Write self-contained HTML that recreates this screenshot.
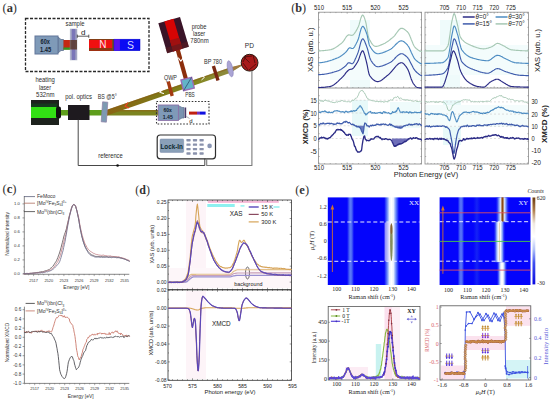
<!DOCTYPE html>
<html><head><meta charset="utf-8"><style>
html,body{margin:0;padding:0;background:#fff;}
body{width:550px;height:402px;overflow:hidden;font-family:"Liberation Sans", sans-serif;}
svg{display:block;}
</style></head><body>
<svg width="550" height="402" viewBox="0 0 550 402">
<rect x="0" y="0" width="550" height="402" fill="#fff"/>
<text x="2.50" y="11.80" font-size="12.3" fill="#333" text-anchor="start" font-family='"Liberation Serif", serif' font-weight="normal"  textLength="14.5" lengthAdjust="spacingAndGlyphs">(<tspan font-weight="bold">a</tspan>)</text>
<rect x="25.50" y="18.50" width="123.50" height="53.00" fill="none" stroke="#2a2a2a" stroke-width="1.3" stroke-dasharray="3 1.5"/>
<polygon points="58.0,37.0 61.0,39.5 63.5,39.5 63.5,50.5 61.0,50.5 58.0,53.0" fill="#7a93b0" stroke="#5f7290" stroke-width="0.8" />
<rect x="35.00" y="36.00" width="23.00" height="18.00" fill="#7f9ab8" stroke="#63769a" stroke-width="1" />
<text x="45.20" y="44.00" font-size="6.4" fill="#142230" text-anchor="middle" font-family='"Liberation Sans", sans-serif' font-weight="bold"  textLength="9.4" lengthAdjust="spacingAndGlyphs">60x</text>
<text x="45.60" y="51.60" font-size="6.4" fill="#142230" text-anchor="middle" font-family='"Liberation Sans", sans-serif' font-weight="bold"  textLength="11.2" lengthAdjust="spacingAndGlyphs">1.45</text>
<rect x="63.50" y="40.00" width="7.00" height="9.50" fill="#c42812" stroke="none" stroke-width="1" />
<rect x="63.50" y="47.50" width="7.00" height="2.20" fill="#2f9a22" stroke="none" stroke-width="1" />
<rect x="70.20" y="29.00" width="6.80" height="31.00" fill="#9a9cc0" stroke="#b4bccc" stroke-width="0.6" />
<rect x="72.00" y="29.00" width="3.20" height="31.00" fill="#7a76b8" stroke="none" stroke-width="1" />
<rect x="70.20" y="40.00" width="6.80" height="9.50" fill="#5a3a2a" stroke="none" stroke-width="1" opacity="0.85"/>
<text x="75.00" y="25.50" font-size="6.6" fill="#2c2c2c" text-anchor="middle" font-family='"Liberation Sans", sans-serif' font-weight="normal"  textLength="18.9" lengthAdjust="spacingAndGlyphs">sample</text>
<text x="83.30" y="35.20" font-size="8" fill="#222" text-anchor="middle" font-family='"Liberation Sans", sans-serif' font-weight="normal" >d</text>
<line x1="77.30" y1="36.20" x2="88.80" y2="36.20" stroke="#333" stroke-width="0.8" />
<line x1="77.30" y1="34.60" x2="77.30" y2="37.80" stroke="#333" stroke-width="0.8" />
<line x1="88.80" y1="34.60" x2="88.80" y2="37.80" stroke="#333" stroke-width="0.8" />
<rect x="89.00" y="39.00" width="25.00" height="12.00" fill="#f01010" stroke="none" stroke-width="1" />
<rect x="89.00" y="39.00" width="25.00" height="0.80" fill="#6a4a18" stroke="none" stroke-width="1" />
<rect x="89.00" y="48.00" width="25.00" height="2.80" fill="#8a3812" stroke="none" stroke-width="1" />
<rect x="112.20" y="39.00" width="1.80" height="12.00" fill="#6a5420" stroke="none" stroke-width="1" />
<text x="102.80" y="48.00" font-size="10" fill="#ffe4ee" text-anchor="middle" font-family='"Liberation Sans", sans-serif' font-weight="normal" >N</text>
<rect x="114.00" y="39.20" width="26.00" height="11.50" fill="#0a0af4" stroke="#0000c8" stroke-width="0.5" />
<rect x="114.20" y="39.40" width="5.70" height="11.10" fill="#5a10f0" stroke="none" stroke-width="1" />
<text x="130.40" y="49.00" font-size="10.5" fill="#d8dcff" text-anchor="middle" font-family='"Liberation Sans", sans-serif' font-weight="normal" >S</text>
<rect x="31.00" y="100.00" width="28.00" height="25.00" fill="#1d221d" stroke="none" stroke-width="1" />
<rect x="31.00" y="107.00" width="26.00" height="11.00" fill="#32e014" stroke="none" stroke-width="1" />
<rect x="31.00" y="103.50" width="26.00" height="3.50" fill="#104a20" stroke="none" stroke-width="1" opacity="0.6"/>
<rect x="56" y="106.5" width="5" height="12" rx="2" fill="#101010"/>
<rect x="61.00" y="110.00" width="41.50" height="5.50" fill="#5e9e1c" stroke="none" stroke-width="1" />
<rect x="68.00" y="105.00" width="21.50" height="15.00" fill="#1e1a1f" stroke="none" stroke-width="1" />
<rect x="107.00" y="110.00" width="52.00" height="5.50" fill="#7c8420" stroke="none" stroke-width="1" />
<rect x="107.00" y="110.00" width="52.00" height="1.50" fill="#8a6a18" stroke="none" stroke-width="1" opacity="0.7"/>
<defs><linearGradient id="gbeam" x1="107" y1="112" x2="230" y2="70" gradientUnits="userSpaceOnUse"><stop offset="0" stop-color="#8a6414"/><stop offset="0.45" stop-color="#7e7a18"/><stop offset="0.7" stop-color="#84881e"/><stop offset="1" stop-color="#8e8a40"/></linearGradient></defs>
<polygon points="107,109.8 230,67.5 243,65.0 230,73.0 107,115.5" fill="url(#gbeam)"/>
<polygon points="107,109.8 230,67.5 230,68.9 107,111.2" fill="#8a5a14" opacity="0.5"/>
<polygon points="231,67.2 245,63.4 231,71.8" fill="#a07a40"/>
<line x1="177.80" y1="50.00" x2="186.50" y2="81.00" stroke="#8c2e0c" stroke-width="4.2" />
<g transform="translate(173.6,35.1) rotate(-16.5)"><rect x="-11.3" y="-15.6" width="22.6" height="31.2" fill="#3a1428"/><rect x="-5" y="-15.6" width="9.5" height="31.2" fill="#d60404"/><rect x="-5" y="4" width="9.5" height="11.6" fill="#a01010"/><rect x="-11.3" y="10" width="22.6" height="5.6" fill="#5a1a20" opacity="0.6"/></g>
<g transform="translate(104.5,112) rotate(4)"><rect x="-2.6" y="-10" width="5.2" height="20" fill="#7d9ab2" stroke="#8f7fa8" stroke-width="0.7"/></g>
<line x1="168.20" y1="81.50" x2="172.20" y2="96.00" stroke="#a43a12" stroke-width="3.4" />
<g transform="translate(187.6,84) rotate(-14)"><rect x="-5.5" y="-5.5" width="11" height="11" fill="#62b4c8" stroke="#9a6cb8" stroke-width="1.4"/><line x1="-5.5" y1="5.5" x2="5.5" y2="-5.5" stroke="#2a4a6a" stroke-width="0.7"/></g>
<line x1="213.40" y1="66.00" x2="218.00" y2="80.50" stroke="#7a2812" stroke-width="3.4" />
<ellipse cx="230.2" cy="68.8" rx="2.6" ry="8.2" fill="#aaa4d4" stroke="#8a82bc" stroke-width="0.6" transform="rotate(-12 230.2 68.8)"/>
<circle cx="249.6" cy="62.7" r="8.4" fill="#a81a1a" stroke="#2a1a10" stroke-width="1"/>
<path d="M244,57 L252,56 M253,55 L255,63 M256,64 L249,70 M248,70 L243,63 M243,62 L246,56 M249.6,62.7 L244,57" stroke="#4a0a0a" stroke-width="0.8" fill="none"/>
<polyline points="162.5,89.5 159.8,92.2 163.5,93.5" fill="none" stroke="#fff" stroke-width="1.1" stroke-linejoin="round" stroke-linecap="round" />
<polyline points="178.5,58.0 180.8,61.2 183.4,57.6" fill="none" stroke="#fff" stroke-width="1.1" stroke-linejoin="round" stroke-linecap="round" />
<polyline points="201.3,75.3 204.5,77.2 201.8,79.7" fill="none" stroke="#fff" stroke-width="1.0" stroke-linejoin="round" stroke-linecap="round" />
<polyline points="127.6,103.0 125.0,106.3 128.6,107.8" fill="none" stroke="#f04020" stroke-width="1.2" stroke-linejoin="round" stroke-linecap="round" />
<rect x="156.50" y="101.50" width="52.50" height="22.50" fill="none" stroke="#333" stroke-width="1.1" stroke-dasharray="1.6 1.6"/>
<polygon points="178.4,105.5 182.0,107.5 184.0,107.5 184.0,118.0 182.0,118.0 178.4,120.0" fill="#7a93b0" stroke="#5f7290" stroke-width="0.7" />
<rect x="158.20" y="105.00" width="20.20" height="15.40" fill="#7f9ab8" stroke="#8a70a8" stroke-width="0.9" />
<text x="167.60" y="111.60" font-size="5.8" fill="#142230" text-anchor="middle" font-family='"Liberation Sans", sans-serif' font-weight="bold"  textLength="8.4" lengthAdjust="spacingAndGlyphs">60x</text>
<text x="167.80" y="118.60" font-size="5.8" fill="#142230" text-anchor="middle" font-family='"Liberation Sans", sans-serif' font-weight="bold"  textLength="10.0" lengthAdjust="spacingAndGlyphs">1.45</text>
<rect x="184.60" y="107.50" width="1.60" height="10.50" fill="#4a3a6a" stroke="none" stroke-width="1" />
<rect x="189.00" y="111.60" width="8.00" height="3.00" fill="#c02010" stroke="none" stroke-width="1" />
<rect x="197.00" y="111.60" width="3.00" height="3.00" fill="#7030c0" stroke="none" stroke-width="1" />
<rect x="200.00" y="111.60" width="5.60" height="3.00" fill="#1010e0" stroke="none" stroke-width="1" />
<text x="191.00" y="122.60" font-size="6" fill="#222" text-anchor="middle" font-family='"Liberation Sans", sans-serif' font-weight="normal" >d</text>
<line x1="186.50" y1="116.50" x2="189.50" y2="118.50" stroke="#555" stroke-width="0.5" />
<rect x="157.2" y="135" width="58.3" height="23.8" rx="3" fill="#fff" stroke="#2e2e2e" stroke-width="1.2"/>
<rect x="160.00" y="139.00" width="23.70" height="13.40" fill="#8aa0b8" stroke="#7a88a8" stroke-width="0.5" rx="1"/>
<text x="171.70" y="148.50" font-size="7.1" fill="#0e2a30" text-anchor="middle" font-family='"Liberation Sans", sans-serif' font-weight="bold"  textLength="22.4" lengthAdjust="spacingAndGlyphs">Lock-In</text>
<rect x="186.40" y="139.00" width="4.20" height="2.40" fill="#8a92ac" stroke="none" stroke-width="1" rx="0.6"/>
<rect x="186.40" y="143.40" width="4.20" height="2.40" fill="#8a92ac" stroke="none" stroke-width="1" rx="0.6"/>
<rect x="186.40" y="147.90" width="4.20" height="2.40" fill="#8a92ac" stroke="none" stroke-width="1" rx="0.6"/>
<rect x="186.40" y="152.30" width="4.20" height="2.40" fill="#8a92ac" stroke="none" stroke-width="1" rx="0.6"/>
<rect x="192.90" y="139.00" width="4.20" height="2.40" fill="#8a92ac" stroke="none" stroke-width="1" rx="0.6"/>
<rect x="192.90" y="143.40" width="4.20" height="2.40" fill="#8a92ac" stroke="none" stroke-width="1" rx="0.6"/>
<rect x="192.90" y="147.90" width="4.20" height="2.40" fill="#8a92ac" stroke="none" stroke-width="1" rx="0.6"/>
<rect x="192.90" y="152.30" width="4.20" height="2.40" fill="#8a92ac" stroke="none" stroke-width="1" rx="0.6"/>
<rect x="199.50" y="139.00" width="4.20" height="2.40" fill="#8a92ac" stroke="none" stroke-width="1" rx="0.6"/>
<rect x="199.50" y="143.40" width="4.20" height="2.40" fill="#8a92ac" stroke="none" stroke-width="1" rx="0.6"/>
<rect x="199.50" y="147.90" width="4.20" height="2.40" fill="#8a92ac" stroke="none" stroke-width="1" rx="0.6"/>
<rect x="199.50" y="152.30" width="4.20" height="2.40" fill="#8a92ac" stroke="none" stroke-width="1" rx="0.6"/>
<circle cx="209.6" cy="145.9" r="2.3" fill="#8a96b4"/>
<polyline points="78.2,120.0 78.2,165.5 204.8,165.5 204.8,159.0" fill="none" stroke="#333" stroke-width="0.9" stroke-linejoin="round" stroke-linecap="round" />
<polyline points="251.9,71.2 251.9,165.5 206.7,165.5 206.7,159.0" fill="none" stroke="#7a7a7a" stroke-width="1.1" stroke-linejoin="round" stroke-linecap="round" />
<circle cx="117.6" cy="165.5" r="1.3" fill="#111"/>
<text x="199.10" y="28.90" font-size="6.6" fill="#2c2c2c" text-anchor="middle" font-family='"Liberation Sans", sans-serif' font-weight="normal"  textLength="14.8" lengthAdjust="spacingAndGlyphs">probe</text>
<text x="199.10" y="35.50" font-size="6.6" fill="#2c2c2c" text-anchor="middle" font-family='"Liberation Sans", sans-serif' font-weight="normal"  textLength="12.2" lengthAdjust="spacingAndGlyphs">laser</text>
<text x="199.50" y="42.90" font-size="6.6" fill="#2c2c2c" text-anchor="middle" font-family='"Liberation Sans", sans-serif' font-weight="normal"  textLength="18.3" lengthAdjust="spacingAndGlyphs">780nm</text>
<text x="249.40" y="47.90" font-size="6.6" fill="#2c2c2c" text-anchor="middle" font-family='"Liberation Sans", sans-serif' font-weight="normal" >PD</text>
<text x="213.00" y="64.00" font-size="6.6" fill="#2c2c2c" text-anchor="middle" font-family='"Liberation Sans", sans-serif' font-weight="normal"  textLength="18" lengthAdjust="spacingAndGlyphs">BP 780</text>
<text x="170.50" y="80.00" font-size="6.6" fill="#2c2c2c" text-anchor="middle" font-family='"Liberation Sans", sans-serif' font-weight="normal"  textLength="13" lengthAdjust="spacingAndGlyphs">QWP</text>
<text x="190.00" y="96.50" font-size="6.6" fill="#2c2c2c" text-anchor="middle" font-family='"Liberation Sans", sans-serif' font-weight="normal"  textLength="9.5" lengthAdjust="spacingAndGlyphs">PBS</text>
<text x="45.10" y="82.40" font-size="6.6" fill="#2c2c2c" text-anchor="middle" font-family='"Liberation Sans", sans-serif' font-weight="normal"  textLength="19.4" lengthAdjust="spacingAndGlyphs">heating</text>
<text x="45.00" y="89.50" font-size="6.6" fill="#2c2c2c" text-anchor="middle" font-family='"Liberation Sans", sans-serif' font-weight="normal"  textLength="12" lengthAdjust="spacingAndGlyphs">laser</text>
<text x="45.30" y="96.60" font-size="6.6" fill="#2c2c2c" text-anchor="middle" font-family='"Liberation Sans", sans-serif' font-weight="normal"  textLength="18.4" lengthAdjust="spacingAndGlyphs">532nm</text>
<text x="78.60" y="98.50" font-size="6.6" fill="#2c2c2c" text-anchor="middle" font-family='"Liberation Sans", sans-serif' font-weight="normal"  textLength="26.6" lengthAdjust="spacingAndGlyphs">pol. optics</text>
<text x="107.30" y="98.50" font-size="6.6" fill="#2c2c2c" text-anchor="middle" font-family='"Liberation Sans", sans-serif' font-weight="normal"  textLength="19" lengthAdjust="spacingAndGlyphs">BS @5°</text>
<text x="110.50" y="157.50" font-size="6.6" fill="#2c2c2c" text-anchor="middle" font-family='"Liberation Sans", sans-serif' font-weight="normal"  textLength="24.5" lengthAdjust="spacingAndGlyphs">reference</text>
<text x="291.20" y="11.80" font-size="12.3" fill="#333" text-anchor="start" font-family='"Liberation Serif", serif' font-weight="normal"  textLength="15.0" lengthAdjust="spacingAndGlyphs">(<tspan font-weight="bold">b</tspan>)</text>
<g opacity="0.4">
<rect x="350.00" y="20.00" width="20.00" height="68.00" fill="#d8f6f6" stroke="none" stroke-width="1" />
<rect x="330.00" y="50.00" width="95.00" height="30.00" fill="#e6fafa" stroke="none" stroke-width="1" />
<rect x="440.00" y="20.00" width="20.00" height="68.00" fill="#d8f6f6" stroke="none" stroke-width="1" />
<rect x="425.00" y="45.00" width="104.00" height="30.00" fill="#e2f8f8" stroke="none" stroke-width="1" />
<rect x="352.00" y="100.00" width="16.00" height="36.00" fill="#c8f2f2" stroke="none" stroke-width="1" />
<rect x="390.00" y="102.00" width="30.00" height="26.00" fill="#d8f6f6" stroke="none" stroke-width="1" />
<rect x="443.00" y="100.00" width="18.00" height="45.00" fill="#c8f2f2" stroke="none" stroke-width="1" />
<rect x="425.00" y="105.00" width="104.00" height="22.00" fill="#e6fafa" stroke="none" stroke-width="1" />
</g>
<rect x="318.60" y="12.20" width="103.00" height="151.80" fill="none" stroke="#8a8a8a" stroke-width="0.8" />
<line x1="318.60" y1="88.00" x2="421.60" y2="88.00" stroke="#8a8a8a" stroke-width="0.9" />
<rect x="425.00" y="12.20" width="103.50" height="151.80" fill="none" stroke="#8a8a8a" stroke-width="0.8" />
<line x1="425.00" y1="88.00" x2="528.50" y2="88.00" stroke="#8a8a8a" stroke-width="0.9" />
<line x1="319.00" y1="12.20" x2="319.00" y2="13.80" stroke="#777" stroke-width="0.5" />
<line x1="319.00" y1="164.00" x2="319.00" y2="162.40" stroke="#777" stroke-width="0.5" />
<line x1="319.00" y1="88.00" x2="319.00" y2="86.40" stroke="#777" stroke-width="0.5" />
<line x1="324.64" y1="12.20" x2="324.64" y2="13.10" stroke="#777" stroke-width="0.5" />
<line x1="324.64" y1="164.00" x2="324.64" y2="163.10" stroke="#777" stroke-width="0.5" />
<line x1="324.64" y1="88.00" x2="324.64" y2="87.10" stroke="#777" stroke-width="0.5" />
<line x1="330.28" y1="12.20" x2="330.28" y2="13.10" stroke="#777" stroke-width="0.5" />
<line x1="330.28" y1="164.00" x2="330.28" y2="163.10" stroke="#777" stroke-width="0.5" />
<line x1="330.28" y1="88.00" x2="330.28" y2="87.10" stroke="#777" stroke-width="0.5" />
<line x1="335.92" y1="12.20" x2="335.92" y2="13.10" stroke="#777" stroke-width="0.5" />
<line x1="335.92" y1="164.00" x2="335.92" y2="163.10" stroke="#777" stroke-width="0.5" />
<line x1="335.92" y1="88.00" x2="335.92" y2="87.10" stroke="#777" stroke-width="0.5" />
<line x1="341.56" y1="12.20" x2="341.56" y2="13.10" stroke="#777" stroke-width="0.5" />
<line x1="341.56" y1="164.00" x2="341.56" y2="163.10" stroke="#777" stroke-width="0.5" />
<line x1="341.56" y1="88.00" x2="341.56" y2="87.10" stroke="#777" stroke-width="0.5" />
<line x1="347.20" y1="12.20" x2="347.20" y2="13.80" stroke="#777" stroke-width="0.5" />
<line x1="347.20" y1="164.00" x2="347.20" y2="162.40" stroke="#777" stroke-width="0.5" />
<line x1="347.20" y1="88.00" x2="347.20" y2="86.40" stroke="#777" stroke-width="0.5" />
<line x1="352.84" y1="12.20" x2="352.84" y2="13.10" stroke="#777" stroke-width="0.5" />
<line x1="352.84" y1="164.00" x2="352.84" y2="163.10" stroke="#777" stroke-width="0.5" />
<line x1="352.84" y1="88.00" x2="352.84" y2="87.10" stroke="#777" stroke-width="0.5" />
<line x1="358.48" y1="12.20" x2="358.48" y2="13.10" stroke="#777" stroke-width="0.5" />
<line x1="358.48" y1="164.00" x2="358.48" y2="163.10" stroke="#777" stroke-width="0.5" />
<line x1="358.48" y1="88.00" x2="358.48" y2="87.10" stroke="#777" stroke-width="0.5" />
<line x1="364.12" y1="12.20" x2="364.12" y2="13.10" stroke="#777" stroke-width="0.5" />
<line x1="364.12" y1="164.00" x2="364.12" y2="163.10" stroke="#777" stroke-width="0.5" />
<line x1="364.12" y1="88.00" x2="364.12" y2="87.10" stroke="#777" stroke-width="0.5" />
<line x1="369.76" y1="12.20" x2="369.76" y2="13.10" stroke="#777" stroke-width="0.5" />
<line x1="369.76" y1="164.00" x2="369.76" y2="163.10" stroke="#777" stroke-width="0.5" />
<line x1="369.76" y1="88.00" x2="369.76" y2="87.10" stroke="#777" stroke-width="0.5" />
<line x1="375.40" y1="12.20" x2="375.40" y2="13.80" stroke="#777" stroke-width="0.5" />
<line x1="375.40" y1="164.00" x2="375.40" y2="162.40" stroke="#777" stroke-width="0.5" />
<line x1="375.40" y1="88.00" x2="375.40" y2="86.40" stroke="#777" stroke-width="0.5" />
<line x1="381.04" y1="12.20" x2="381.04" y2="13.10" stroke="#777" stroke-width="0.5" />
<line x1="381.04" y1="164.00" x2="381.04" y2="163.10" stroke="#777" stroke-width="0.5" />
<line x1="381.04" y1="88.00" x2="381.04" y2="87.10" stroke="#777" stroke-width="0.5" />
<line x1="386.68" y1="12.20" x2="386.68" y2="13.10" stroke="#777" stroke-width="0.5" />
<line x1="386.68" y1="164.00" x2="386.68" y2="163.10" stroke="#777" stroke-width="0.5" />
<line x1="386.68" y1="88.00" x2="386.68" y2="87.10" stroke="#777" stroke-width="0.5" />
<line x1="392.32" y1="12.20" x2="392.32" y2="13.10" stroke="#777" stroke-width="0.5" />
<line x1="392.32" y1="164.00" x2="392.32" y2="163.10" stroke="#777" stroke-width="0.5" />
<line x1="392.32" y1="88.00" x2="392.32" y2="87.10" stroke="#777" stroke-width="0.5" />
<line x1="397.96" y1="12.20" x2="397.96" y2="13.10" stroke="#777" stroke-width="0.5" />
<line x1="397.96" y1="164.00" x2="397.96" y2="163.10" stroke="#777" stroke-width="0.5" />
<line x1="397.96" y1="88.00" x2="397.96" y2="87.10" stroke="#777" stroke-width="0.5" />
<line x1="403.60" y1="12.20" x2="403.60" y2="13.80" stroke="#777" stroke-width="0.5" />
<line x1="403.60" y1="164.00" x2="403.60" y2="162.40" stroke="#777" stroke-width="0.5" />
<line x1="403.60" y1="88.00" x2="403.60" y2="86.40" stroke="#777" stroke-width="0.5" />
<line x1="409.24" y1="12.20" x2="409.24" y2="13.10" stroke="#777" stroke-width="0.5" />
<line x1="409.24" y1="164.00" x2="409.24" y2="163.10" stroke="#777" stroke-width="0.5" />
<line x1="409.24" y1="88.00" x2="409.24" y2="87.10" stroke="#777" stroke-width="0.5" />
<line x1="414.88" y1="12.20" x2="414.88" y2="13.10" stroke="#777" stroke-width="0.5" />
<line x1="414.88" y1="164.00" x2="414.88" y2="163.10" stroke="#777" stroke-width="0.5" />
<line x1="414.88" y1="88.00" x2="414.88" y2="87.10" stroke="#777" stroke-width="0.5" />
<line x1="420.52" y1="12.20" x2="420.52" y2="13.10" stroke="#777" stroke-width="0.5" />
<line x1="420.52" y1="164.00" x2="420.52" y2="163.10" stroke="#777" stroke-width="0.5" />
<line x1="420.52" y1="88.00" x2="420.52" y2="87.10" stroke="#777" stroke-width="0.5" />
<line x1="427.80" y1="12.20" x2="427.80" y2="13.80" stroke="#777" stroke-width="0.5" />
<line x1="427.80" y1="164.00" x2="427.80" y2="162.40" stroke="#777" stroke-width="0.5" />
<line x1="427.80" y1="88.00" x2="427.80" y2="86.40" stroke="#777" stroke-width="0.5" />
<line x1="431.12" y1="12.20" x2="431.12" y2="13.10" stroke="#777" stroke-width="0.5" />
<line x1="431.12" y1="164.00" x2="431.12" y2="163.10" stroke="#777" stroke-width="0.5" />
<line x1="431.12" y1="88.00" x2="431.12" y2="87.10" stroke="#777" stroke-width="0.5" />
<line x1="434.44" y1="12.20" x2="434.44" y2="13.10" stroke="#777" stroke-width="0.5" />
<line x1="434.44" y1="164.00" x2="434.44" y2="163.10" stroke="#777" stroke-width="0.5" />
<line x1="434.44" y1="88.00" x2="434.44" y2="87.10" stroke="#777" stroke-width="0.5" />
<line x1="437.76" y1="12.20" x2="437.76" y2="13.10" stroke="#777" stroke-width="0.5" />
<line x1="437.76" y1="164.00" x2="437.76" y2="163.10" stroke="#777" stroke-width="0.5" />
<line x1="437.76" y1="88.00" x2="437.76" y2="87.10" stroke="#777" stroke-width="0.5" />
<line x1="441.08" y1="12.20" x2="441.08" y2="13.10" stroke="#777" stroke-width="0.5" />
<line x1="441.08" y1="164.00" x2="441.08" y2="163.10" stroke="#777" stroke-width="0.5" />
<line x1="441.08" y1="88.00" x2="441.08" y2="87.10" stroke="#777" stroke-width="0.5" />
<line x1="444.40" y1="12.20" x2="444.40" y2="13.80" stroke="#777" stroke-width="0.5" />
<line x1="444.40" y1="164.00" x2="444.40" y2="162.40" stroke="#777" stroke-width="0.5" />
<line x1="444.40" y1="88.00" x2="444.40" y2="86.40" stroke="#777" stroke-width="0.5" />
<line x1="447.72" y1="12.20" x2="447.72" y2="13.10" stroke="#777" stroke-width="0.5" />
<line x1="447.72" y1="164.00" x2="447.72" y2="163.10" stroke="#777" stroke-width="0.5" />
<line x1="447.72" y1="88.00" x2="447.72" y2="87.10" stroke="#777" stroke-width="0.5" />
<line x1="451.04" y1="12.20" x2="451.04" y2="13.10" stroke="#777" stroke-width="0.5" />
<line x1="451.04" y1="164.00" x2="451.04" y2="163.10" stroke="#777" stroke-width="0.5" />
<line x1="451.04" y1="88.00" x2="451.04" y2="87.10" stroke="#777" stroke-width="0.5" />
<line x1="454.36" y1="12.20" x2="454.36" y2="13.10" stroke="#777" stroke-width="0.5" />
<line x1="454.36" y1="164.00" x2="454.36" y2="163.10" stroke="#777" stroke-width="0.5" />
<line x1="454.36" y1="88.00" x2="454.36" y2="87.10" stroke="#777" stroke-width="0.5" />
<line x1="457.68" y1="12.20" x2="457.68" y2="13.10" stroke="#777" stroke-width="0.5" />
<line x1="457.68" y1="164.00" x2="457.68" y2="163.10" stroke="#777" stroke-width="0.5" />
<line x1="457.68" y1="88.00" x2="457.68" y2="87.10" stroke="#777" stroke-width="0.5" />
<line x1="461.00" y1="12.20" x2="461.00" y2="13.80" stroke="#777" stroke-width="0.5" />
<line x1="461.00" y1="164.00" x2="461.00" y2="162.40" stroke="#777" stroke-width="0.5" />
<line x1="461.00" y1="88.00" x2="461.00" y2="86.40" stroke="#777" stroke-width="0.5" />
<line x1="464.32" y1="12.20" x2="464.32" y2="13.10" stroke="#777" stroke-width="0.5" />
<line x1="464.32" y1="164.00" x2="464.32" y2="163.10" stroke="#777" stroke-width="0.5" />
<line x1="464.32" y1="88.00" x2="464.32" y2="87.10" stroke="#777" stroke-width="0.5" />
<line x1="467.64" y1="12.20" x2="467.64" y2="13.10" stroke="#777" stroke-width="0.5" />
<line x1="467.64" y1="164.00" x2="467.64" y2="163.10" stroke="#777" stroke-width="0.5" />
<line x1="467.64" y1="88.00" x2="467.64" y2="87.10" stroke="#777" stroke-width="0.5" />
<line x1="470.96" y1="12.20" x2="470.96" y2="13.10" stroke="#777" stroke-width="0.5" />
<line x1="470.96" y1="164.00" x2="470.96" y2="163.10" stroke="#777" stroke-width="0.5" />
<line x1="470.96" y1="88.00" x2="470.96" y2="87.10" stroke="#777" stroke-width="0.5" />
<line x1="474.28" y1="12.20" x2="474.28" y2="13.10" stroke="#777" stroke-width="0.5" />
<line x1="474.28" y1="164.00" x2="474.28" y2="163.10" stroke="#777" stroke-width="0.5" />
<line x1="474.28" y1="88.00" x2="474.28" y2="87.10" stroke="#777" stroke-width="0.5" />
<line x1="477.60" y1="12.20" x2="477.60" y2="13.80" stroke="#777" stroke-width="0.5" />
<line x1="477.60" y1="164.00" x2="477.60" y2="162.40" stroke="#777" stroke-width="0.5" />
<line x1="477.60" y1="88.00" x2="477.60" y2="86.40" stroke="#777" stroke-width="0.5" />
<line x1="480.92" y1="12.20" x2="480.92" y2="13.10" stroke="#777" stroke-width="0.5" />
<line x1="480.92" y1="164.00" x2="480.92" y2="163.10" stroke="#777" stroke-width="0.5" />
<line x1="480.92" y1="88.00" x2="480.92" y2="87.10" stroke="#777" stroke-width="0.5" />
<line x1="484.24" y1="12.20" x2="484.24" y2="13.10" stroke="#777" stroke-width="0.5" />
<line x1="484.24" y1="164.00" x2="484.24" y2="163.10" stroke="#777" stroke-width="0.5" />
<line x1="484.24" y1="88.00" x2="484.24" y2="87.10" stroke="#777" stroke-width="0.5" />
<line x1="487.56" y1="12.20" x2="487.56" y2="13.10" stroke="#777" stroke-width="0.5" />
<line x1="487.56" y1="164.00" x2="487.56" y2="163.10" stroke="#777" stroke-width="0.5" />
<line x1="487.56" y1="88.00" x2="487.56" y2="87.10" stroke="#777" stroke-width="0.5" />
<line x1="490.88" y1="12.20" x2="490.88" y2="13.10" stroke="#777" stroke-width="0.5" />
<line x1="490.88" y1="164.00" x2="490.88" y2="163.10" stroke="#777" stroke-width="0.5" />
<line x1="490.88" y1="88.00" x2="490.88" y2="87.10" stroke="#777" stroke-width="0.5" />
<line x1="494.20" y1="12.20" x2="494.20" y2="13.80" stroke="#777" stroke-width="0.5" />
<line x1="494.20" y1="164.00" x2="494.20" y2="162.40" stroke="#777" stroke-width="0.5" />
<line x1="494.20" y1="88.00" x2="494.20" y2="86.40" stroke="#777" stroke-width="0.5" />
<line x1="497.52" y1="12.20" x2="497.52" y2="13.10" stroke="#777" stroke-width="0.5" />
<line x1="497.52" y1="164.00" x2="497.52" y2="163.10" stroke="#777" stroke-width="0.5" />
<line x1="497.52" y1="88.00" x2="497.52" y2="87.10" stroke="#777" stroke-width="0.5" />
<line x1="500.84" y1="12.20" x2="500.84" y2="13.10" stroke="#777" stroke-width="0.5" />
<line x1="500.84" y1="164.00" x2="500.84" y2="163.10" stroke="#777" stroke-width="0.5" />
<line x1="500.84" y1="88.00" x2="500.84" y2="87.10" stroke="#777" stroke-width="0.5" />
<line x1="504.16" y1="12.20" x2="504.16" y2="13.10" stroke="#777" stroke-width="0.5" />
<line x1="504.16" y1="164.00" x2="504.16" y2="163.10" stroke="#777" stroke-width="0.5" />
<line x1="504.16" y1="88.00" x2="504.16" y2="87.10" stroke="#777" stroke-width="0.5" />
<line x1="507.48" y1="12.20" x2="507.48" y2="13.10" stroke="#777" stroke-width="0.5" />
<line x1="507.48" y1="164.00" x2="507.48" y2="163.10" stroke="#777" stroke-width="0.5" />
<line x1="507.48" y1="88.00" x2="507.48" y2="87.10" stroke="#777" stroke-width="0.5" />
<line x1="510.80" y1="12.20" x2="510.80" y2="13.80" stroke="#777" stroke-width="0.5" />
<line x1="510.80" y1="164.00" x2="510.80" y2="162.40" stroke="#777" stroke-width="0.5" />
<line x1="510.80" y1="88.00" x2="510.80" y2="86.40" stroke="#777" stroke-width="0.5" />
<line x1="514.12" y1="12.20" x2="514.12" y2="13.10" stroke="#777" stroke-width="0.5" />
<line x1="514.12" y1="164.00" x2="514.12" y2="163.10" stroke="#777" stroke-width="0.5" />
<line x1="514.12" y1="88.00" x2="514.12" y2="87.10" stroke="#777" stroke-width="0.5" />
<line x1="517.44" y1="12.20" x2="517.44" y2="13.10" stroke="#777" stroke-width="0.5" />
<line x1="517.44" y1="164.00" x2="517.44" y2="163.10" stroke="#777" stroke-width="0.5" />
<line x1="517.44" y1="88.00" x2="517.44" y2="87.10" stroke="#777" stroke-width="0.5" />
<line x1="520.76" y1="12.20" x2="520.76" y2="13.10" stroke="#777" stroke-width="0.5" />
<line x1="520.76" y1="164.00" x2="520.76" y2="163.10" stroke="#777" stroke-width="0.5" />
<line x1="520.76" y1="88.00" x2="520.76" y2="87.10" stroke="#777" stroke-width="0.5" />
<line x1="524.08" y1="12.20" x2="524.08" y2="13.10" stroke="#777" stroke-width="0.5" />
<line x1="524.08" y1="164.00" x2="524.08" y2="163.10" stroke="#777" stroke-width="0.5" />
<line x1="524.08" y1="88.00" x2="524.08" y2="87.10" stroke="#777" stroke-width="0.5" />
<line x1="527.40" y1="12.20" x2="527.40" y2="13.80" stroke="#777" stroke-width="0.5" />
<line x1="527.40" y1="164.00" x2="527.40" y2="162.40" stroke="#777" stroke-width="0.5" />
<line x1="527.40" y1="88.00" x2="527.40" y2="86.40" stroke="#777" stroke-width="0.5" />
<line x1="318.60" y1="19.70" x2="319.80" y2="19.70" stroke="#777" stroke-width="0.5" />
<line x1="421.60" y1="19.70" x2="420.40" y2="19.70" stroke="#777" stroke-width="0.5" />
<line x1="425.00" y1="19.70" x2="426.20" y2="19.70" stroke="#777" stroke-width="0.5" />
<line x1="528.50" y1="19.70" x2="527.30" y2="19.70" stroke="#777" stroke-width="0.5" />
<line x1="318.60" y1="27.30" x2="319.80" y2="27.30" stroke="#777" stroke-width="0.5" />
<line x1="421.60" y1="27.30" x2="420.40" y2="27.30" stroke="#777" stroke-width="0.5" />
<line x1="425.00" y1="27.30" x2="426.20" y2="27.30" stroke="#777" stroke-width="0.5" />
<line x1="528.50" y1="27.30" x2="527.30" y2="27.30" stroke="#777" stroke-width="0.5" />
<line x1="318.60" y1="34.90" x2="319.80" y2="34.90" stroke="#777" stroke-width="0.5" />
<line x1="421.60" y1="34.90" x2="420.40" y2="34.90" stroke="#777" stroke-width="0.5" />
<line x1="425.00" y1="34.90" x2="426.20" y2="34.90" stroke="#777" stroke-width="0.5" />
<line x1="528.50" y1="34.90" x2="527.30" y2="34.90" stroke="#777" stroke-width="0.5" />
<line x1="318.60" y1="42.50" x2="319.80" y2="42.50" stroke="#777" stroke-width="0.5" />
<line x1="421.60" y1="42.50" x2="420.40" y2="42.50" stroke="#777" stroke-width="0.5" />
<line x1="425.00" y1="42.50" x2="426.20" y2="42.50" stroke="#777" stroke-width="0.5" />
<line x1="528.50" y1="42.50" x2="527.30" y2="42.50" stroke="#777" stroke-width="0.5" />
<line x1="318.60" y1="50.10" x2="319.80" y2="50.10" stroke="#777" stroke-width="0.5" />
<line x1="421.60" y1="50.10" x2="420.40" y2="50.10" stroke="#777" stroke-width="0.5" />
<line x1="425.00" y1="50.10" x2="426.20" y2="50.10" stroke="#777" stroke-width="0.5" />
<line x1="528.50" y1="50.10" x2="527.30" y2="50.10" stroke="#777" stroke-width="0.5" />
<line x1="318.60" y1="57.70" x2="319.80" y2="57.70" stroke="#777" stroke-width="0.5" />
<line x1="421.60" y1="57.70" x2="420.40" y2="57.70" stroke="#777" stroke-width="0.5" />
<line x1="425.00" y1="57.70" x2="426.20" y2="57.70" stroke="#777" stroke-width="0.5" />
<line x1="528.50" y1="57.70" x2="527.30" y2="57.70" stroke="#777" stroke-width="0.5" />
<line x1="318.60" y1="65.30" x2="319.80" y2="65.30" stroke="#777" stroke-width="0.5" />
<line x1="421.60" y1="65.30" x2="420.40" y2="65.30" stroke="#777" stroke-width="0.5" />
<line x1="425.00" y1="65.30" x2="426.20" y2="65.30" stroke="#777" stroke-width="0.5" />
<line x1="528.50" y1="65.30" x2="527.30" y2="65.30" stroke="#777" stroke-width="0.5" />
<line x1="318.60" y1="72.90" x2="319.80" y2="72.90" stroke="#777" stroke-width="0.5" />
<line x1="421.60" y1="72.90" x2="420.40" y2="72.90" stroke="#777" stroke-width="0.5" />
<line x1="425.00" y1="72.90" x2="426.20" y2="72.90" stroke="#777" stroke-width="0.5" />
<line x1="528.50" y1="72.90" x2="527.30" y2="72.90" stroke="#777" stroke-width="0.5" />
<line x1="318.60" y1="80.50" x2="319.80" y2="80.50" stroke="#777" stroke-width="0.5" />
<line x1="421.60" y1="80.50" x2="420.40" y2="80.50" stroke="#777" stroke-width="0.5" />
<line x1="425.00" y1="80.50" x2="426.20" y2="80.50" stroke="#777" stroke-width="0.5" />
<line x1="528.50" y1="80.50" x2="527.30" y2="80.50" stroke="#777" stroke-width="0.5" />
<line x1="318.60" y1="88.10" x2="319.80" y2="88.10" stroke="#777" stroke-width="0.5" />
<line x1="421.60" y1="88.10" x2="420.40" y2="88.10" stroke="#777" stroke-width="0.5" />
<line x1="425.00" y1="88.10" x2="426.20" y2="88.10" stroke="#777" stroke-width="0.5" />
<line x1="528.50" y1="88.10" x2="527.30" y2="88.10" stroke="#777" stroke-width="0.5" />
<line x1="318.60" y1="95.70" x2="319.80" y2="95.70" stroke="#777" stroke-width="0.5" />
<line x1="421.60" y1="95.70" x2="420.40" y2="95.70" stroke="#777" stroke-width="0.5" />
<line x1="425.00" y1="95.70" x2="426.20" y2="95.70" stroke="#777" stroke-width="0.5" />
<line x1="528.50" y1="95.70" x2="527.30" y2="95.70" stroke="#777" stroke-width="0.5" />
<line x1="318.60" y1="103.30" x2="319.80" y2="103.30" stroke="#777" stroke-width="0.5" />
<line x1="421.60" y1="103.30" x2="420.40" y2="103.30" stroke="#777" stroke-width="0.5" />
<line x1="425.00" y1="103.30" x2="426.20" y2="103.30" stroke="#777" stroke-width="0.5" />
<line x1="528.50" y1="103.30" x2="527.30" y2="103.30" stroke="#777" stroke-width="0.5" />
<line x1="318.60" y1="110.90" x2="319.80" y2="110.90" stroke="#777" stroke-width="0.5" />
<line x1="421.60" y1="110.90" x2="420.40" y2="110.90" stroke="#777" stroke-width="0.5" />
<line x1="425.00" y1="110.90" x2="426.20" y2="110.90" stroke="#777" stroke-width="0.5" />
<line x1="528.50" y1="110.90" x2="527.30" y2="110.90" stroke="#777" stroke-width="0.5" />
<line x1="318.60" y1="118.50" x2="319.80" y2="118.50" stroke="#777" stroke-width="0.5" />
<line x1="421.60" y1="118.50" x2="420.40" y2="118.50" stroke="#777" stroke-width="0.5" />
<line x1="425.00" y1="118.50" x2="426.20" y2="118.50" stroke="#777" stroke-width="0.5" />
<line x1="528.50" y1="118.50" x2="527.30" y2="118.50" stroke="#777" stroke-width="0.5" />
<line x1="318.60" y1="126.10" x2="319.80" y2="126.10" stroke="#777" stroke-width="0.5" />
<line x1="421.60" y1="126.10" x2="420.40" y2="126.10" stroke="#777" stroke-width="0.5" />
<line x1="425.00" y1="126.10" x2="426.20" y2="126.10" stroke="#777" stroke-width="0.5" />
<line x1="528.50" y1="126.10" x2="527.30" y2="126.10" stroke="#777" stroke-width="0.5" />
<line x1="318.60" y1="133.70" x2="319.80" y2="133.70" stroke="#777" stroke-width="0.5" />
<line x1="421.60" y1="133.70" x2="420.40" y2="133.70" stroke="#777" stroke-width="0.5" />
<line x1="425.00" y1="133.70" x2="426.20" y2="133.70" stroke="#777" stroke-width="0.5" />
<line x1="528.50" y1="133.70" x2="527.30" y2="133.70" stroke="#777" stroke-width="0.5" />
<line x1="318.60" y1="141.30" x2="319.80" y2="141.30" stroke="#777" stroke-width="0.5" />
<line x1="421.60" y1="141.30" x2="420.40" y2="141.30" stroke="#777" stroke-width="0.5" />
<line x1="425.00" y1="141.30" x2="426.20" y2="141.30" stroke="#777" stroke-width="0.5" />
<line x1="528.50" y1="141.30" x2="527.30" y2="141.30" stroke="#777" stroke-width="0.5" />
<line x1="318.60" y1="148.90" x2="319.80" y2="148.90" stroke="#777" stroke-width="0.5" />
<line x1="421.60" y1="148.90" x2="420.40" y2="148.90" stroke="#777" stroke-width="0.5" />
<line x1="425.00" y1="148.90" x2="426.20" y2="148.90" stroke="#777" stroke-width="0.5" />
<line x1="528.50" y1="148.90" x2="527.30" y2="148.90" stroke="#777" stroke-width="0.5" />
<line x1="318.60" y1="156.50" x2="319.80" y2="156.50" stroke="#777" stroke-width="0.5" />
<line x1="421.60" y1="156.50" x2="420.40" y2="156.50" stroke="#777" stroke-width="0.5" />
<line x1="425.00" y1="156.50" x2="426.20" y2="156.50" stroke="#777" stroke-width="0.5" />
<line x1="528.50" y1="156.50" x2="527.30" y2="156.50" stroke="#777" stroke-width="0.5" />
<text x="319.00" y="9.60" font-size="7.0" fill="#1a1a1a" text-anchor="middle" font-family='"Liberation Sans", sans-serif' font-weight="normal"  textLength="10.0" lengthAdjust="spacingAndGlyphs">510</text>
<text x="319.00" y="170.30" font-size="7.0" fill="#1a1a1a" text-anchor="middle" font-family='"Liberation Sans", sans-serif' font-weight="normal"  textLength="10.0" lengthAdjust="spacingAndGlyphs">510</text>
<text x="347.20" y="9.60" font-size="7.0" fill="#1a1a1a" text-anchor="middle" font-family='"Liberation Sans", sans-serif' font-weight="normal"  textLength="10.0" lengthAdjust="spacingAndGlyphs">515</text>
<text x="347.20" y="170.30" font-size="7.0" fill="#1a1a1a" text-anchor="middle" font-family='"Liberation Sans", sans-serif' font-weight="normal"  textLength="10.0" lengthAdjust="spacingAndGlyphs">515</text>
<text x="375.40" y="9.60" font-size="7.0" fill="#1a1a1a" text-anchor="middle" font-family='"Liberation Sans", sans-serif' font-weight="normal"  textLength="10.0" lengthAdjust="spacingAndGlyphs">520</text>
<text x="375.40" y="170.30" font-size="7.0" fill="#1a1a1a" text-anchor="middle" font-family='"Liberation Sans", sans-serif' font-weight="normal"  textLength="10.0" lengthAdjust="spacingAndGlyphs">520</text>
<text x="403.60" y="9.60" font-size="7.0" fill="#1a1a1a" text-anchor="middle" font-family='"Liberation Sans", sans-serif' font-weight="normal"  textLength="10.0" lengthAdjust="spacingAndGlyphs">525</text>
<text x="403.60" y="170.30" font-size="7.0" fill="#1a1a1a" text-anchor="middle" font-family='"Liberation Sans", sans-serif' font-weight="normal"  textLength="10.0" lengthAdjust="spacingAndGlyphs">525</text>
<text x="444.40" y="9.60" font-size="7.0" fill="#1a1a1a" text-anchor="middle" font-family='"Liberation Sans", sans-serif' font-weight="normal"  textLength="10.0" lengthAdjust="spacingAndGlyphs">705</text>
<text x="444.40" y="170.30" font-size="7.0" fill="#1a1a1a" text-anchor="middle" font-family='"Liberation Sans", sans-serif' font-weight="normal"  textLength="10.0" lengthAdjust="spacingAndGlyphs">705</text>
<text x="461.00" y="9.60" font-size="7.0" fill="#1a1a1a" text-anchor="middle" font-family='"Liberation Sans", sans-serif' font-weight="normal"  textLength="10.0" lengthAdjust="spacingAndGlyphs">710</text>
<text x="461.00" y="170.30" font-size="7.0" fill="#1a1a1a" text-anchor="middle" font-family='"Liberation Sans", sans-serif' font-weight="normal"  textLength="10.0" lengthAdjust="spacingAndGlyphs">710</text>
<text x="477.60" y="9.60" font-size="7.0" fill="#1a1a1a" text-anchor="middle" font-family='"Liberation Sans", sans-serif' font-weight="normal"  textLength="10.0" lengthAdjust="spacingAndGlyphs">715</text>
<text x="477.60" y="170.30" font-size="7.0" fill="#1a1a1a" text-anchor="middle" font-family='"Liberation Sans", sans-serif' font-weight="normal"  textLength="10.0" lengthAdjust="spacingAndGlyphs">715</text>
<text x="494.20" y="9.60" font-size="7.0" fill="#1a1a1a" text-anchor="middle" font-family='"Liberation Sans", sans-serif' font-weight="normal"  textLength="10.0" lengthAdjust="spacingAndGlyphs">720</text>
<text x="494.20" y="170.30" font-size="7.0" fill="#1a1a1a" text-anchor="middle" font-family='"Liberation Sans", sans-serif' font-weight="normal"  textLength="10.0" lengthAdjust="spacingAndGlyphs">720</text>
<text x="510.80" y="9.60" font-size="7.0" fill="#1a1a1a" text-anchor="middle" font-family='"Liberation Sans", sans-serif' font-weight="normal"  textLength="10.0" lengthAdjust="spacingAndGlyphs">725</text>
<text x="510.80" y="170.30" font-size="7.0" fill="#1a1a1a" text-anchor="middle" font-family='"Liberation Sans", sans-serif' font-weight="normal"  textLength="10.0" lengthAdjust="spacingAndGlyphs">725</text>
<text x="316.80" y="102.75" font-size="7.0" fill="#1a1a1a" text-anchor="end" font-family='"Liberation Sans", sans-serif' font-weight="normal"  textLength="6.4" lengthAdjust="spacingAndGlyphs">15</text>
<text x="316.80" y="115.50" font-size="7.0" fill="#1a1a1a" text-anchor="end" font-family='"Liberation Sans", sans-serif' font-weight="normal"  textLength="6.4" lengthAdjust="spacingAndGlyphs">10</text>
<text x="316.80" y="128.25" font-size="7.0" fill="#1a1a1a" text-anchor="end" font-family='"Liberation Sans", sans-serif' font-weight="normal"  textLength="3.2" lengthAdjust="spacingAndGlyphs">5</text>
<text x="316.80" y="141.00" font-size="7.0" fill="#1a1a1a" text-anchor="end" font-family='"Liberation Sans", sans-serif' font-weight="normal"  textLength="3.2" lengthAdjust="spacingAndGlyphs">0</text>
<text x="316.80" y="153.75" font-size="7.0" fill="#1a1a1a" text-anchor="end" font-family='"Liberation Sans", sans-serif' font-weight="normal"  textLength="6.4" lengthAdjust="spacingAndGlyphs">-5</text>
<text x="531.40" y="104.40" font-size="7.0" fill="#1a1a1a" text-anchor="start" font-family='"Liberation Sans", sans-serif' font-weight="normal"  textLength="6.4" lengthAdjust="spacingAndGlyphs">30</text>
<text x="531.40" y="116.60" font-size="7.0" fill="#1a1a1a" text-anchor="start" font-family='"Liberation Sans", sans-serif' font-weight="normal"  textLength="6.4" lengthAdjust="spacingAndGlyphs">20</text>
<text x="531.40" y="128.80" font-size="7.0" fill="#1a1a1a" text-anchor="start" font-family='"Liberation Sans", sans-serif' font-weight="normal"  textLength="6.4" lengthAdjust="spacingAndGlyphs">10</text>
<text x="531.40" y="141.00" font-size="7.0" fill="#1a1a1a" text-anchor="start" font-family='"Liberation Sans", sans-serif' font-weight="normal"  textLength="3.2" lengthAdjust="spacingAndGlyphs">0</text>
<text x="531.40" y="153.20" font-size="7.0" fill="#1a1a1a" text-anchor="start" font-family='"Liberation Sans", sans-serif' font-weight="normal"  textLength="9.6" lengthAdjust="spacingAndGlyphs">-10</text>
<text x="531.40" y="165.40" font-size="7.0" fill="#1a1a1a" text-anchor="start" font-family='"Liberation Sans", sans-serif' font-weight="normal"  textLength="9.6" lengthAdjust="spacingAndGlyphs">-20</text>
<text x="0" y="0" font-size="7.4" fill="#222" text-anchor="middle" font-family='"Liberation Sans", sans-serif' font-weight="normal" transform="translate(312.90,49.70) rotate(-90)" textLength="44.5" lengthAdjust="spacingAndGlyphs">XAS (arb. u.)</text>
<text x="0" y="0" font-size="7.4" fill="#222" text-anchor="middle" font-family='"Liberation Sans", sans-serif' font-weight="bold" transform="translate(307.60,126.70) rotate(-90)" textLength="35" lengthAdjust="spacingAndGlyphs">XMCD (%)</text>
<text x="0" y="0" font-size="7.4" fill="#222" text-anchor="middle" font-family='"Liberation Sans", sans-serif' font-weight="normal" transform="translate(539.90,50.50) rotate(-90)" textLength="43" lengthAdjust="spacingAndGlyphs">XAS (arb. u.)</text>
<text x="0" y="0" font-size="7.4" fill="#222" text-anchor="middle" font-family='"Liberation Sans", sans-serif' font-weight="bold" transform="translate(547.40,124.00) rotate(-90)" textLength="38" lengthAdjust="spacingAndGlyphs">XMCD (%)</text>
<text x="426.00" y="177.00" font-size="7.6" fill="#1a1a1a" text-anchor="middle" font-family='"Liberation Sans", sans-serif' font-weight="normal"  textLength="64.4" lengthAdjust="spacingAndGlyphs">Photon Energy (eV)</text>
<line x1="319.60" y1="138.50" x2="420.60" y2="138.50" stroke="#c8c8c8" stroke-width="0.6" stroke-dasharray="2 2"/>
<line x1="319.60" y1="125.75" x2="420.60" y2="125.75" stroke="#c8c8c8" stroke-width="0.6" stroke-dasharray="2 2"/>
<line x1="319.60" y1="113.00" x2="420.60" y2="113.00" stroke="#c8c8c8" stroke-width="0.6" stroke-dasharray="2 2"/>
<line x1="319.60" y1="100.25" x2="420.60" y2="100.25" stroke="#c8c8c8" stroke-width="0.6" stroke-dasharray="2 2"/>
<line x1="426.00" y1="138.50" x2="527.50" y2="138.50" stroke="#c8c8c8" stroke-width="0.6" stroke-dasharray="2 2"/>
<line x1="426.00" y1="126.30" x2="527.50" y2="126.30" stroke="#c8c8c8" stroke-width="0.6" stroke-dasharray="2 2"/>
<line x1="426.00" y1="114.10" x2="527.50" y2="114.10" stroke="#c8c8c8" stroke-width="0.6" stroke-dasharray="2 2"/>
<line x1="426.00" y1="101.90" x2="527.50" y2="101.90" stroke="#c8c8c8" stroke-width="0.6" stroke-dasharray="2 2"/>
<polyline points="318.6,50.8 319.1,50.8 319.6,50.8 320.2,50.8 320.7,50.8 321.2,50.7 321.7,50.7 322.2,50.7 322.7,50.6 323.3,50.6 323.8,50.6 324.3,50.5 324.8,50.5 325.3,50.4 325.8,50.4 326.4,50.3 326.9,50.2 327.4,50.2 327.9,50.1 328.4,50.0 329.0,50.0 329.5,49.9 330.0,49.8 330.5,49.7 331.0,49.6 331.5,49.4 332.1,49.3 332.6,49.1 333.1,48.9 333.6,48.6 334.1,48.4 334.6,48.1 335.2,47.8 335.7,47.5 336.2,47.1 336.7,46.8 337.2,46.5 337.8,46.1 338.3,45.7 338.8,45.3 339.3,44.9 339.8,44.5 340.3,44.1 340.9,43.7 341.4,43.3 341.9,42.9 342.4,42.4 342.9,41.8 343.4,41.2 344.0,40.4 344.5,39.6 345.0,38.8 345.5,38.0 346.0,37.2 346.5,36.5 347.1,35.9 347.6,35.4 348.1,35.1 348.6,34.9 349.1,34.9 349.7,35.0 350.2,35.1 350.7,35.2 351.2,35.3 351.7,35.4 352.2,35.3 352.8,35.1 353.3,34.7 353.8,34.2 354.3,33.6 354.8,32.9 355.3,32.1 355.9,31.3 356.4,30.4 356.9,29.5 357.4,28.6 357.9,27.6 358.5,26.4 359.0,24.9 359.5,23.1 360.0,21.3 360.5,19.4 361.0,17.8 361.6,16.4 362.1,15.5 362.6,15.0 363.1,15.2 363.6,16.0 364.1,17.1 364.7,18.6 365.2,20.3 365.7,22.0 366.2,24.2 366.7,27.3 367.3,30.6 367.8,33.9 368.3,36.5 368.8,38.0 369.3,39.1 369.8,40.1 370.4,41.1 370.9,42.0 371.4,42.9 371.9,43.6 372.4,44.3 372.9,44.9 373.5,45.4 374.0,45.8 374.5,46.1 375.0,46.3 375.5,46.4 376.1,46.4 376.6,46.4 377.1,46.3 377.6,46.2 378.1,46.0 378.6,45.9 379.2,45.7 379.7,45.5 380.2,45.3 380.7,45.1 381.2,44.9 381.7,44.6 382.3,44.4 382.8,44.2 383.3,43.9 383.8,43.7 384.3,43.5 384.9,43.2 385.4,42.9 385.9,42.6 386.4,42.3 386.9,41.9 387.4,41.6 388.0,41.2 388.5,40.9 389.0,40.5 389.5,40.1 390.0,39.7 390.5,39.3 391.1,38.8 391.6,38.4 392.1,38.0 392.6,37.6 393.1,37.1 393.7,36.7 394.2,36.2 394.7,35.6 395.2,34.9 395.7,34.2 396.2,33.5 396.8,32.7 397.3,32.0 397.8,31.3 398.3,30.6 398.8,30.0 399.3,29.5 399.9,29.0 400.4,28.6 400.9,28.4 401.4,28.3 401.9,28.3 402.4,28.4 403.0,28.6 403.5,28.8 404.0,29.1 404.5,29.4 405.0,29.8 405.6,30.2 406.1,30.6 406.6,31.1 407.1,31.5 407.6,32.0 408.1,32.6 408.7,33.5 409.2,34.4 409.7,35.5 410.2,36.8 410.7,38.0 411.2,39.4 411.8,40.7 412.3,42.0 412.8,43.3 413.3,44.4 413.8,45.5 414.4,46.5 414.9,47.2 415.4,47.8 415.9,48.2 416.4,48.7 416.9,49.1 417.5,49.5 418.0,49.9 418.5,50.3 419.0,50.6 419.5,50.9 420.0,51.1 420.6,51.3 421.1,51.4 421.6,51.4" fill="none" stroke="#a6c8b4" stroke-width="1.15" stroke-linejoin="round" stroke-linecap="round" />
<polyline points="425.0,50.8 425.5,50.8 426.0,50.8 426.6,50.8 427.1,50.8 427.6,50.8 428.1,50.8 428.6,50.8 429.2,50.8 429.7,50.8 430.2,50.8 430.7,50.8 431.2,50.8 431.8,50.8 432.3,50.8 432.8,50.8 433.3,50.8 433.8,50.8 434.4,50.8 434.9,50.8 435.4,50.8 435.9,50.8 436.4,50.8 437.0,50.8 437.5,50.8 438.0,50.8 438.5,50.8 439.0,50.8 439.6,50.8 440.1,50.8 440.6,50.8 441.1,50.8 441.6,50.8 442.2,50.8 442.7,50.8 443.2,50.8 443.7,50.6 444.2,50.4 444.8,50.0 445.3,49.5 445.8,49.0 446.3,48.3 446.8,47.5 447.4,46.7 447.9,45.8 448.4,44.3 448.9,41.6 449.4,38.2 450.0,34.3 450.5,30.3 451.0,26.5 451.5,23.3 452.0,20.9 452.6,18.4 453.1,16.1 453.6,14.4 454.1,13.6 454.6,14.0 455.2,15.4 455.7,17.4 456.2,19.6 456.7,21.7 457.2,23.7 457.8,26.0 458.3,28.5 458.8,31.0 459.3,33.3 459.8,35.4 460.4,36.9 460.9,37.9 461.4,38.6 461.9,39.3 462.4,39.9 463.0,40.4 463.5,41.0 464.0,41.4 464.5,41.9 465.0,42.3 465.6,42.6 466.1,43.0 466.6,43.3 467.1,43.6 467.6,43.8 468.2,44.1 468.7,44.3 469.2,44.6 469.7,44.8 470.2,45.0 470.8,45.3 471.3,45.5 471.8,45.7 472.3,45.9 472.8,46.1 473.4,46.4 473.9,46.6 474.4,46.8 474.9,47.0 475.4,47.1 476.0,47.3 476.5,47.5 477.0,47.7 477.5,47.8 478.1,48.0 478.6,48.1 479.1,48.2 479.6,48.4 480.1,48.5 480.7,48.6 481.2,48.6 481.7,48.7 482.2,48.7 482.7,48.8 483.3,48.8 483.8,48.8 484.3,48.8 484.8,48.7 485.3,48.7 485.9,48.6 486.4,48.5 486.9,48.3 487.4,48.2 487.9,48.1 488.5,47.9 489.0,47.7 489.5,47.5 490.0,47.4 490.5,47.2 491.1,47.0 491.6,46.8 492.1,46.6 492.6,46.3 493.1,45.9 493.7,45.6 494.2,45.2 494.7,44.8 495.2,44.4 495.7,44.0 496.3,43.8 496.8,43.5 497.3,43.4 497.8,43.4 498.3,43.5 498.9,43.6 499.4,43.8 499.9,44.0 500.4,44.2 500.9,44.5 501.5,44.7 502.0,45.0 502.5,45.3 503.0,45.6 503.5,45.8 504.1,46.1 504.6,46.3 505.1,46.6 505.6,47.0 506.1,47.3 506.7,47.6 507.2,47.9 507.7,48.2 508.2,48.6 508.7,48.8 509.3,49.1 509.8,49.3 510.3,49.5 510.8,49.7 511.3,49.8 511.9,49.8 512.4,49.9 512.9,50.0 513.4,50.0 513.9,50.1 514.5,50.1 515.0,50.2 515.5,50.2 516.0,50.3 516.5,50.3 517.1,50.3 517.6,50.4 518.1,50.4 518.6,50.5 519.1,50.5 519.7,50.5 520.2,50.6 520.7,50.6 521.2,50.6 521.7,50.6 522.3,50.7 522.8,50.7 523.3,50.7 523.8,50.7 524.3,50.7 524.9,50.8 525.4,50.8 525.9,50.8 526.4,50.8 526.9,50.8 527.5,50.8 528.0,50.8 528.5,50.8" fill="none" stroke="#a6c8b4" stroke-width="1.15" stroke-linejoin="round" stroke-linecap="round" />
<polyline points="318.6,62.7 319.1,62.7 319.6,62.7 320.2,62.7 320.7,62.6 321.2,62.6 321.7,62.5 322.2,62.5 322.7,62.4 323.3,62.3 323.8,62.2 324.3,62.1 324.8,62.0 325.3,61.9 325.8,61.8 326.4,61.7 326.9,61.6 327.4,61.4 327.9,61.3 328.4,61.1 329.0,61.0 329.5,60.8 330.0,60.7 330.5,60.5 331.0,60.3 331.5,60.2 332.1,60.0 332.6,59.8 333.1,59.6 333.6,59.4 334.1,59.2 334.6,59.0 335.2,58.8 335.7,58.6 336.2,58.4 336.7,58.2 337.2,58.0 337.8,57.8 338.3,57.6 338.8,57.3 339.3,57.1 339.8,56.8 340.3,56.5 340.9,56.1 341.4,55.8 341.9,55.4 342.4,55.0 342.9,54.6 343.4,54.2 344.0,53.8 344.5,53.3 345.0,52.9 345.5,52.4 346.0,52.0 346.5,51.4 347.1,50.7 347.6,49.9 348.1,49.2 348.6,48.5 349.1,48.1 349.7,47.8 350.2,47.8 350.7,48.0 351.2,48.2 351.7,48.4 352.2,48.5 352.8,48.5 353.3,48.2 353.8,47.7 354.3,47.1 354.8,46.3 355.3,45.3 355.9,44.3 356.4,43.3 356.9,42.2 357.4,41.2 357.9,40.0 358.5,38.5 359.0,36.7 359.5,34.7 360.0,32.7 360.5,30.8 361.0,29.1 361.6,27.7 362.1,26.8 362.6,26.3 363.1,26.4 363.6,26.9 364.1,27.6 364.7,28.6 365.2,29.8 365.7,31.0 366.2,32.3 366.7,33.7 367.3,35.6 367.8,38.1 368.3,40.6 368.8,43.0 369.3,44.9 369.8,46.0 370.4,46.9 370.9,47.8 371.4,48.6 371.9,49.3 372.4,50.0 372.9,50.7 373.5,51.3 374.0,51.8 374.5,52.3 375.0,52.7 375.5,53.1 376.1,53.3 376.6,53.5 377.1,53.7 377.6,53.7 378.1,53.7 378.6,53.7 379.2,53.6 379.7,53.5 380.2,53.4 380.7,53.3 381.2,53.2 381.7,53.0 382.3,52.9 382.8,52.7 383.3,52.5 383.8,52.3 384.3,52.1 384.9,51.9 385.4,51.7 385.9,51.4 386.4,51.2 386.9,51.0 387.4,50.7 388.0,50.5 388.5,50.2 389.0,50.0 389.5,49.7 390.0,49.5 390.5,49.2 391.1,48.9 391.6,48.5 392.1,48.1 392.6,47.6 393.1,47.1 393.7,46.6 394.2,46.1 394.7,45.6 395.2,45.0 395.7,44.5 396.2,44.0 396.8,43.5 397.3,43.0 397.8,42.6 398.3,42.1 398.8,41.8 399.3,41.4 399.9,41.2 400.4,41.0 400.9,40.9 401.4,40.8 401.9,40.8 402.4,41.0 403.0,41.2 403.5,41.5 404.0,41.8 404.5,42.2 405.0,42.7 405.6,43.1 406.1,43.6 406.6,44.1 407.1,44.6 407.6,45.2 408.1,46.0 408.7,46.8 409.2,47.8 409.7,48.8 410.2,49.9 410.7,51.1 411.2,52.2 411.8,53.4 412.3,54.5 412.8,55.6 413.3,56.6 413.8,57.6 414.4,58.4 414.9,59.1 415.4,59.7 415.9,60.2 416.4,60.6 416.9,61.1 417.5,61.5 418.0,61.9 418.5,62.3 419.0,62.6 419.5,62.9 420.0,63.2 420.6,63.4 421.1,63.6 421.6,63.7" fill="none" stroke="#4d8cc2" stroke-width="1.15" stroke-linejoin="round" stroke-linecap="round" />
<polyline points="425.0,63.3 425.5,63.3 426.0,63.3 426.6,63.3 427.1,63.3 427.6,63.3 428.1,63.3 428.6,63.3 429.2,63.3 429.7,63.3 430.2,63.3 430.7,63.2 431.2,63.2 431.8,63.2 432.3,63.2 432.8,63.2 433.3,63.2 433.8,63.2 434.4,63.1 434.9,63.1 435.4,63.1 435.9,63.1 436.4,63.0 437.0,63.0 437.5,63.0 438.0,63.0 438.5,62.9 439.0,62.9 439.6,62.9 440.1,62.8 440.6,62.8 441.1,62.8 441.6,62.7 442.2,62.7 442.7,62.6 443.2,62.4 443.7,62.1 444.2,61.8 444.8,61.4 445.3,60.9 445.8,60.4 446.3,59.8 446.8,59.2 447.4,58.5 447.9,57.7 448.4,56.4 448.9,54.0 449.4,51.0 450.0,47.5 450.5,43.9 451.0,40.3 451.5,37.2 452.0,34.6 452.6,31.8 453.1,29.0 453.6,26.9 454.1,25.9 454.6,26.2 455.2,27.1 455.7,28.4 456.2,30.0 456.7,31.8 457.2,33.4 457.8,35.1 458.3,37.0 458.8,39.2 459.3,41.5 459.8,43.7 460.4,45.8 460.9,47.7 461.4,49.1 461.9,50.0 462.4,50.7 463.0,51.4 463.5,52.0 464.0,52.6 464.5,53.1 465.0,53.7 465.6,54.1 466.1,54.6 466.6,55.0 467.1,55.4 467.6,55.8 468.2,56.1 468.7,56.4 469.2,56.7 469.7,56.9 470.2,57.2 470.8,57.4 471.3,57.6 471.8,57.7 472.3,57.9 472.8,58.1 473.4,58.2 473.9,58.4 474.4,58.5 474.9,58.7 475.4,58.8 476.0,59.0 476.5,59.1 477.0,59.2 477.5,59.4 478.1,59.5 478.6,59.6 479.1,59.7 479.6,59.8 480.1,59.9 480.7,60.0 481.2,60.1 481.7,60.2 482.2,60.3 482.7,60.4 483.3,60.4 483.8,60.5 484.3,60.5 484.8,60.6 485.3,60.6 485.9,60.7 486.4,60.7 486.9,60.7 487.4,60.7 487.9,60.7 488.5,60.6 489.0,60.4 489.5,60.2 490.0,59.9 490.5,59.6 491.1,59.2 491.6,58.8 492.1,58.4 492.6,58.0 493.1,57.6 493.7,57.2 494.2,56.8 494.7,56.4 495.2,56.1 495.7,55.8 496.3,55.6 496.8,55.4 497.3,55.3 497.8,55.3 498.3,55.4 498.9,55.5 499.4,55.6 499.9,55.8 500.4,56.0 500.9,56.3 501.5,56.5 502.0,56.8 502.5,57.1 503.0,57.4 503.5,57.7 504.1,58.0 504.6,58.3 505.1,58.5 505.6,58.7 506.1,59.0 506.7,59.2 507.2,59.5 507.7,59.7 508.2,60.0 508.7,60.3 509.3,60.5 509.8,60.8 510.3,61.0 510.8,61.3 511.3,61.5 511.9,61.7 512.4,62.0 512.9,62.1 513.4,62.3 513.9,62.4 514.5,62.6 515.0,62.7 515.5,62.7 516.0,62.8 516.5,62.8 517.1,62.8 517.6,62.9 518.1,62.9 518.6,62.9 519.1,63.0 519.7,63.0 520.2,63.0 520.7,63.1 521.2,63.1 521.7,63.1 522.3,63.2 522.8,63.2 523.3,63.2 523.8,63.2 524.3,63.2 524.9,63.2 525.4,63.3 525.9,63.3 526.4,63.3 526.9,63.3 527.5,63.3 528.0,63.3 528.5,63.3" fill="none" stroke="#4d8cc2" stroke-width="1.15" stroke-linejoin="round" stroke-linecap="round" />
<polyline points="318.6,74.6 319.1,74.6 319.6,74.6 320.2,74.6 320.7,74.5 321.2,74.5 321.7,74.5 322.2,74.4 322.7,74.4 323.3,74.3 323.8,74.3 324.3,74.2 324.8,74.1 325.3,74.0 325.8,74.0 326.4,73.9 326.9,73.8 327.4,73.7 327.9,73.6 328.4,73.5 329.0,73.3 329.5,73.2 330.0,73.1 330.5,73.0 331.0,72.9 331.5,72.7 332.1,72.6 332.6,72.4 333.1,72.3 333.6,72.2 334.1,72.0 334.6,71.8 335.2,71.7 335.7,71.5 336.2,71.4 336.7,71.2 337.2,71.0 337.8,70.9 338.3,70.7 338.8,70.5 339.3,70.3 339.8,70.0 340.3,69.7 340.9,69.4 341.4,69.1 341.9,68.8 342.4,68.4 342.9,68.0 343.4,67.6 344.0,67.2 344.5,66.8 345.0,66.4 345.5,66.0 346.0,65.5 346.5,64.8 347.1,64.1 347.6,63.5 348.1,63.0 348.6,62.7 349.1,62.7 349.7,62.9 350.2,63.1 350.7,63.3 351.2,63.5 351.7,63.7 352.2,63.7 352.8,63.4 353.3,62.9 353.8,62.1 354.3,61.2 354.8,60.2 355.3,59.0 355.9,57.8 356.4,56.6 356.9,55.4 357.4,54.2 357.9,52.9 358.5,51.2 359.0,49.4 359.5,47.4 360.0,45.3 360.5,43.4 361.0,41.7 361.6,40.2 362.1,39.3 362.6,38.8 363.1,38.9 363.6,39.5 364.1,40.3 364.7,41.4 365.2,42.7 365.7,44.0 366.2,45.3 366.7,46.6 367.3,48.2 367.8,50.0 368.3,51.9 368.8,54.0 369.3,55.9 369.8,57.7 370.4,59.2 370.9,60.3 371.4,61.1 371.9,61.8 372.4,62.6 372.9,63.3 373.5,63.9 374.0,64.5 374.5,65.0 375.0,65.5 375.5,65.9 376.1,66.3 376.6,66.5 377.1,66.6 377.6,66.7 378.1,66.7 378.6,66.7 379.2,66.6 379.7,66.5 380.2,66.4 380.7,66.3 381.2,66.2 381.7,66.0 382.3,65.9 382.8,65.7 383.3,65.5 383.8,65.3 384.3,65.1 384.9,64.9 385.4,64.7 385.9,64.4 386.4,64.2 386.9,64.0 387.4,63.7 388.0,63.5 388.5,63.2 389.0,63.0 389.5,62.7 390.0,62.5 390.5,62.2 391.1,61.9 391.6,61.5 392.1,61.1 392.6,60.6 393.1,60.1 393.7,59.6 394.2,59.1 394.7,58.5 395.2,58.0 395.7,57.5 396.2,56.9 396.8,56.4 397.3,55.9 397.8,55.5 398.3,55.1 398.8,54.7 399.3,54.4 399.9,54.1 400.4,53.9 400.9,53.8 401.4,53.7 401.9,53.7 402.4,53.8 403.0,54.0 403.5,54.3 404.0,54.6 404.5,55.0 405.0,55.3 405.6,55.8 406.1,56.2 406.6,56.6 407.1,57.1 407.6,57.6 408.1,58.3 408.7,59.1 409.2,59.9 409.7,60.9 410.2,61.9 410.7,62.9 411.2,63.9 411.8,65.0 412.3,66.0 412.8,67.0 413.3,68.0 413.8,68.9 414.4,69.7 414.9,70.4 415.4,71.0 415.9,71.5 416.4,72.0 416.9,72.5 417.5,73.0 418.0,73.4 418.5,73.8 419.0,74.2 419.5,74.5 420.0,74.9 420.6,75.2 421.1,75.4 421.6,75.6" fill="none" stroke="#3f5cac" stroke-width="1.15" stroke-linejoin="round" stroke-linecap="round" />
<polyline points="425.0,75.2 425.5,75.2 426.0,75.2 426.6,75.2 427.1,75.2 427.6,75.2 428.1,75.2 428.6,75.2 429.2,75.1 429.7,75.1 430.2,75.1 430.7,75.1 431.2,75.1 431.8,75.0 432.3,75.0 432.8,75.0 433.3,74.9 433.8,74.9 434.4,74.9 434.9,74.8 435.4,74.8 435.9,74.7 436.4,74.7 437.0,74.6 437.5,74.6 438.0,74.5 438.5,74.5 439.0,74.4 439.6,74.3 440.1,74.3 440.6,74.2 441.1,74.1 441.6,74.0 442.2,73.9 442.7,73.8 443.2,73.5 443.7,73.2 444.2,72.8 444.8,72.2 445.3,71.7 445.8,71.0 446.3,70.3 446.8,69.5 447.4,68.6 447.9,67.7 448.4,66.3 448.9,64.1 449.4,61.4 450.0,58.2 450.5,55.0 451.0,51.9 451.5,49.1 452.0,46.7 452.6,44.1 453.1,41.6 453.6,39.7 454.1,38.8 454.6,39.0 455.2,39.8 455.7,40.9 456.2,42.3 456.7,43.9 457.2,45.4 457.8,46.9 458.3,48.8 458.8,51.0 459.3,53.3 459.8,55.6 460.4,57.8 460.9,59.6 461.4,61.0 461.9,61.9 462.4,62.5 463.0,63.1 463.5,63.6 464.0,64.1 464.5,64.6 465.0,65.1 465.6,65.5 466.1,65.9 466.6,66.2 467.1,66.6 467.6,66.9 468.2,67.2 468.7,67.5 469.2,67.7 469.7,68.0 470.2,68.2 470.8,68.5 471.3,68.7 471.8,68.9 472.3,69.1 472.8,69.3 473.4,69.5 473.9,69.7 474.4,69.9 474.9,70.1 475.4,70.3 476.0,70.5 476.5,70.6 477.0,70.8 477.5,71.0 478.1,71.2 478.6,71.4 479.1,71.6 479.6,71.7 480.1,71.9 480.7,72.1 481.2,72.2 481.7,72.3 482.2,72.5 482.7,72.6 483.3,72.7 483.8,72.8 484.3,72.9 484.8,73.0 485.3,73.1 485.9,73.1 486.4,73.2 486.9,73.2 487.4,73.2 487.9,73.2 488.5,73.1 489.0,73.0 489.5,72.8 490.0,72.5 490.5,72.2 491.1,71.9 491.6,71.6 492.1,71.2 492.6,70.9 493.1,70.5 493.7,70.2 494.2,69.9 494.7,69.5 495.2,69.3 495.7,69.0 496.3,68.8 496.8,68.7 497.3,68.6 497.8,68.6 498.3,68.7 498.9,68.8 499.4,68.9 499.9,69.1 500.4,69.3 500.9,69.5 501.5,69.7 502.0,70.0 502.5,70.3 503.0,70.5 503.5,70.8 504.1,71.0 504.6,71.3 505.1,71.5 505.6,71.6 506.1,71.8 506.7,72.0 507.2,72.1 507.7,72.3 508.2,72.5 508.7,72.7 509.3,72.8 509.8,73.0 510.3,73.2 510.8,73.3 511.3,73.5 511.9,73.6 512.4,73.8 512.9,73.9 513.4,74.1 513.9,74.2 514.5,74.4 515.0,74.5 515.5,74.6 516.0,74.7 516.5,74.8 517.1,74.9 517.6,75.0 518.1,75.1 518.6,75.1 519.1,75.2 519.7,75.2 520.2,75.3 520.7,75.3 521.2,75.3 521.7,75.4 522.3,75.4 522.8,75.4 523.3,75.4 523.8,75.5 524.3,75.5 524.9,75.5 525.4,75.5 525.9,75.6 526.4,75.6 526.9,75.6 527.5,75.6 528.0,75.6 528.5,75.6" fill="none" stroke="#3f5cac" stroke-width="1.15" stroke-linejoin="round" stroke-linecap="round" />
<polyline points="318.6,87.5 319.1,87.5 319.6,87.5 320.2,87.5 320.7,87.5 321.2,87.4 321.7,87.4 322.2,87.4 322.7,87.3 323.3,87.3 323.8,87.3 324.3,87.2 324.8,87.2 325.3,87.1 325.8,87.1 326.4,87.0 326.9,86.9 327.4,86.9 327.9,86.8 328.4,86.7 329.0,86.7 329.5,86.6 330.0,86.5 330.5,86.4 331.0,86.3 331.5,86.1 332.1,85.8 332.6,85.6 333.1,85.3 333.6,85.0 334.1,84.6 334.6,84.2 335.2,83.8 335.7,83.4 336.2,83.0 336.7,82.5 337.2,82.1 337.8,81.6 338.3,81.1 338.8,80.6 339.3,80.1 339.8,79.6 340.3,79.1 340.9,78.6 341.4,78.2 341.9,77.7 342.4,77.2 342.9,76.7 343.4,76.1 344.0,75.4 344.5,74.8 345.0,74.1 345.5,73.4 346.0,72.7 346.5,72.1 347.1,71.5 347.6,71.0 348.1,70.5 348.6,70.1 349.1,69.8 349.7,69.5 350.2,69.4 350.7,69.3 351.2,69.2 351.7,69.1 352.2,68.9 352.8,68.6 353.3,68.1 353.8,67.6 354.3,66.9 354.8,66.2 355.3,65.5 355.9,64.7 356.4,63.8 356.9,63.0 357.4,62.1 357.9,61.2 358.5,60.0 359.0,58.6 359.5,57.1 360.0,55.6 360.5,54.2 361.0,52.9 361.6,51.9 362.1,51.1 362.6,50.8 363.1,51.0 363.6,52.0 364.1,53.4 364.7,55.1 365.2,57.0 365.7,59.0 366.2,60.8 366.7,63.0 367.3,65.6 367.8,68.3 368.3,70.9 368.8,73.1 369.3,74.8 369.8,75.8 370.4,76.5 370.9,77.2 371.4,77.8 371.9,78.4 372.4,78.9 372.9,79.4 373.5,79.8 374.0,80.2 374.5,80.6 375.0,80.9 375.5,81.1 376.1,81.3 376.6,81.5 377.1,81.6 377.6,81.6 378.1,81.6 378.6,81.5 379.2,81.3 379.7,81.2 380.2,80.9 380.7,80.7 381.2,80.4 381.7,80.0 382.3,79.7 382.8,79.3 383.3,78.9 383.8,78.5 384.3,78.0 384.9,77.6 385.4,77.1 385.9,76.7 386.4,76.3 386.9,75.8 387.4,75.4 388.0,75.0 388.5,74.6 389.0,74.2 389.5,73.7 390.0,73.2 390.5,72.6 391.1,72.0 391.6,71.4 392.1,70.8 392.6,70.2 393.1,69.6 393.7,68.9 394.2,68.3 394.7,67.7 395.2,67.1 395.7,66.5 396.2,65.9 396.8,65.4 397.3,64.9 397.8,64.4 398.3,64.0 398.8,63.6 399.3,63.3 399.9,63.1 400.4,62.9 400.9,62.8 401.4,62.7 401.9,62.8 402.4,62.9 403.0,63.2 403.5,63.6 404.0,64.1 404.5,64.7 405.0,65.3 405.6,66.0 406.1,66.7 406.6,67.4 407.1,68.2 407.6,69.0 408.1,70.1 408.7,71.4 409.2,72.8 409.7,74.3 410.2,75.9 410.7,77.4 411.2,78.9 411.8,80.3 412.3,81.5 412.8,82.6 413.3,83.5 413.8,84.2 414.4,84.9 414.9,85.5 415.4,86.1 415.9,86.6 416.4,87.0 416.9,87.3 417.5,87.5 418.0,87.6 418.5,87.7 419.0,87.8 419.5,87.9 420.0,87.9 420.6,88.0 421.1,88.0 421.6,88.0" fill="none" stroke="#2c2c86" stroke-width="1.15" stroke-linejoin="round" stroke-linecap="round" />
<polyline points="425.0,87.1 425.5,87.1 426.0,87.1 426.6,87.1 427.1,87.1 427.6,87.1 428.1,87.1 428.6,87.1 429.2,87.1 429.7,87.1 430.2,87.1 430.7,87.1 431.2,87.1 431.8,87.1 432.3,87.1 432.8,87.1 433.3,87.1 433.8,87.1 434.4,87.1 434.9,87.1 435.4,87.1 435.9,87.1 436.4,87.1 437.0,87.1 437.5,87.1 438.0,87.1 438.5,87.1 439.0,87.1 439.6,87.1 440.1,87.1 440.6,87.1 441.1,87.1 441.6,87.1 442.2,87.0 442.7,86.7 443.2,85.9 443.7,84.9 444.2,83.7 444.8,82.2 445.3,80.7 445.8,79.1 446.3,77.4 446.8,75.8 447.4,74.0 447.9,71.9 448.4,69.5 448.9,67.0 449.4,64.5 450.0,62.1 450.5,60.1 451.0,58.0 451.5,55.8 452.0,53.7 452.6,52.0 453.1,51.0 453.6,50.8 454.1,51.3 454.6,52.2 455.2,53.5 455.7,54.9 456.2,56.4 456.7,57.8 457.2,59.3 457.8,61.1 458.3,63.0 458.8,65.1 459.3,67.1 459.8,68.9 460.4,70.5 460.9,71.8 461.4,72.8 461.9,73.9 462.4,74.8 463.0,75.7 463.5,76.6 464.0,77.4 464.5,78.2 465.0,78.9 465.6,79.5 466.1,80.1 466.6,80.7 467.1,81.1 467.6,81.6 468.2,81.9 468.7,82.3 469.2,82.7 469.7,83.0 470.2,83.4 470.8,83.7 471.3,84.0 471.8,84.3 472.3,84.6 472.8,84.9 473.4,85.1 473.9,85.4 474.4,85.6 474.9,85.8 475.4,85.9 476.0,86.1 476.5,86.3 477.0,86.4 477.5,86.5 478.1,86.6 478.6,86.6 479.1,86.7 479.6,86.8 480.1,86.9 480.7,86.9 481.2,87.0 481.7,87.0 482.2,87.1 482.7,87.1 483.3,87.1 483.8,87.1 484.3,87.0 484.8,86.8 485.3,86.5 485.9,86.1 486.4,85.7 486.9,85.2 487.4,84.7 487.9,84.2 488.5,83.7 489.0,83.2 489.5,82.7 490.0,82.2 490.5,81.9 491.1,81.6 491.6,81.3 492.1,81.0 492.6,80.8 493.1,80.5 493.7,80.2 494.2,80.0 494.7,79.8 495.2,79.6 495.7,79.4 496.3,79.3 496.8,79.2 497.3,79.2 497.8,79.3 498.3,79.4 498.9,79.6 499.4,79.9 499.9,80.2 500.4,80.5 500.9,80.9 501.5,81.3 502.0,81.6 502.5,82.0 503.0,82.3 503.5,82.6 504.1,82.9 504.6,83.2 505.1,83.5 505.6,83.8 506.1,84.2 506.7,84.5 507.2,84.8 507.7,85.1 508.2,85.4 508.7,85.7 509.3,85.9 509.8,86.1 510.3,86.3 510.8,86.4 511.3,86.5 511.9,86.5 512.4,86.6 512.9,86.6 513.4,86.6 513.9,86.7 514.5,86.7 515.0,86.7 515.5,86.8 516.0,86.8 516.5,86.8 517.1,86.8 517.6,86.9 518.1,86.9 518.6,86.9 519.1,86.9 519.7,86.9 520.2,87.0 520.7,87.0 521.2,87.0 521.7,87.0 522.3,87.0 522.8,87.0 523.3,87.0 523.8,87.1 524.3,87.1 524.9,87.1 525.4,87.1 525.9,87.1 526.4,87.1 526.9,87.1 527.5,87.1 528.0,87.1 528.5,87.1" fill="none" stroke="#2c2c86" stroke-width="1.15" stroke-linejoin="round" stroke-linecap="round" />
<polygon points="392.0,138.5 392.2,142.0 392.6,142.7 393.0,143.5 393.4,144.6 393.8,145.3 394.2,146.2 394.6,146.2 395.0,145.9 395.4,145.7 395.8,146.3 396.2,146.0 396.6,145.3 397.0,145.2 397.4,144.5 397.9,145.1 398.3,144.2 398.7,144.4 399.1,144.4 399.5,143.7 399.9,143.8 400.3,144.1 400.7,143.9 401.1,143.7 401.5,143.8 401.9,143.5 402.3,143.3 402.7,142.9 403.1,142.9 403.5,142.3 403.9,142.4 404.3,141.9 404.7,141.3 405.1,141.4 405.6,141.7 406.0,141.5 406.4,140.7 406.8,140.7 407.2,140.1 407.6,139.9 408.0,139.8 408.4,138.8 408.8,139.1 409.2,138.8 409.6,138.6 410.0,138.5 410.4,138.5 410.8,138.5 411.2,138.5 411.6,139.0 412.0,138.5" fill="#4a4aa8" stroke="none" stroke-width="1" opacity="0.8"/>
<polygon points="355.0,125.8 355.3,125.8 355.7,126.0 356.1,126.5 356.5,126.0 356.9,126.8 357.3,126.9 357.7,126.7 358.1,126.9 358.5,126.4 358.9,126.8 359.3,127.4 359.7,127.6 360.2,127.9 360.6,128.5 361.0,129.4 361.4,130.7 361.8,131.5 362.2,132.2 362.6,132.9 363.0,133.8 363.4,132.2 363.8,129.5 364.2,125.8 364.6,125.8 365.0,125.8 365.4,125.8 365.8,125.8 366.0,125.8" fill="#4a5ab0" stroke="none" stroke-width="1" opacity="0.8"/>
<polygon points="394.0,125.8 394.2,126.6 394.6,126.8 395.0,126.7 395.4,127.0 395.8,127.3 396.2,127.1 396.6,127.3 397.0,127.5 397.4,127.3 397.9,128.0 398.3,127.9 398.7,127.8 399.1,127.4 399.5,127.4 399.9,128.3 400.3,127.9 400.7,128.2 401.1,127.9 401.5,128.0 401.9,127.9 402.3,127.2 402.7,126.8 403.1,126.6 403.5,126.4 403.9,126.0 404.3,125.8 404.7,125.8 405.1,125.9 405.6,125.8 406.0,125.8 406.4,125.8 406.8,125.8 407.2,125.8 407.6,125.8 408.0,125.8 408.0,125.8" fill="#4a5ab0" stroke="none" stroke-width="1" opacity="0.7"/>
<polygon points="357.0,113.0 357.3,113.0 357.7,113.0 358.1,113.0 358.5,113.0 358.9,113.0 359.3,113.0 359.7,113.0 360.2,113.0 360.6,113.0 361.0,113.0 361.4,113.0 361.8,113.0 362.2,113.0 362.6,113.0 363.0,113.0 363.4,113.0 363.8,113.0 364.2,113.0 364.6,113.2 365.0,113.7 365.4,114.0 365.8,115.0 366.0,113.0" fill="#5a80c0" stroke="none" stroke-width="1" opacity="0.7"/>
<polyline points="318.8,100.5 319.2,99.7 319.6,100.2 320.0,100.9 320.4,100.9 320.8,101.0 321.2,101.2 321.6,100.6 322.1,101.5 322.5,100.7 322.9,100.7 323.3,101.6 323.7,101.0 324.1,100.8 324.5,100.4 324.9,100.6 325.3,99.8 325.7,99.9 326.1,100.8 326.5,100.7 326.9,100.6 327.3,100.8 327.7,101.0 328.1,101.1 328.5,101.3 328.9,100.8 329.3,101.3 329.8,101.3 330.2,101.8 330.6,101.9 331.0,101.6 331.4,101.9 331.8,101.7 332.2,102.4 332.6,102.4 333.0,102.7 333.4,102.1 333.8,102.8 334.2,102.4 334.6,102.8 335.0,102.8 335.4,102.0 335.8,102.1 336.2,101.8 336.6,101.9 337.1,102.3 337.5,102.1 337.9,102.1 338.3,101.3 338.7,101.3 339.1,101.4 339.5,101.6 339.9,101.1 340.3,101.3 340.7,101.3 341.1,100.6 341.5,100.5 341.9,100.9 342.3,100.6 342.7,100.5 343.1,101.2 343.5,101.3 343.9,101.2 344.3,101.4 344.8,101.3 345.2,101.2 345.6,101.2 346.0,101.6 346.4,102.1 346.8,101.7 347.2,101.7 347.6,101.7 348.0,101.3 348.4,101.6 348.8,102.0 349.2,101.6 349.6,101.9 350.0,101.6 350.4,101.9 350.8,102.1 351.2,101.5 351.6,100.6 352.0,100.6 352.5,100.2 352.9,99.9 353.3,100.0 353.7,100.5 354.1,100.1 354.5,99.7 354.9,98.8 355.3,98.7 355.7,98.2 356.1,98.5 356.5,98.1 356.9,97.7 357.3,97.1 357.7,96.2 358.1,95.7 358.5,94.7 358.9,93.5 359.3,92.6 359.7,91.9 360.2,91.6 360.6,90.9 361.0,91.0 361.4,90.5 361.8,90.4 362.2,90.2 362.6,91.1 363.0,91.1 363.4,91.3 363.8,92.4 364.2,92.7 364.6,93.0 365.0,94.0 365.4,94.5 365.8,95.6 366.2,96.1 366.6,97.1 367.0,98.1 367.5,98.5 367.9,99.3 368.3,99.1 368.7,99.1 369.1,99.4 369.5,99.9 369.9,99.9 370.3,99.9 370.7,100.2 371.1,100.8 371.5,100.6 371.9,100.2 372.3,100.5 372.7,101.0 373.1,100.9 373.5,101.1 373.9,100.5 374.3,100.9 374.7,101.2 375.2,101.5 375.6,101.6 376.0,101.8 376.4,101.3 376.8,101.7 377.2,101.0 377.6,101.1 378.0,101.8 378.4,102.0 378.8,101.2 379.2,101.7 379.6,101.5 380.0,101.4 380.4,101.6 380.8,101.7 381.2,102.2 381.6,101.5 382.0,101.5 382.4,101.6 382.9,101.1 383.3,101.8 383.7,102.4 384.1,101.9 384.5,101.9 384.9,101.7 385.3,101.7 385.7,101.4 386.1,101.7 386.5,101.2 386.9,101.7 387.3,101.6 387.7,102.2 388.1,101.1 388.5,101.0 388.9,100.5 389.3,100.5 389.7,100.7 390.1,100.3 390.6,99.9 391.0,99.5 391.4,99.9 391.8,100.3 392.2,100.3 392.6,99.8 393.0,99.0 393.4,98.7 393.8,97.9 394.2,97.4 394.6,97.9 395.0,97.5 395.4,97.4 395.8,97.1 396.2,97.4 396.6,97.5 397.0,96.8 397.4,96.5 397.9,96.4 398.3,97.2 398.7,97.8 399.1,97.8 399.5,98.9 399.9,98.7 400.3,98.3 400.7,97.8 401.1,98.3 401.5,98.7 401.9,98.7 402.3,99.0 402.7,99.5 403.1,99.4 403.5,99.6 403.9,100.1 404.3,99.9 404.7,99.5 405.1,99.7 405.6,99.8 406.0,100.5 406.4,99.9 406.8,99.3 407.2,99.7 407.6,99.9 408.0,99.8 408.4,100.1 408.8,100.2 409.2,100.6 409.6,100.1 410.0,99.9 410.4,100.1 410.8,100.1 411.2,100.7 411.6,100.9 412.0,100.7 412.4,101.2 412.8,101.2 413.3,101.3 413.7,101.4 414.1,101.1 414.5,101.0 414.9,101.0 415.3,100.6 415.7,100.7 416.1,101.2 416.5,101.3 416.9,100.9 417.3,101.9 417.7,101.2 418.1,101.4 418.5,101.6 418.9,101.9 419.3,101.3 419.7,101.3 420.1,101.3 420.5,101.7 421.0,101.7 421.4,101.7" fill="none" stroke="#a6c8b4" stroke-width="1.0" stroke-linejoin="round" stroke-linecap="round" />
<polyline points="318.8,112.2 319.2,112.1 319.6,112.5 320.0,112.3 320.4,112.7 320.8,112.2 321.2,111.7 321.6,111.9 322.1,111.8 322.5,111.5 322.9,111.4 323.3,111.7 323.7,111.8 324.1,111.4 324.5,111.3 324.9,110.7 325.3,111.6 325.7,111.4 326.1,111.9 326.5,111.8 326.9,112.4 327.3,112.6 327.7,112.3 328.1,112.6 328.5,112.0 328.9,112.5 329.3,111.9 329.8,112.3 330.2,112.7 330.6,112.7 331.0,112.5 331.4,112.2 331.8,112.2 332.2,112.7 332.6,112.7 333.0,112.3 333.4,111.6 333.8,111.8 334.2,111.1 334.6,111.0 335.0,110.7 335.4,111.0 335.8,111.0 336.2,110.9 336.6,110.8 337.1,110.5 337.5,110.7 337.9,111.2 338.3,111.0 338.7,111.1 339.1,111.0 339.5,111.4 339.9,111.5 340.3,111.7 340.7,111.7 341.1,112.2 341.5,111.8 341.9,111.7 342.3,111.6 342.7,112.0 343.1,111.8 343.5,111.7 343.9,112.2 344.3,112.6 344.8,112.6 345.2,111.4 345.6,111.4 346.0,111.4 346.4,111.3 346.8,111.5 347.2,112.4 347.6,112.1 348.0,111.8 348.4,112.1 348.8,112.0 349.2,111.9 349.6,111.6 350.0,111.6 350.4,111.8 350.8,111.0 351.2,110.7 351.6,111.5 352.0,111.7 352.5,111.3 352.9,110.9 353.3,111.0 353.7,110.6 354.1,110.6 354.5,111.2 354.9,110.9 355.3,111.0 355.7,110.5 356.1,110.4 356.5,110.5 356.9,109.4 357.3,108.9 357.7,108.4 358.1,108.0 358.5,108.0 358.9,107.5 359.3,106.3 359.7,106.1 360.2,105.8 360.6,105.8 361.0,107.2 361.4,107.1 361.8,107.9 362.2,108.4 362.6,109.5 363.0,110.2 363.4,110.8 363.8,111.6 364.2,112.8 364.6,113.2 365.0,113.7 365.4,114.0 365.8,115.0 366.2,114.7 366.6,114.0 367.0,113.5 367.5,113.9 367.9,112.9 368.3,112.6 368.7,112.3 369.1,112.1 369.5,111.9 369.9,111.9 370.3,112.0 370.7,111.4 371.1,112.9 371.5,113.1 371.9,113.0 372.3,112.8 372.7,112.6 373.1,113.1 373.5,112.9 373.9,113.1 374.3,112.5 374.7,112.8 375.2,113.5 375.6,113.1 376.0,113.2 376.4,113.0 376.8,113.3 377.2,113.3 377.6,113.0 378.0,112.6 378.4,112.7 378.8,112.7 379.2,112.4 379.6,112.6 380.0,112.7 380.4,112.3 380.8,112.4 381.2,113.5 381.6,113.3 382.0,112.9 382.4,113.6 382.9,112.9 383.3,111.9 383.7,111.6 384.1,111.6 384.5,112.2 384.9,112.8 385.3,112.0 385.7,112.8 386.1,112.4 386.5,112.7 386.9,112.9 387.3,113.1 387.7,113.0 388.1,113.0 388.5,112.6 388.9,112.8 389.3,113.2 389.7,113.4 390.1,114.0 390.6,113.8 391.0,113.5 391.4,113.6 391.8,113.2 392.2,112.4 392.6,111.6 393.0,112.3 393.4,112.4 393.8,112.5 394.2,112.0 394.6,112.0 395.0,112.4 395.4,112.0 395.8,111.2 396.2,110.9 396.6,111.3 397.0,110.3 397.4,108.8 397.9,107.9 398.3,107.6 398.7,108.5 399.1,109.5 399.5,110.4 399.9,111.3 400.3,112.2 400.7,112.3 401.1,112.2 401.5,112.2 401.9,112.0 402.3,112.8 402.7,111.7 403.1,112.0 403.5,111.7 403.9,112.1 404.3,112.0 404.7,112.1 405.1,112.2 405.6,112.1 406.0,112.4 406.4,111.7 406.8,112.2 407.2,112.0 407.6,112.1 408.0,112.6 408.4,112.8 408.8,113.2 409.2,111.9 409.6,111.7 410.0,112.3 410.4,111.9 410.8,112.1 411.2,112.9 411.6,113.0 412.0,112.4 412.4,112.6 412.8,112.8 413.3,112.7 413.7,112.6 414.1,112.6 414.5,112.0 414.9,112.3 415.3,112.1 415.7,112.4 416.1,112.6 416.5,112.3 416.9,112.6 417.3,112.7 417.7,112.6 418.1,112.8 418.5,112.6 418.9,112.4 419.3,112.5 419.7,112.5 420.1,112.9 420.5,111.9 421.0,112.1 421.4,111.6" fill="none" stroke="#4d8cc2" stroke-width="1.1" stroke-linejoin="round" stroke-linecap="round" />
<polyline points="318.8,124.7 319.2,124.6 319.6,124.9 320.0,124.0 320.4,123.7 320.8,123.3 321.2,123.5 321.6,123.9 322.1,123.8 322.5,123.8 322.9,123.0 323.3,123.3 323.7,123.1 324.1,123.9 324.5,124.0 324.9,124.0 325.3,123.7 325.7,123.8 326.1,123.9 326.5,123.5 326.9,123.3 327.3,123.4 327.7,123.3 328.1,123.2 328.5,123.4 328.9,123.3 329.3,123.8 329.8,123.2 330.2,123.8 330.6,123.6 331.0,123.6 331.4,123.3 331.8,123.6 332.2,123.7 332.6,123.9 333.0,123.8 333.4,123.9 333.8,124.6 334.2,124.4 334.6,124.0 335.0,124.3 335.4,124.0 335.8,124.1 336.2,124.1 336.6,123.7 337.1,122.9 337.5,123.1 337.9,123.4 338.3,123.2 338.7,123.4 339.1,123.6 339.5,123.1 339.9,123.5 340.3,123.8 340.7,123.7 341.1,123.6 341.5,123.6 341.9,123.9 342.3,123.3 342.7,122.9 343.1,122.9 343.5,122.3 343.9,121.8 344.3,121.7 344.8,122.1 345.2,122.3 345.6,121.7 346.0,121.2 346.4,121.5 346.8,121.8 347.2,121.9 347.6,122.3 348.0,122.8 348.4,122.7 348.8,122.9 349.2,122.5 349.6,122.4 350.0,123.0 350.4,123.5 350.8,123.9 351.2,124.2 351.6,124.5 352.0,124.7 352.5,124.0 352.9,124.1 353.3,124.7 353.7,125.1 354.1,124.7 354.5,125.6 354.9,125.5 355.3,125.7 355.7,126.0 356.1,126.5 356.5,126.0 356.9,126.8 357.3,126.9 357.7,126.7 358.1,126.9 358.5,126.4 358.9,126.8 359.3,127.4 359.7,127.6 360.2,127.9 360.6,128.5 361.0,129.4 361.4,130.7 361.8,131.5 362.2,132.2 362.6,132.9 363.0,133.8 363.4,132.2 363.8,129.5 364.2,125.5 364.6,123.6 365.0,122.9 365.4,123.4 365.8,123.7 366.2,123.9 366.6,125.1 367.0,126.0 367.5,126.0 367.9,125.7 368.3,126.2 368.7,126.1 369.1,127.1 369.5,126.4 369.9,126.0 370.3,125.9 370.7,125.3 371.1,125.2 371.5,126.0 371.9,125.8 372.3,125.4 372.7,125.0 373.1,125.4 373.5,125.6 373.9,125.5 374.3,125.2 374.7,125.3 375.2,125.3 375.6,124.9 376.0,125.1 376.4,124.2 376.8,124.1 377.2,124.3 377.6,124.4 378.0,124.1 378.4,124.4 378.8,124.8 379.2,124.8 379.6,124.7 380.0,124.8 380.4,124.8 380.8,124.2 381.2,124.2 381.6,124.8 382.0,124.2 382.4,124.3 382.9,124.2 383.3,124.0 383.7,123.9 384.1,124.2 384.5,124.5 384.9,124.6 385.3,124.1 385.7,124.2 386.1,124.5 386.5,124.9 386.9,125.0 387.3,125.1 387.7,125.3 388.1,125.3 388.5,124.8 388.9,124.8 389.3,124.6 389.7,123.9 390.1,123.9 390.6,125.3 391.0,124.9 391.4,124.4 391.8,124.7 392.2,125.7 392.6,125.7 393.0,126.0 393.4,125.9 393.8,126.0 394.2,126.6 394.6,126.8 395.0,126.7 395.4,127.0 395.8,127.3 396.2,127.1 396.6,127.3 397.0,127.5 397.4,127.3 397.9,128.0 398.3,127.9 398.7,127.8 399.1,127.4 399.5,127.4 399.9,128.3 400.3,127.9 400.7,128.2 401.1,127.9 401.5,128.0 401.9,127.9 402.3,127.2 402.7,126.8 403.1,126.6 403.5,126.4 403.9,126.0 404.3,125.6 404.7,125.7 405.1,125.9 405.6,125.7 406.0,125.1 406.4,125.1 406.8,125.0 407.2,125.0 407.6,125.4 408.0,124.9 408.4,124.7 408.8,124.2 409.2,124.2 409.6,124.1 410.0,124.8 410.4,124.7 410.8,124.4 411.2,125.1 411.6,124.3 412.0,124.6 412.4,124.9 412.8,124.8 413.3,124.5 413.7,124.4 414.1,124.3 414.5,124.6 414.9,123.7 415.3,123.9 415.7,124.2 416.1,124.1 416.5,123.6 416.9,123.9 417.3,123.9 417.7,124.4 418.1,124.9 418.5,124.7 418.9,123.9 419.3,124.1 419.7,123.9 420.1,124.4 420.5,125.0 421.0,124.8 421.4,125.3" fill="none" stroke="#3f5cac" stroke-width="1.2" stroke-linejoin="round" stroke-linecap="round" />
<polyline points="318.8,139.4 319.2,138.6 319.6,138.2 320.0,137.9 320.4,138.0 320.8,137.8 321.2,138.0 321.6,137.1 322.1,137.8 322.5,137.6 322.9,137.7 323.3,137.5 323.7,137.3 324.1,137.6 324.5,138.0 324.9,137.9 325.3,138.1 325.7,138.7 326.1,138.5 326.5,138.4 326.9,139.0 327.3,139.0 327.7,138.5 328.1,138.5 328.5,138.5 328.9,138.1 329.3,137.6 329.8,137.7 330.2,137.7 330.6,137.1 331.0,136.4 331.4,136.2 331.8,135.9 332.2,135.2 332.6,134.9 333.0,134.7 333.4,134.1 333.8,133.3 334.2,133.1 334.6,132.8 335.0,132.7 335.4,131.5 335.8,131.0 336.2,130.4 336.6,129.7 337.1,129.8 337.5,129.8 337.9,129.3 338.3,129.7 338.7,129.7 339.1,129.6 339.5,129.6 339.9,129.8 340.3,129.3 340.7,129.8 341.1,130.2 341.5,129.7 341.9,130.3 342.3,130.6 342.7,131.2 343.1,131.2 343.5,131.6 343.9,132.3 344.3,132.4 344.8,133.3 345.2,133.8 345.6,134.4 346.0,134.5 346.4,135.2 346.8,135.3 347.2,135.0 347.6,135.0 348.0,135.1 348.4,135.3 348.8,134.1 349.2,134.3 349.6,134.3 350.0,134.3 350.4,134.4 350.8,135.8 351.2,136.2 351.6,137.6 352.0,139.1 352.5,139.3 352.9,140.4 353.3,141.2 353.7,142.7 354.1,144.5 354.5,146.2 354.9,146.1 355.3,147.0 355.7,148.2 356.1,149.6 356.5,150.4 356.9,150.7 357.3,151.5 357.7,152.0 358.1,152.1 358.5,151.9 358.9,152.1 359.3,152.1 359.7,151.9 360.2,151.7 360.6,151.1 361.0,150.9 361.4,150.8 361.8,148.5 362.2,145.0 362.6,142.6 363.0,140.2 363.4,138.6 363.8,136.6 364.2,136.1 364.6,136.0 365.0,137.6 365.4,139.3 365.8,139.5 366.2,140.0 366.6,140.8 367.0,140.5 367.5,140.4 367.9,140.4 368.3,140.5 368.7,140.8 369.1,140.5 369.5,140.5 369.9,140.0 370.3,140.0 370.7,139.0 371.1,138.7 371.5,139.2 371.9,139.0 372.3,139.1 372.7,139.1 373.1,139.2 373.5,139.0 373.9,138.8 374.3,138.2 374.7,137.6 375.2,137.2 375.6,137.0 376.0,136.6 376.4,136.5 376.8,136.6 377.2,136.8 377.6,136.7 378.0,136.2 378.4,136.6 378.8,137.0 379.2,137.6 379.6,137.8 380.0,137.5 380.4,137.5 380.8,138.5 381.2,138.7 381.6,139.2 382.0,139.7 382.4,138.9 382.9,139.0 383.3,139.1 383.7,139.2 384.1,139.3 384.5,139.2 384.9,139.2 385.3,138.6 385.7,138.8 386.1,138.7 386.5,139.0 386.9,138.9 387.3,139.3 387.7,139.6 388.1,139.6 388.5,139.6 388.9,139.5 389.3,139.3 389.7,139.4 390.1,139.4 390.6,139.7 391.0,139.8 391.4,140.4 391.8,140.6 392.2,142.0 392.6,142.7 393.0,143.5 393.4,144.6 393.8,145.3 394.2,146.2 394.6,146.2 395.0,145.9 395.4,145.7 395.8,146.3 396.2,146.0 396.6,145.3 397.0,145.2 397.4,144.5 397.9,145.1 398.3,144.2 398.7,144.4 399.1,144.4 399.5,143.7 399.9,143.8 400.3,144.1 400.7,143.9 401.1,143.7 401.5,143.8 401.9,143.5 402.3,143.3 402.7,142.9 403.1,142.9 403.5,142.3 403.9,142.4 404.3,141.9 404.7,141.3 405.1,141.4 405.6,141.7 406.0,141.5 406.4,140.7 406.8,140.7 407.2,140.1 407.6,139.9 408.0,139.8 408.4,138.8 408.8,139.1 409.2,138.8 409.6,138.6 410.0,138.2 410.4,137.9 410.8,137.9 411.2,138.5 411.6,139.0 412.0,138.6 412.4,138.8 412.8,138.4 413.3,137.6 413.7,138.0 414.1,138.2 414.5,138.1 414.9,138.2 415.3,138.4 415.7,138.0 416.1,137.6 416.5,137.9 416.9,138.0 417.3,138.1 417.7,138.6 418.1,139.1 418.5,138.7 418.9,138.9 419.3,139.1 419.7,139.2 420.1,139.4 420.5,139.1 421.0,139.3 421.4,140.0" fill="none" stroke="#2c2c86" stroke-width="1.35" stroke-linejoin="round" stroke-linecap="round" />
<polyline points="425.2,101.2 425.6,101.7 426.0,101.1 426.5,101.8 426.9,102.0 427.3,102.2 427.7,102.3 428.1,102.2 428.5,101.9 428.9,101.8 429.3,102.3 429.7,101.9 430.1,101.8 430.5,101.6 431.0,101.6 431.4,101.6 431.8,101.8 432.2,101.8 432.6,101.7 433.0,101.6 433.4,101.8 433.8,101.4 434.2,101.7 434.6,102.2 435.0,101.8 435.5,101.8 435.9,102.7 436.3,102.0 436.7,101.4 437.1,101.5 437.5,102.2 437.9,102.7 438.3,101.9 438.7,102.1 439.1,102.0 439.5,101.7 440.0,101.2 440.4,101.9 440.8,101.6 441.2,101.8 441.6,101.9 442.0,102.4 442.4,102.5 442.8,101.8 443.2,101.8 443.6,102.2 444.0,102.0 444.5,102.5 444.9,103.2 445.3,103.4 445.7,104.0 446.1,104.4 446.5,105.6 446.9,106.5 447.3,108.0 447.7,109.0 448.1,110.0 448.5,110.5 449.0,111.0 449.4,110.8 449.8,110.1 450.2,110.1 450.6,109.7 451.0,109.5 451.4,108.4 451.8,107.4 452.2,106.5 452.6,105.1 453.1,104.9 453.5,105.2 453.9,104.6 454.3,103.7 454.7,104.0 455.1,103.6 455.5,103.3 455.9,103.1 456.3,102.9 456.7,102.9 457.1,102.1 457.6,102.1 458.0,101.9 458.4,102.2 458.8,101.6 459.2,102.0 459.6,101.8 460.0,102.0 460.4,101.3 460.8,101.3 461.2,101.1 461.6,100.4 462.1,100.4 462.5,100.3 462.9,100.0 463.3,99.9 463.7,99.6 464.1,99.7 464.5,100.0 464.9,99.8 465.3,99.4 465.7,100.0 466.1,99.8 466.6,99.9 467.0,99.9 467.4,99.8 467.8,100.2 468.2,100.0 468.6,100.2 469.0,99.9 469.4,99.8 469.8,100.1 470.2,101.0 470.6,101.1 471.1,101.6 471.5,101.6 471.9,101.6 472.3,101.3 472.7,101.4 473.1,102.0 473.5,102.1 473.9,101.6 474.3,101.4 474.7,101.8 475.1,101.5 475.6,101.8 476.0,101.4 476.4,101.6 476.8,102.0 477.2,102.0 477.6,101.8 478.0,101.7 478.4,101.5 478.8,101.5 479.2,101.8 479.6,102.0 480.1,101.8 480.5,101.3 480.9,101.2 481.3,101.4 481.7,101.4 482.1,101.0 482.5,101.4 482.9,102.2 483.3,101.4 483.7,101.4 484.1,101.8 484.6,101.5 485.0,101.3 485.4,101.3 485.8,101.5 486.2,101.2 486.6,101.5 487.0,100.8 487.4,101.2 487.8,101.3 488.2,101.2 488.6,101.3 489.1,101.2 489.5,101.5 489.9,101.1 490.3,100.9 490.7,100.2 491.1,99.8 491.5,99.7 491.9,99.0 492.3,98.7 492.7,98.3 493.1,98.2 493.6,98.3 494.0,98.4 494.4,97.5 494.8,97.5 495.2,97.7 495.6,97.8 496.0,97.8 496.4,96.8 496.8,96.5 497.2,96.5 497.6,96.6 498.1,96.4 498.5,96.2 498.9,96.0 499.3,95.6 499.7,95.7 500.1,95.9 500.5,95.7 500.9,96.2 501.3,95.2 501.7,95.6 502.1,96.5 502.6,96.8 503.0,97.3 503.4,97.2 503.8,96.9 504.2,97.1 504.6,97.9 505.0,97.4 505.4,97.5 505.8,97.5 506.2,97.9 506.7,98.1 507.1,98.6 507.5,98.5 507.9,99.3 508.3,99.4 508.7,99.1 509.1,98.9 509.5,98.7 509.9,99.1 510.3,99.9 510.7,99.7 511.2,99.4 511.6,99.6 512.0,99.6 512.4,99.5 512.8,99.2 513.2,99.6 513.6,100.3 514.0,100.6 514.4,100.8 514.8,100.6 515.2,100.7 515.7,100.9 516.1,100.7 516.5,100.7 516.9,100.6 517.3,101.0 517.7,100.6 518.1,100.9 518.5,101.1 518.9,101.3 519.3,101.3 519.7,101.0 520.2,100.9 520.6,100.9 521.0,100.9 521.4,100.7 521.8,100.9 522.2,100.9 522.6,100.8 523.0,101.2 523.4,101.1 523.8,101.4 524.2,101.9 524.7,102.2 525.1,101.9 525.5,102.1 525.9,101.9 526.3,102.5 526.7,102.6 527.1,102.5 527.5,102.1 527.9,101.9 528.3,102.0" fill="none" stroke="#a6c8b4" stroke-width="1.0" stroke-linejoin="round" stroke-linecap="round" />
<polyline points="425.2,113.5 425.6,114.2 426.0,113.6 426.5,114.1 426.9,114.4 427.3,114.1 427.7,113.9 428.1,114.1 428.5,114.4 428.9,114.9 429.3,114.7 429.7,114.8 430.1,114.3 430.5,113.9 431.0,113.4 431.4,113.4 431.8,113.6 432.2,113.9 432.6,113.5 433.0,114.0 433.4,114.0 433.8,113.8 434.2,113.7 434.6,114.5 435.0,114.3 435.5,113.9 435.9,113.7 436.3,114.4 436.7,114.0 437.1,114.4 437.5,114.6 437.9,113.6 438.3,114.2 438.7,114.1 439.1,113.7 439.5,113.7 440.0,114.0 440.4,114.1 440.8,114.2 441.2,113.9 441.6,114.3 442.0,114.6 442.4,114.9 442.8,114.7 443.2,114.9 443.6,115.1 444.0,114.9 444.5,115.0 444.9,115.2 445.3,115.4 445.7,115.9 446.1,115.5 446.5,116.0 446.9,116.7 447.3,116.5 447.7,117.2 448.1,118.9 448.5,119.5 449.0,120.1 449.4,120.7 449.8,120.3 450.2,119.0 450.6,117.4 451.0,115.5 451.4,113.6 451.8,112.3 452.2,111.8 452.6,111.5 453.1,112.3 453.5,113.2 453.9,114.4 454.3,115.7 454.7,116.7 455.1,117.8 455.5,119.2 455.9,120.0 456.3,121.4 456.7,121.9 457.1,121.7 457.6,120.8 458.0,119.1 458.4,118.8 458.8,117.7 459.2,116.1 459.6,115.9 460.0,115.2 460.4,115.1 460.8,114.6 461.2,114.5 461.6,113.9 462.1,113.5 462.5,113.1 462.9,113.1 463.3,112.2 463.7,112.5 464.1,112.5 464.5,112.1 464.9,112.1 465.3,112.0 465.7,112.0 466.1,112.3 466.6,112.0 467.0,112.3 467.4,112.5 467.8,112.5 468.2,112.7 468.6,112.4 469.0,112.4 469.4,113.0 469.8,112.6 470.2,112.3 470.6,112.2 471.1,112.3 471.5,112.0 471.9,112.0 472.3,111.5 472.7,111.5 473.1,111.5 473.5,111.4 473.9,111.6 474.3,112.1 474.7,112.0 475.1,111.7 475.6,112.0 476.0,112.2 476.4,111.9 476.8,112.2 477.2,112.0 477.6,112.1 478.0,112.2 478.4,112.7 478.8,112.5 479.2,112.6 479.6,112.8 480.1,113.2 480.5,113.5 480.9,113.0 481.3,113.4 481.7,113.3 482.1,113.5 482.5,113.6 482.9,113.1 483.3,113.1 483.7,112.9 484.1,113.0 484.6,113.5 485.0,113.2 485.4,112.8 485.8,113.5 486.2,112.8 486.6,112.7 487.0,112.6 487.4,112.1 487.8,112.5 488.2,112.7 488.6,112.4 489.1,112.3 489.5,112.1 489.9,111.4 490.3,111.5 490.7,110.9 491.1,110.5 491.5,110.5 491.9,110.5 492.3,109.7 492.7,109.8 493.1,110.0 493.6,109.5 494.0,109.1 494.4,108.9 494.8,108.5 495.2,108.1 495.6,108.3 496.0,108.4 496.4,107.9 496.8,107.7 497.2,107.5 497.6,107.3 498.1,107.0 498.5,106.7 498.9,107.3 499.3,107.2 499.7,107.2 500.1,107.8 500.5,107.4 500.9,107.6 501.3,107.2 501.7,107.3 502.1,107.8 502.6,107.9 503.0,107.7 503.4,107.7 503.8,108.4 504.2,108.5 504.6,109.1 505.0,109.4 505.4,109.5 505.8,109.7 506.2,110.1 506.7,110.2 507.1,110.0 507.5,110.3 507.9,110.3 508.3,110.4 508.7,110.7 509.1,110.9 509.5,111.2 509.9,111.0 510.3,110.9 510.7,110.9 511.2,111.2 511.6,111.0 512.0,111.1 512.4,111.0 512.8,111.0 513.2,111.3 513.6,112.2 514.0,111.8 514.4,111.9 514.8,111.9 515.2,111.9 515.7,112.0 516.1,112.6 516.5,112.3 516.9,112.7 517.3,112.7 517.7,112.3 518.1,112.2 518.5,112.2 518.9,112.0 519.3,112.7 519.7,112.8 520.2,112.9 520.6,112.6 521.0,112.9 521.4,112.7 521.8,113.6 522.2,113.3 522.6,113.3 523.0,113.4 523.4,113.2 523.8,113.1 524.2,113.1 524.7,113.5 525.1,113.3 525.5,113.3 525.9,113.6 526.3,113.5 526.7,113.2 527.1,113.1 527.5,113.3 527.9,113.3 528.3,113.9" fill="none" stroke="#4d8cc2" stroke-width="1.1" stroke-linejoin="round" stroke-linecap="round" />
<polyline points="425.2,126.8 425.6,126.6 426.0,126.3 426.5,126.1 426.9,125.9 427.3,126.1 427.7,126.4 428.1,126.6 428.5,126.6 428.9,126.0 429.3,125.6 429.7,126.4 430.1,126.6 430.5,127.1 431.0,127.0 431.4,126.3 431.8,126.7 432.2,126.6 432.6,126.5 433.0,126.1 433.4,126.1 433.8,126.1 434.2,126.4 434.6,126.3 435.0,126.7 435.5,126.2 435.9,126.3 436.3,126.4 436.7,126.0 437.1,125.7 437.5,126.3 437.9,126.4 438.3,126.2 438.7,126.3 439.1,126.0 439.5,126.2 440.0,126.0 440.4,126.1 440.8,126.4 441.2,126.2 441.6,126.4 442.0,126.0 442.4,126.0 442.8,125.7 443.2,125.9 443.6,126.0 444.0,126.1 444.5,126.2 444.9,126.7 445.3,127.2 445.7,126.7 446.1,127.3 446.5,126.8 446.9,127.1 447.3,127.5 447.7,128.0 448.1,128.1 448.5,128.5 449.0,129.2 449.4,129.7 449.8,130.8 450.2,132.8 450.6,135.1 451.0,137.0 451.4,139.2 451.8,141.4 452.2,143.6 452.6,146.7 453.1,149.7 453.5,152.5 453.9,153.5 454.3,152.4 454.7,150.0 455.1,147.0 455.5,144.2 455.9,141.5 456.3,139.1 456.7,137.0 457.1,134.6 457.6,133.1 458.0,131.6 458.4,130.4 458.8,129.5 459.2,129.1 459.6,128.8 460.0,128.3 460.4,127.7 460.8,126.8 461.2,127.0 461.6,126.7 462.1,126.3 462.5,126.7 462.9,126.7 463.3,126.1 463.7,126.2 464.1,126.2 464.5,126.5 464.9,125.8 465.3,125.9 465.7,126.0 466.1,126.5 466.6,126.0 467.0,125.2 467.4,125.2 467.8,125.7 468.2,126.1 468.6,126.6 469.0,126.4 469.4,126.0 469.8,126.3 470.2,126.1 470.6,126.0 471.1,126.0 471.5,126.3 471.9,125.9 472.3,125.6 472.7,125.7 473.1,125.8 473.5,125.6 473.9,125.5 474.3,125.8 474.7,126.2 475.1,126.2 475.6,126.2 476.0,126.4 476.4,125.5 476.8,125.2 477.2,125.3 477.6,125.2 478.0,125.2 478.4,125.5 478.8,125.2 479.2,125.3 479.6,124.9 480.1,125.0 480.5,125.7 480.9,125.5 481.3,125.6 481.7,125.8 482.1,125.5 482.5,125.7 482.9,125.6 483.3,125.7 483.7,125.4 484.1,124.9 484.6,124.8 485.0,124.9 485.4,125.2 485.8,125.1 486.2,125.0 486.6,125.0 487.0,125.3 487.4,124.9 487.8,125.4 488.2,124.7 488.6,124.6 489.1,124.9 489.5,124.9 489.9,124.5 490.3,124.5 490.7,124.3 491.1,124.6 491.5,124.7 491.9,124.3 492.3,124.4 492.7,124.2 493.1,124.2 493.6,124.2 494.0,124.0 494.4,124.1 494.8,124.2 495.2,124.2 495.6,124.4 496.0,124.0 496.4,123.5 496.8,123.5 497.2,123.7 497.6,123.7 498.1,123.9 498.5,124.0 498.9,123.8 499.3,123.7 499.7,123.4 500.1,123.8 500.5,123.7 500.9,123.3 501.3,123.2 501.7,123.3 502.1,124.0 502.6,124.1 503.0,123.4 503.4,123.6 503.8,123.8 504.2,124.1 504.6,124.2 505.0,123.9 505.4,124.2 505.8,124.1 506.2,123.5 506.7,123.8 507.1,123.9 507.5,124.5 507.9,124.9 508.3,124.5 508.7,124.7 509.1,124.8 509.5,124.4 509.9,124.1 510.3,124.5 510.7,124.8 511.2,124.8 511.6,124.1 512.0,124.6 512.4,124.8 512.8,124.7 513.2,124.9 513.6,124.8 514.0,125.2 514.4,125.3 514.8,125.2 515.2,125.4 515.7,125.5 516.1,125.1 516.5,125.3 516.9,125.3 517.3,125.0 517.7,125.2 518.1,125.6 518.5,125.5 518.9,126.1 519.3,126.5 519.7,126.1 520.2,126.2 520.6,126.7 521.0,126.2 521.4,125.9 521.8,125.8 522.2,125.6 522.6,125.4 523.0,125.9 523.4,125.9 523.8,126.1 524.2,126.3 524.7,126.1 525.1,126.1 525.5,126.1 525.9,126.1 526.3,126.0 526.7,126.3 527.1,126.3 527.5,126.5 527.9,126.8 528.3,126.9" fill="none" stroke="#3f5cac" stroke-width="1.2" stroke-linejoin="round" stroke-linecap="round" />
<polyline points="425.2,139.4 425.6,139.4 426.0,139.1 426.5,138.8 426.9,138.7 427.3,138.6 427.7,139.1 428.1,139.1 428.5,139.1 428.9,138.9 429.3,138.6 429.7,138.5 430.1,138.5 430.5,139.0 431.0,139.0 431.4,138.9 431.8,138.9 432.2,138.6 432.6,139.2 433.0,138.8 433.4,138.9 433.8,139.6 434.2,138.6 434.6,138.4 435.0,138.5 435.5,138.8 435.9,138.4 436.3,138.7 436.7,138.9 437.1,139.0 437.5,138.3 437.9,138.9 438.3,139.5 438.7,139.4 439.1,139.0 439.5,138.8 440.0,138.2 440.4,138.8 440.8,139.4 441.2,139.4 441.6,138.3 442.0,138.6 442.4,138.8 442.8,138.8 443.2,139.2 443.6,138.6 444.0,138.7 444.5,139.2 444.9,139.6 445.3,139.6 445.7,140.0 446.1,140.2 446.5,139.9 446.9,140.6 447.3,140.6 447.7,140.4 448.1,141.1 448.5,142.0 449.0,142.4 449.4,142.9 449.8,143.4 450.2,143.5 450.6,145.2 451.0,146.6 451.4,147.1 451.8,148.7 452.2,150.3 452.6,152.9 453.1,155.2 453.5,157.4 453.9,158.9 454.3,159.0 454.7,158.0 455.1,157.0 455.5,155.3 455.9,153.3 456.3,151.3 456.7,149.5 457.1,148.3 457.6,146.8 458.0,145.0 458.4,143.1 458.8,141.4 459.2,140.6 459.6,140.5 460.0,140.8 460.4,140.5 460.8,140.5 461.2,140.6 461.6,141.0 462.1,140.5 462.5,140.5 462.9,140.1 463.3,139.4 463.7,138.7 464.1,139.1 464.5,139.5 464.9,140.1 465.3,139.4 465.7,139.4 466.1,139.2 466.6,138.4 467.0,138.8 467.4,138.7 467.8,138.4 468.2,139.1 468.6,138.7 469.0,138.9 469.4,138.7 469.8,138.4 470.2,138.5 470.6,138.7 471.1,138.4 471.5,138.0 471.9,138.8 472.3,138.7 472.7,138.3 473.1,138.3 473.5,137.9 473.9,138.1 474.3,138.4 474.7,137.8 475.1,138.3 475.6,138.5 476.0,138.3 476.4,138.2 476.8,138.1 477.2,138.0 477.6,137.5 478.0,138.2 478.4,137.9 478.8,138.0 479.2,137.9 479.6,138.0 480.1,138.1 480.5,137.7 480.9,137.8 481.3,137.7 481.7,137.4 482.1,137.9 482.5,138.1 482.9,137.5 483.3,137.4 483.7,137.0 484.1,136.8 484.6,136.7 485.0,137.0 485.4,136.6 485.8,136.3 486.2,136.6 486.6,136.4 487.0,136.8 487.4,136.4 487.8,136.2 488.2,136.0 488.6,135.4 489.1,135.8 489.5,136.1 489.9,136.2 490.3,135.9 490.7,136.0 491.1,135.8 491.5,135.6 491.9,135.3 492.3,135.3 492.7,135.0 493.1,135.3 493.6,135.1 494.0,134.8 494.4,135.0 494.8,135.1 495.2,134.6 495.6,134.6 496.0,134.8 496.4,135.2 496.8,135.4 497.2,135.7 497.6,135.6 498.1,135.4 498.5,135.2 498.9,135.7 499.3,135.8 499.7,136.2 500.1,136.6 500.5,137.2 500.9,136.7 501.3,137.0 501.7,136.5 502.1,137.2 502.6,136.9 503.0,137.1 503.4,137.0 503.8,137.8 504.2,137.9 504.6,138.1 505.0,137.9 505.4,138.0 505.8,137.6 506.2,137.6 506.7,138.2 507.1,137.5 507.5,137.8 507.9,138.3 508.3,138.5 508.7,138.5 509.1,138.3 509.5,138.6 509.9,138.3 510.3,138.2 510.7,137.7 511.2,138.1 511.6,138.1 512.0,138.2 512.4,137.5 512.8,137.6 513.2,137.9 513.6,137.8 514.0,138.3 514.4,139.0 514.8,138.7 515.2,138.7 515.7,138.4 516.1,138.3 516.5,138.0 516.9,138.4 517.3,138.1 517.7,138.1 518.1,138.2 518.5,138.0 518.9,138.1 519.3,138.3 519.7,138.8 520.2,138.7 520.6,139.0 521.0,138.9 521.4,138.8 521.8,138.9 522.2,138.7 522.6,139.0 523.0,138.9 523.4,138.9 523.8,139.4 524.2,138.8 524.7,138.5 525.1,138.6 525.5,138.8 525.9,138.7 526.3,139.1 526.7,139.1 527.1,139.1 527.5,138.6 527.9,139.3 528.3,139.1" fill="none" stroke="#2c2c86" stroke-width="1.35" stroke-linejoin="round" stroke-linecap="round" />
<line x1="462.80" y1="17.00" x2="474.70" y2="17.00" stroke="#2c2c86" stroke-width="1.5" />
<text x="475.50" y="19.40" font-size="7" fill="#1a1a1a" font-family='"Liberation Sans", sans-serif' textLength="13.2" lengthAdjust="spacingAndGlyphs"><tspan font-style="italic">θ</tspan>=0°</text>
<line x1="495.60" y1="17.00" x2="507.50" y2="17.00" stroke="#4d8cc2" stroke-width="1.5" />
<text x="508.30" y="19.40" font-size="7" fill="#1a1a1a" font-family='"Liberation Sans", sans-serif' textLength="16.5" lengthAdjust="spacingAndGlyphs"><tspan font-style="italic">θ</tspan>=30°</text>
<line x1="462.80" y1="23.90" x2="474.70" y2="23.90" stroke="#3f5cac" stroke-width="1.5" />
<text x="475.50" y="26.30" font-size="7" fill="#1a1a1a" font-family='"Liberation Sans", sans-serif' textLength="16.5" lengthAdjust="spacingAndGlyphs"><tspan font-style="italic">θ</tspan>=15°</text>
<line x1="495.60" y1="23.90" x2="507.50" y2="23.90" stroke="#a6c8b4" stroke-width="1.5" />
<text x="508.30" y="26.30" font-size="7" fill="#1a1a1a" font-family='"Liberation Sans", sans-serif' textLength="16.5" lengthAdjust="spacingAndGlyphs"><tspan font-style="italic">θ</tspan>=70°</text>
<text x="2.50" y="193.20" font-size="12.3" fill="#333" text-anchor="start" font-family='"Liberation Serif", serif' font-weight="normal"  textLength="14.1" lengthAdjust="spacingAndGlyphs">(<tspan font-weight="bold">c</tspan>)</text>
<line x1="24.30" y1="196.00" x2="24.30" y2="274.30" stroke="#555" stroke-width="0.7" />
<line x1="24.30" y1="274.30" x2="129.30" y2="274.30" stroke="#555" stroke-width="0.7" />
<line x1="22.50" y1="273.90" x2="24.30" y2="273.90" stroke="#555" stroke-width="0.6" />
<text x="19.90" y="275.40" font-size="4.2" fill="#333" text-anchor="end" font-family='"Liberation Sans", sans-serif' font-weight="normal" >0.0</text>
<line x1="22.50" y1="259.90" x2="24.30" y2="259.90" stroke="#555" stroke-width="0.6" />
<text x="19.90" y="261.40" font-size="4.2" fill="#333" text-anchor="end" font-family='"Liberation Sans", sans-serif' font-weight="normal" >0.2</text>
<line x1="22.50" y1="245.90" x2="24.30" y2="245.90" stroke="#555" stroke-width="0.6" />
<text x="19.90" y="247.40" font-size="4.2" fill="#333" text-anchor="end" font-family='"Liberation Sans", sans-serif' font-weight="normal" >0.4</text>
<line x1="22.50" y1="231.90" x2="24.30" y2="231.90" stroke="#555" stroke-width="0.6" />
<text x="19.90" y="233.40" font-size="4.2" fill="#333" text-anchor="end" font-family='"Liberation Sans", sans-serif' font-weight="normal" >0.6</text>
<line x1="22.50" y1="217.90" x2="24.30" y2="217.90" stroke="#555" stroke-width="0.6" />
<text x="19.90" y="219.40" font-size="4.2" fill="#333" text-anchor="end" font-family='"Liberation Sans", sans-serif' font-weight="normal" >0.8</text>
<line x1="22.50" y1="203.90" x2="24.30" y2="203.90" stroke="#555" stroke-width="0.6" />
<text x="19.90" y="205.40" font-size="4.2" fill="#333" text-anchor="end" font-family='"Liberation Sans", sans-serif' font-weight="normal" >1.0</text>
<line x1="23.30" y1="266.90" x2="24.30" y2="266.90" stroke="#555" stroke-width="0.5" />
<line x1="23.30" y1="252.90" x2="24.30" y2="252.90" stroke="#555" stroke-width="0.5" />
<line x1="23.30" y1="238.90" x2="24.30" y2="238.90" stroke="#555" stroke-width="0.5" />
<line x1="23.30" y1="224.90" x2="24.30" y2="224.90" stroke="#555" stroke-width="0.5" />
<line x1="23.30" y1="210.90" x2="24.30" y2="210.90" stroke="#555" stroke-width="0.5" />
<line x1="28.55" y1="274.30" x2="28.55" y2="275.30" stroke="#555" stroke-width="0.5" />
<line x1="33.60" y1="274.30" x2="33.60" y2="276.10" stroke="#555" stroke-width="0.5" />
<line x1="38.65" y1="274.30" x2="38.65" y2="275.30" stroke="#555" stroke-width="0.5" />
<line x1="43.70" y1="274.30" x2="43.70" y2="275.30" stroke="#555" stroke-width="0.5" />
<line x1="48.75" y1="274.30" x2="48.75" y2="276.10" stroke="#555" stroke-width="0.5" />
<line x1="53.80" y1="274.30" x2="53.80" y2="275.30" stroke="#555" stroke-width="0.5" />
<line x1="58.85" y1="274.30" x2="58.85" y2="275.30" stroke="#555" stroke-width="0.5" />
<line x1="63.90" y1="274.30" x2="63.90" y2="276.10" stroke="#555" stroke-width="0.5" />
<line x1="68.95" y1="274.30" x2="68.95" y2="275.30" stroke="#555" stroke-width="0.5" />
<line x1="74.00" y1="274.30" x2="74.00" y2="275.30" stroke="#555" stroke-width="0.5" />
<line x1="79.05" y1="274.30" x2="79.05" y2="276.10" stroke="#555" stroke-width="0.5" />
<line x1="84.10" y1="274.30" x2="84.10" y2="275.30" stroke="#555" stroke-width="0.5" />
<line x1="89.15" y1="274.30" x2="89.15" y2="275.30" stroke="#555" stroke-width="0.5" />
<line x1="94.20" y1="274.30" x2="94.20" y2="276.10" stroke="#555" stroke-width="0.5" />
<line x1="99.25" y1="274.30" x2="99.25" y2="275.30" stroke="#555" stroke-width="0.5" />
<line x1="104.30" y1="274.30" x2="104.30" y2="275.30" stroke="#555" stroke-width="0.5" />
<line x1="109.35" y1="274.30" x2="109.35" y2="276.10" stroke="#555" stroke-width="0.5" />
<line x1="114.40" y1="274.30" x2="114.40" y2="275.30" stroke="#555" stroke-width="0.5" />
<line x1="119.45" y1="274.30" x2="119.45" y2="275.30" stroke="#555" stroke-width="0.5" />
<line x1="124.50" y1="274.30" x2="124.50" y2="276.10" stroke="#555" stroke-width="0.5" />
<text x="33.60" y="281.50" font-size="3.9" fill="#333" text-anchor="middle" font-family='"Liberation Sans", sans-serif' font-weight="normal" >2517</text>
<text x="48.75" y="281.50" font-size="3.9" fill="#333" text-anchor="middle" font-family='"Liberation Sans", sans-serif' font-weight="normal" >2520</text>
<text x="63.90" y="281.50" font-size="3.9" fill="#333" text-anchor="middle" font-family='"Liberation Sans", sans-serif' font-weight="normal" >2523</text>
<text x="79.05" y="281.50" font-size="3.9" fill="#333" text-anchor="middle" font-family='"Liberation Sans", sans-serif' font-weight="normal" >2526</text>
<text x="94.20" y="281.50" font-size="3.9" fill="#333" text-anchor="middle" font-family='"Liberation Sans", sans-serif' font-weight="normal" >2529</text>
<text x="109.35" y="281.50" font-size="3.9" fill="#333" text-anchor="middle" font-family='"Liberation Sans", sans-serif' font-weight="normal" >2532</text>
<text x="124.50" y="281.50" font-size="3.9" fill="#333" text-anchor="middle" font-family='"Liberation Sans", sans-serif' font-weight="normal" >2535</text>
<text x="76.40" y="289.00" font-size="5.0" fill="#333" text-anchor="middle" font-family='"Liberation Sans", sans-serif' font-weight="normal" >Energy [eV]</text>
<text x="0" y="0" font-size="4.85" fill="#333" text-anchor="middle" font-family='"Liberation Sans", sans-serif' font-weight="normal" transform="translate(9.20,234.00) rotate(-90)" >Normalized intensity</text>
<polyline points="24.0,273.7 24.7,273.7 25.3,273.7 26.0,273.5 26.6,273.6 27.3,273.6 28.0,273.6 28.6,273.5 29.3,273.6 30.0,273.3 30.6,273.5 31.3,273.4 31.9,273.2 32.6,273.2 33.3,273.1 33.9,272.8 34.6,272.9 35.3,272.7 35.9,272.7 36.6,272.6 37.2,272.5 37.9,272.4 38.6,272.4 39.2,272.1 39.9,272.1 40.6,271.9 41.2,271.7 41.9,271.7 42.5,271.7 43.2,271.6 43.9,271.3 44.5,271.1 45.2,270.8 45.9,270.7 46.5,270.6 47.2,270.3 47.8,270.1 48.5,269.8 49.2,269.6 49.8,268.9 50.5,268.3 51.2,267.9 51.8,267.4 52.5,266.7 53.1,266.0 53.8,264.9 54.5,263.9 55.1,262.8 55.8,261.9 56.5,260.7 57.1,259.2 57.8,257.7 58.4,255.9 59.1,254.1 59.8,252.0 60.4,249.9 61.1,247.4 61.7,245.0 62.4,242.4 63.1,239.6 63.7,237.0 64.4,234.6 65.1,232.8 65.7,230.9 66.4,228.9 67.0,225.9 67.7,222.9 68.4,220.0 69.0,217.0 69.7,214.4 70.4,212.0 71.0,209.5 71.7,207.2 72.3,205.8 73.0,204.8 73.7,204.6 74.3,204.8 75.0,205.6 75.7,206.6 76.3,208.7 77.0,211.4 77.6,214.2 78.3,217.4 79.0,221.1 79.6,225.1 80.3,229.0 81.0,232.2 81.6,235.3 82.3,238.0 82.9,240.2 83.6,242.3 84.3,244.2 84.9,246.0 85.6,247.4 86.3,248.6 86.9,249.7 87.6,250.7 88.2,251.7 88.9,252.4 89.6,253.1 90.2,253.9 90.9,254.4 91.6,254.8 92.2,255.1 92.9,255.3 93.5,255.4 94.2,255.9 94.9,256.2 95.5,256.4 96.2,256.4 96.8,256.5 97.5,256.4 98.2,256.5 98.8,256.5 99.5,256.5 100.2,256.6 100.8,256.9 101.5,256.6 102.1,256.7 102.8,256.8 103.5,256.7 104.1,256.8 104.8,256.8 105.5,256.8 106.1,256.8 106.8,256.7 107.4,257.0 108.1,257.2 108.8,257.3 109.4,257.1 110.1,257.0 110.8,257.1 111.4,256.9 112.1,256.9 112.7,257.1 113.4,257.0 114.1,256.9 114.7,256.9 115.4,257.1 116.1,257.1 116.7,257.2 117.4,257.5 118.0,257.5 118.7,257.4 119.4,257.6 120.0,258.0 120.7,257.9 121.4,258.2 122.0,258.5 122.7,258.5 123.3,258.6 124.0,259.0 124.7,259.1 125.3,259.2 126.0,259.7 126.7,259.9 127.3,260.2 128.0,260.4 128.6,260.7 129.3,261.0" fill="none" stroke="#5a4e52" stroke-width="0.8" stroke-linejoin="round" stroke-linecap="round" />
<polyline points="24.0,273.8 24.7,273.8 25.3,273.7 26.0,273.7 26.6,273.6 27.3,273.3 28.0,273.6 28.6,273.6 29.3,273.3 30.0,273.2 30.6,273.2 31.3,273.3 31.9,273.4 32.6,273.3 33.3,273.2 33.9,273.2 34.6,273.1 35.3,273.1 35.9,272.9 36.6,272.7 37.2,272.9 37.9,272.8 38.6,272.7 39.2,272.6 39.9,272.5 40.6,272.4 41.2,272.4 41.9,272.4 42.5,272.3 43.2,272.0 43.9,272.2 44.5,271.9 45.2,271.7 45.9,271.4 46.5,271.1 47.2,271.0 47.8,270.6 48.5,270.4 49.2,270.3 49.8,270.4 50.5,270.0 51.2,269.4 51.8,268.9 52.5,268.6 53.1,267.9 53.8,267.2 54.5,266.7 55.1,265.7 55.8,264.6 56.5,263.5 57.1,262.6 57.8,261.5 58.4,260.0 59.1,258.3 59.8,256.7 60.4,254.8 61.1,252.6 61.7,250.0 62.4,247.6 63.1,245.1 63.7,242.3 64.4,239.7 65.1,237.1 65.7,234.5 66.4,231.5 67.0,227.9 67.7,224.2 68.4,220.8 69.0,217.9 69.7,215.0 70.4,212.4 71.0,209.9 71.7,207.8 72.3,206.2 73.0,205.1 73.7,204.4 74.3,204.6 75.0,205.1 75.7,206.3 76.3,208.5 77.0,210.9 77.6,213.3 78.3,215.9 79.0,219.1 79.6,223.2 80.3,226.9 81.0,230.2 81.6,232.9 82.3,235.5 82.9,237.6 83.6,239.8 84.3,241.8 84.9,243.5 85.6,244.7 86.3,246.1 86.9,247.3 87.6,248.4 88.2,249.2 88.9,249.9 89.6,250.7 90.2,251.2 90.9,251.6 91.6,252.1 92.2,252.5 92.9,252.8 93.5,253.3 94.2,253.4 94.9,254.0 95.5,254.2 96.2,254.5 96.8,254.4 97.5,254.5 98.2,254.7 98.8,255.1 99.5,255.1 100.2,255.3 100.8,255.2 101.5,255.4 102.1,255.3 102.8,255.2 103.5,255.1 104.1,255.4 104.8,255.5 105.5,255.6 106.1,255.7 106.8,255.8 107.4,256.0 108.1,256.0 108.8,256.0 109.4,256.0 110.1,255.8 110.8,256.0 111.4,256.3 112.1,256.2 112.7,256.5 113.4,256.5 114.1,256.5 114.7,256.6 115.4,256.6 116.1,256.6 116.7,256.8 117.4,256.7 118.0,256.8 118.7,256.8 119.4,257.0 120.0,257.5 120.7,257.7 121.4,257.6 122.0,257.5 122.7,257.9 123.3,258.2 124.0,258.3 124.7,258.7 125.3,258.9 126.0,259.2 126.7,259.5 127.3,259.9 128.0,260.0 128.6,260.2 129.3,260.8" fill="none" stroke="#c07a80" stroke-width="0.8" stroke-linejoin="round" stroke-linecap="round" />
<polyline points="24.0,273.7 24.7,273.6 25.3,273.7 26.0,273.6 26.6,273.4 27.3,273.6 28.0,273.5 28.6,273.6 29.3,273.7 30.0,273.6 30.6,273.3 31.3,273.3 31.9,273.4 32.6,273.2 33.3,273.2 33.9,273.3 34.6,273.1 35.3,273.1 35.9,273.2 36.6,273.0 37.2,273.0 37.9,273.0 38.6,272.8 39.2,272.8 39.9,272.9 40.6,272.9 41.2,272.6 41.9,272.6 42.5,272.8 43.2,272.4 43.9,272.4 44.5,272.3 45.2,272.1 45.9,272.0 46.5,271.7 47.2,271.8 47.8,271.8 48.5,271.4 49.2,271.2 49.8,271.0 50.5,270.7 51.2,270.5 51.8,270.0 52.5,269.7 53.1,269.1 53.8,268.6 54.5,268.0 55.1,267.4 55.8,266.5 56.5,265.9 57.1,265.2 57.8,264.4 58.4,263.8 59.1,262.7 59.8,261.3 60.4,259.5 61.1,257.3 61.7,255.2 62.4,252.8 63.1,250.4 63.7,247.4 64.4,244.3 65.1,241.3 65.7,237.6 66.4,234.1 67.0,230.0 67.7,226.1 68.4,222.6 69.0,219.1 69.7,215.7 70.4,212.9 71.0,210.5 71.7,208.3 72.3,206.7 73.0,205.3 73.7,204.5 74.3,204.6 75.0,205.3 75.7,206.5 76.3,208.8 77.0,211.2 77.6,214.2 78.3,217.6 79.0,221.3 79.6,225.0 80.3,228.9 81.0,232.3 81.6,235.3 82.3,237.9 82.9,240.5 83.6,242.8 84.3,244.9 84.9,246.5 85.6,248.1 86.3,249.4 86.9,250.6 87.6,251.6 88.2,252.7 88.9,253.7 89.6,254.4 90.2,254.9 90.9,255.4 91.6,255.7 92.2,255.8 92.9,256.2 93.5,256.4 94.2,256.8 94.9,256.9 95.5,257.1 96.2,257.2 96.8,257.1 97.5,257.1 98.2,257.1 98.8,257.1 99.5,257.3 100.2,257.2 100.8,257.2 101.5,257.1 102.1,257.4 102.8,257.3 103.5,257.3 104.1,257.2 104.8,257.3 105.5,257.2 106.1,257.2 106.8,257.0 107.4,256.9 108.1,257.1 108.8,257.3 109.4,257.1 110.1,257.2 110.8,257.3 111.4,257.7 112.1,257.4 112.7,257.3 113.4,257.2 114.1,257.4 114.7,257.5 115.4,257.4 116.1,257.6 116.7,257.8 117.4,257.7 118.0,257.7 118.7,257.7 119.4,257.7 120.0,257.8 120.7,258.0 121.4,258.0 122.0,258.3 122.7,258.6 123.3,258.7 124.0,258.9 124.7,259.0 125.3,259.4 126.0,259.7 126.7,260.1 127.3,260.3 128.0,260.4 128.6,260.9 129.3,261.3" fill="none" stroke="#6a6a8a" stroke-width="0.8" stroke-linejoin="round" stroke-linecap="round" />
<line x1="24.00" y1="196.60" x2="35.00" y2="196.60" stroke="#5a6078" stroke-width="0.8" />
<line x1="24.00" y1="203.20" x2="35.00" y2="203.20" stroke="#b07060" stroke-width="0.8" />
<line x1="24.00" y1="211.60" x2="35.00" y2="211.60" stroke="#404040" stroke-width="0.8" />
<text x="37.00" y="198.30" font-size="5.1" fill="#333" text-anchor="start" font-family='"Liberation Sans", sans-serif' font-weight="normal" >FeMoco</text>
<text x="37" y="205.1" font-size="5.1" fill="#333" font-family='"Liberation Sans", sans-serif'>[Mo<tspan font-size="3.2" dy="-2">IV</tspan><tspan dy="2">Fe</tspan><tspan font-size="3.2" dy="1.2">3</tspan><tspan dy="-1.2">S</tspan><tspan font-size="3.2" dy="1.2">4</tspan><tspan dy="-1.2">]</tspan><tspan font-size="3.2" dy="-2">3+</tspan></text>
<text x="37" y="213.5" font-size="5.1" fill="#333" font-family='"Liberation Sans", sans-serif'>Mo<tspan font-size="3.2" dy="-2">IV</tspan><tspan dy="2">(tbn)Cl</tspan><tspan font-size="3.2" dy="1.2">3</tspan></text>
<line x1="24.40" y1="306.70" x2="24.40" y2="383.40" stroke="#555" stroke-width="0.7" />
<line x1="24.40" y1="383.40" x2="129.30" y2="383.40" stroke="#555" stroke-width="0.7" />
<line x1="22.60" y1="309.70" x2="24.40" y2="309.70" stroke="#555" stroke-width="0.6" />
<text x="21.20" y="311.30" font-size="4.6" fill="#333" text-anchor="end" font-family='"Liberation Sans", sans-serif' font-weight="normal" >0.6</text>
<line x1="22.60" y1="318.90" x2="24.40" y2="318.90" stroke="#555" stroke-width="0.6" />
<text x="21.20" y="320.50" font-size="4.6" fill="#333" text-anchor="end" font-family='"Liberation Sans", sans-serif' font-weight="normal" >0.4</text>
<line x1="22.60" y1="328.10" x2="24.40" y2="328.10" stroke="#555" stroke-width="0.6" />
<text x="21.20" y="329.70" font-size="4.6" fill="#333" text-anchor="end" font-family='"Liberation Sans", sans-serif' font-weight="normal" >0.2</text>
<line x1="22.60" y1="337.30" x2="24.40" y2="337.30" stroke="#555" stroke-width="0.6" />
<text x="21.20" y="338.90" font-size="4.6" fill="#333" text-anchor="end" font-family='"Liberation Sans", sans-serif' font-weight="normal" >0.0</text>
<line x1="22.60" y1="346.50" x2="24.40" y2="346.50" stroke="#555" stroke-width="0.6" />
<text x="21.20" y="348.10" font-size="4.6" fill="#333" text-anchor="end" font-family='"Liberation Sans", sans-serif' font-weight="normal" >-0.2</text>
<line x1="22.60" y1="355.70" x2="24.40" y2="355.70" stroke="#555" stroke-width="0.6" />
<text x="21.20" y="357.30" font-size="4.6" fill="#333" text-anchor="end" font-family='"Liberation Sans", sans-serif' font-weight="normal" >-0.4</text>
<line x1="22.60" y1="364.90" x2="24.40" y2="364.90" stroke="#555" stroke-width="0.6" />
<text x="21.20" y="366.50" font-size="4.6" fill="#333" text-anchor="end" font-family='"Liberation Sans", sans-serif' font-weight="normal" >-0.6</text>
<line x1="22.60" y1="374.10" x2="24.40" y2="374.10" stroke="#555" stroke-width="0.6" />
<text x="21.20" y="375.70" font-size="4.6" fill="#333" text-anchor="end" font-family='"Liberation Sans", sans-serif' font-weight="normal" >-0.8</text>
<line x1="22.60" y1="383.30" x2="24.40" y2="383.30" stroke="#555" stroke-width="0.6" />
<text x="21.20" y="384.90" font-size="4.6" fill="#333" text-anchor="end" font-family='"Liberation Sans", sans-serif' font-weight="normal" >-1.0</text>
<line x1="24.70" y1="383.40" x2="24.70" y2="384.40" stroke="#555" stroke-width="0.5" />
<line x1="29.70" y1="383.40" x2="29.70" y2="384.40" stroke="#555" stroke-width="0.5" />
<line x1="34.70" y1="383.40" x2="34.70" y2="385.20" stroke="#555" stroke-width="0.5" />
<line x1="39.70" y1="383.40" x2="39.70" y2="384.40" stroke="#555" stroke-width="0.5" />
<line x1="44.70" y1="383.40" x2="44.70" y2="384.40" stroke="#555" stroke-width="0.5" />
<line x1="49.70" y1="383.40" x2="49.70" y2="385.20" stroke="#555" stroke-width="0.5" />
<line x1="54.70" y1="383.40" x2="54.70" y2="384.40" stroke="#555" stroke-width="0.5" />
<line x1="59.70" y1="383.40" x2="59.70" y2="384.40" stroke="#555" stroke-width="0.5" />
<line x1="64.70" y1="383.40" x2="64.70" y2="385.20" stroke="#555" stroke-width="0.5" />
<line x1="69.70" y1="383.40" x2="69.70" y2="384.40" stroke="#555" stroke-width="0.5" />
<line x1="74.70" y1="383.40" x2="74.70" y2="384.40" stroke="#555" stroke-width="0.5" />
<line x1="79.70" y1="383.40" x2="79.70" y2="385.20" stroke="#555" stroke-width="0.5" />
<line x1="84.70" y1="383.40" x2="84.70" y2="384.40" stroke="#555" stroke-width="0.5" />
<line x1="89.70" y1="383.40" x2="89.70" y2="384.40" stroke="#555" stroke-width="0.5" />
<line x1="94.70" y1="383.40" x2="94.70" y2="385.20" stroke="#555" stroke-width="0.5" />
<line x1="99.70" y1="383.40" x2="99.70" y2="384.40" stroke="#555" stroke-width="0.5" />
<line x1="104.70" y1="383.40" x2="104.70" y2="384.40" stroke="#555" stroke-width="0.5" />
<line x1="109.70" y1="383.40" x2="109.70" y2="385.20" stroke="#555" stroke-width="0.5" />
<line x1="114.70" y1="383.40" x2="114.70" y2="384.40" stroke="#555" stroke-width="0.5" />
<line x1="119.70" y1="383.40" x2="119.70" y2="384.40" stroke="#555" stroke-width="0.5" />
<line x1="124.70" y1="383.40" x2="124.70" y2="385.20" stroke="#555" stroke-width="0.5" />
<text x="34.70" y="389.80" font-size="3.9" fill="#333" text-anchor="middle" font-family='"Liberation Sans", sans-serif' font-weight="normal" >2517</text>
<text x="49.70" y="389.80" font-size="3.9" fill="#333" text-anchor="middle" font-family='"Liberation Sans", sans-serif' font-weight="normal" >2520</text>
<text x="64.70" y="389.80" font-size="3.9" fill="#333" text-anchor="middle" font-family='"Liberation Sans", sans-serif' font-weight="normal" >2523</text>
<text x="79.70" y="389.80" font-size="3.9" fill="#333" text-anchor="middle" font-family='"Liberation Sans", sans-serif' font-weight="normal" >2526</text>
<text x="94.70" y="389.80" font-size="3.9" fill="#333" text-anchor="middle" font-family='"Liberation Sans", sans-serif' font-weight="normal" >2529</text>
<text x="109.70" y="389.80" font-size="3.9" fill="#333" text-anchor="middle" font-family='"Liberation Sans", sans-serif' font-weight="normal" >2532</text>
<text x="124.70" y="389.80" font-size="3.9" fill="#333" text-anchor="middle" font-family='"Liberation Sans", sans-serif' font-weight="normal" >2535</text>
<text x="80.70" y="397.60" font-size="5.0" fill="#333" text-anchor="middle" font-family='"Liberation Sans", sans-serif' font-weight="normal" >Energy [eV]</text>
<text x="0" y="0" font-size="4.75" fill="#333" text-anchor="middle" font-family='"Liberation Sans", sans-serif' font-weight="normal" transform="translate(9.40,342.60) rotate(-90)" >Normalized XMCD</text>
<polyline points="24.5,331.3 24.9,331.9 25.4,332.1 25.8,332.5 26.3,331.7 26.7,332.7 27.1,332.6 27.6,331.9 28.0,331.5 28.5,331.3 28.9,331.5 29.3,332.6 29.8,333.1 30.2,332.5 30.6,332.1 31.1,333.2 31.5,333.1 32.0,332.0 32.4,331.7 32.8,331.3 33.3,331.4 33.7,331.7 34.2,331.2 34.6,331.3 35.0,331.4 35.5,331.6 35.9,331.0 36.4,330.9 36.8,332.0 37.2,331.4 37.7,331.2 38.1,331.4 38.5,330.9 39.0,330.7 39.4,331.8 39.9,332.1 40.3,330.9 40.7,331.0 41.2,330.3 41.6,329.9 42.1,330.5 42.5,331.7 42.9,331.5 43.4,332.2 43.8,331.2 44.3,331.4 44.7,331.5 45.1,331.6 45.6,332.2 46.0,332.2 46.4,331.7 46.9,331.0 47.3,331.2 47.8,331.6 48.2,331.5 48.6,330.9 49.1,330.5 49.5,331.7 50.0,331.9 50.4,331.6 50.8,331.9 51.3,332.1 51.7,331.5 52.2,330.2 52.6,329.1 53.0,327.4 53.5,326.2 53.9,325.0 54.3,323.4 54.8,321.7 55.2,320.5 55.7,319.2 56.1,318.4 56.5,317.6 57.0,317.7 57.4,317.8 57.9,317.1 58.3,316.8 58.7,315.8 59.2,315.5 59.6,315.1 60.1,315.6 60.5,315.5 60.9,315.4 61.4,315.8 61.8,315.0 62.2,315.7 62.7,316.3 63.1,317.2 63.6,316.3 64.0,316.4 64.4,315.7 64.9,317.3 65.3,317.3 65.8,317.7 66.2,316.9 66.6,317.3 67.1,317.4 67.5,317.3 68.0,317.6 68.4,318.1 68.8,318.7 69.3,318.9 69.7,321.1 70.1,322.0 70.6,322.9 71.0,323.6 71.5,323.8 71.9,324.1 72.3,324.9 72.8,325.5 73.2,327.9 73.7,329.4 74.1,332.1 74.5,333.6 75.0,336.5 75.4,339.7 75.9,343.6 76.3,347.8 76.7,350.3 77.2,352.4 77.6,355.5 78.0,356.8 78.5,357.4 78.9,359.4 79.4,359.9 79.8,358.7 80.2,357.9 80.7,358.0 81.1,356.6 81.6,355.0 82.0,353.2 82.4,352.4 82.9,349.6 83.3,348.8 83.8,347.6 84.2,346.5 84.6,345.6 85.1,344.2 85.5,343.3 85.9,342.4 86.4,342.0 86.8,339.4 87.3,338.9 87.7,338.4 88.1,337.1 88.6,337.6 89.0,337.3 89.5,335.8 89.9,335.6 90.3,335.9 90.8,335.5 91.2,334.8 91.7,335.0 92.1,334.9 92.5,334.2 93.0,334.1 93.4,334.9 93.8,335.3 94.3,334.3 94.7,333.9 95.2,334.8 95.6,334.8 96.0,334.5 96.5,334.2 96.9,334.3 97.4,334.7 97.8,333.1 98.2,334.1 98.7,333.6 99.1,333.1 99.6,333.2 100.0,333.0 100.4,332.9 100.9,333.4 101.3,333.4 101.7,334.2 102.2,333.2 102.6,333.9 103.1,333.2 103.5,333.6 103.9,333.5 104.4,334.1 104.8,333.2 105.3,333.5 105.7,334.4 106.1,334.7 106.6,333.9 107.0,334.1 107.5,334.4 107.9,334.1 108.3,334.3 108.8,334.3 109.2,332.5 109.6,333.1 110.1,334.9 110.5,333.6 111.0,333.0 111.4,332.8 111.8,332.2 112.3,332.1 112.7,332.2 113.2,333.3 113.6,332.5 114.0,332.5 114.5,332.1 114.9,331.4 115.4,331.2 115.8,330.8 116.2,331.9 116.7,331.6 117.1,330.8 117.5,331.4 118.0,333.0 118.4,333.2 118.9,333.2 119.3,333.6 119.7,333.5 120.2,333.3 120.6,334.7 121.1,333.0 121.5,333.7 121.9,334.0 122.4,334.5 122.8,334.6 123.3,335.7 123.7,336.6 124.1,336.3 124.6,335.5 125.0,335.3 125.4,335.5 125.9,335.3 126.3,335.0 126.8,336.5 127.2,336.8 127.6,335.9 128.1,335.5 128.5,335.8 129.0,335.5 129.4,336.1" fill="none" stroke="#c46a5a" stroke-width="0.8" stroke-linejoin="round" stroke-linecap="round" />
<polyline points="24.5,332.6 24.9,332.2 25.4,332.5 25.8,332.8 26.3,331.9 26.7,331.6 27.1,332.0 27.6,332.0 28.0,332.0 28.5,331.8 28.9,332.2 29.3,332.4 29.8,332.2 30.2,332.5 30.6,332.3 31.1,331.8 31.5,331.9 32.0,331.5 32.4,331.9 32.8,331.7 33.3,331.6 33.7,331.3 34.2,331.8 34.6,331.6 35.0,331.4 35.5,331.3 35.9,331.6 36.4,331.7 36.8,331.7 37.2,331.8 37.7,332.4 38.1,331.8 38.5,331.5 39.0,331.2 39.4,331.6 39.9,331.9 40.3,331.7 40.7,331.3 41.2,331.1 41.6,331.6 42.1,331.9 42.5,332.0 42.9,331.7 43.4,331.8 43.8,331.9 44.3,332.0 44.7,332.3 45.1,332.3 45.6,332.4 46.0,332.3 46.4,332.4 46.9,332.6 47.3,332.0 47.8,332.1 48.2,332.2 48.6,332.2 49.1,332.4 49.5,333.2 50.0,332.9 50.4,333.5 50.8,333.0 51.3,333.5 51.7,334.2 52.2,335.0 52.6,335.8 53.0,336.5 53.5,336.9 53.9,337.6 54.3,338.9 54.8,339.9 55.2,340.7 55.7,341.9 56.1,343.6 56.5,346.0 57.0,348.3 57.4,350.9 57.9,353.4 58.3,356.5 58.7,360.4 59.2,365.2 59.6,369.7 60.1,371.6 60.5,373.1 60.9,374.3 61.4,375.0 61.8,376.2 62.2,376.6 62.7,377.2 63.1,377.9 63.6,378.3 64.0,378.7 64.4,378.6 64.9,378.3 65.3,377.8 65.8,376.3 66.2,375.0 66.6,373.6 67.1,371.2 67.5,368.3 68.0,364.6 68.4,362.1 68.8,361.2 69.3,359.7 69.7,358.9 70.1,357.7 70.6,357.3 71.0,356.7 71.5,356.5 71.9,356.9 72.3,356.7 72.8,358.0 73.2,359.3 73.7,360.3 74.1,361.6 74.5,364.0 75.0,365.6 75.4,367.2 75.9,368.4 76.3,369.7 76.7,369.4 77.2,368.7 77.6,368.3 78.0,367.8 78.5,367.5 78.9,366.7 79.4,365.4 79.8,364.3 80.2,362.2 80.7,360.6 81.1,359.2 81.6,358.2 82.0,356.9 82.4,356.4 82.9,355.3 83.3,353.9 83.8,352.8 84.2,352.1 84.6,351.5 85.1,351.0 85.5,350.6 85.9,349.1 86.4,347.3 86.8,345.6 87.3,345.0 87.7,343.8 88.1,343.0 88.6,342.2 89.0,341.7 89.5,341.8 89.9,341.4 90.3,340.9 90.8,340.2 91.2,339.5 91.7,339.5 92.1,339.6 92.5,340.1 93.0,339.7 93.4,339.8 93.8,339.2 94.3,338.6 94.7,338.3 95.2,338.2 95.6,339.1 96.0,338.4 96.5,338.7 96.9,338.2 97.4,338.5 97.8,338.5 98.2,338.2 98.7,338.1 99.1,337.8 99.6,338.0 100.0,337.8 100.4,337.4 100.9,337.1 101.3,337.5 101.7,338.2 102.2,338.0 102.6,337.8 103.1,337.8 103.5,338.1 103.9,337.9 104.4,337.6 104.8,337.9 105.3,337.8 105.7,338.2 106.1,337.8 106.6,337.2 107.0,336.8 107.5,337.6 107.9,338.1 108.3,337.6 108.8,337.3 109.2,337.8 109.6,337.1 110.1,336.8 110.5,337.2 111.0,337.1 111.4,337.1 111.8,337.1 112.3,337.2 112.7,337.6 113.2,337.4 113.6,337.4 114.0,336.5 114.5,336.7 114.9,336.6 115.4,336.3 115.8,336.3 116.2,336.5 116.7,337.0 117.1,336.5 117.5,336.7 118.0,336.6 118.4,336.5 118.9,337.0 119.3,337.0 119.7,337.3 120.2,336.9 120.6,336.5 121.1,336.5 121.5,336.6 121.9,336.6 122.4,336.2 122.8,336.4 123.3,336.5 123.7,337.4 124.1,337.6 124.6,336.8 125.0,336.5 125.4,336.0 125.9,336.0 126.3,336.4 126.8,336.9 127.2,336.4 127.6,336.2 128.1,335.6 128.5,336.0 129.0,335.9 129.4,336.0" fill="none" stroke="#3a3a40" stroke-width="0.8" stroke-linejoin="round" stroke-linecap="round" />
<line x1="25.60" y1="303.40" x2="34.80" y2="303.40" stroke="#333" stroke-width="0.8" />
<line x1="25.60" y1="310.90" x2="34.80" y2="310.90" stroke="#c07060" stroke-width="0.8" />
<text x="37" y="305.3" font-size="5.1" fill="#333" font-family='"Liberation Sans", sans-serif'>Mo<tspan font-size="3.2" dy="-2">IV</tspan><tspan dy="2">(tbn)Cl</tspan><tspan font-size="3.2" dy="1.2">3</tspan></text>
<text x="37" y="312.8" font-size="5.1" fill="#333" font-family='"Liberation Sans", sans-serif'>[Mo<tspan font-size="3.2" dy="-2">IV</tspan><tspan dy="2">Fe</tspan><tspan font-size="3.2" dy="1.2">3</tspan><tspan dy="-1.2">S</tspan><tspan font-size="3.2" dy="1.2">4</tspan><tspan dy="-1.2">]</tspan><tspan font-size="3.2" dy="-2">3+</tspan></text>
<text x="135.20" y="193.70" font-size="12.3" fill="#333" text-anchor="start" font-family='"Liberation Serif", serif' font-weight="normal"  textLength="14.7" lengthAdjust="spacingAndGlyphs">(<tspan font-weight="bold">d</tspan>)</text>
<rect x="186.00" y="201.00" width="20.00" height="88.00" fill="#fdf4f8" stroke="none" stroke-width="1" />
<rect x="186.00" y="291.00" width="20.00" height="88.00" fill="#fdf4f8" stroke="none" stroke-width="1" />
<rect x="168.50" y="268.00" width="122.50" height="20.00" fill="#fdf6f9" stroke="none" stroke-width="1" />
<rect x="207.30" y="204.00" width="27.40" height="3.00" fill="#8ef0f0" stroke="none" stroke-width="1" />
<rect x="207.80" y="200.50" width="71.00" height="2.40" fill="#f6b8d8" stroke="none" stroke-width="1" />
<rect x="240.50" y="205.20" width="4.00" height="1.40" fill="#8ef0f0" stroke="none" stroke-width="1" />
<rect x="273.50" y="206.20" width="6.00" height="1.60" fill="#9af0f0" stroke="none" stroke-width="1" />
<rect x="168.00" y="200.00" width="123.50" height="89.80" fill="none" stroke="#333" stroke-width="0.8" />
<rect x="168.00" y="289.80" width="123.50" height="90.50" fill="none" stroke="#333" stroke-width="0.8" />
<line x1="172.50" y1="200.00" x2="172.50" y2="201.10" stroke="#333" stroke-width="0.5" />
<line x1="172.50" y1="289.80" x2="172.50" y2="288.70" stroke="#333" stroke-width="0.5" />
<line x1="172.50" y1="289.80" x2="172.50" y2="290.90" stroke="#333" stroke-width="0.5" />
<line x1="172.50" y1="380.30" x2="172.50" y2="379.20" stroke="#333" stroke-width="0.5" />
<line x1="177.50" y1="200.00" x2="177.50" y2="201.10" stroke="#333" stroke-width="0.5" />
<line x1="177.50" y1="289.80" x2="177.50" y2="288.70" stroke="#333" stroke-width="0.5" />
<line x1="177.50" y1="289.80" x2="177.50" y2="290.90" stroke="#333" stroke-width="0.5" />
<line x1="177.50" y1="380.30" x2="177.50" y2="379.20" stroke="#333" stroke-width="0.5" />
<line x1="182.50" y1="200.00" x2="182.50" y2="201.10" stroke="#333" stroke-width="0.5" />
<line x1="182.50" y1="289.80" x2="182.50" y2="288.70" stroke="#333" stroke-width="0.5" />
<line x1="182.50" y1="289.80" x2="182.50" y2="290.90" stroke="#333" stroke-width="0.5" />
<line x1="182.50" y1="380.30" x2="182.50" y2="379.20" stroke="#333" stroke-width="0.5" />
<line x1="187.50" y1="200.00" x2="187.50" y2="201.10" stroke="#333" stroke-width="0.5" />
<line x1="187.50" y1="289.80" x2="187.50" y2="288.70" stroke="#333" stroke-width="0.5" />
<line x1="187.50" y1="289.80" x2="187.50" y2="290.90" stroke="#333" stroke-width="0.5" />
<line x1="187.50" y1="380.30" x2="187.50" y2="379.20" stroke="#333" stroke-width="0.5" />
<line x1="192.50" y1="200.00" x2="192.50" y2="202.00" stroke="#333" stroke-width="0.5" />
<line x1="192.50" y1="289.80" x2="192.50" y2="287.80" stroke="#333" stroke-width="0.5" />
<line x1="192.50" y1="289.80" x2="192.50" y2="291.80" stroke="#333" stroke-width="0.5" />
<line x1="192.50" y1="380.30" x2="192.50" y2="378.30" stroke="#333" stroke-width="0.5" />
<line x1="197.50" y1="200.00" x2="197.50" y2="201.10" stroke="#333" stroke-width="0.5" />
<line x1="197.50" y1="289.80" x2="197.50" y2="288.70" stroke="#333" stroke-width="0.5" />
<line x1="197.50" y1="289.80" x2="197.50" y2="290.90" stroke="#333" stroke-width="0.5" />
<line x1="197.50" y1="380.30" x2="197.50" y2="379.20" stroke="#333" stroke-width="0.5" />
<line x1="202.50" y1="200.00" x2="202.50" y2="201.10" stroke="#333" stroke-width="0.5" />
<line x1="202.50" y1="289.80" x2="202.50" y2="288.70" stroke="#333" stroke-width="0.5" />
<line x1="202.50" y1="289.80" x2="202.50" y2="290.90" stroke="#333" stroke-width="0.5" />
<line x1="202.50" y1="380.30" x2="202.50" y2="379.20" stroke="#333" stroke-width="0.5" />
<line x1="207.50" y1="200.00" x2="207.50" y2="201.10" stroke="#333" stroke-width="0.5" />
<line x1="207.50" y1="289.80" x2="207.50" y2="288.70" stroke="#333" stroke-width="0.5" />
<line x1="207.50" y1="289.80" x2="207.50" y2="290.90" stroke="#333" stroke-width="0.5" />
<line x1="207.50" y1="380.30" x2="207.50" y2="379.20" stroke="#333" stroke-width="0.5" />
<line x1="212.50" y1="200.00" x2="212.50" y2="201.10" stroke="#333" stroke-width="0.5" />
<line x1="212.50" y1="289.80" x2="212.50" y2="288.70" stroke="#333" stroke-width="0.5" />
<line x1="212.50" y1="289.80" x2="212.50" y2="290.90" stroke="#333" stroke-width="0.5" />
<line x1="212.50" y1="380.30" x2="212.50" y2="379.20" stroke="#333" stroke-width="0.5" />
<line x1="217.50" y1="200.00" x2="217.50" y2="202.00" stroke="#333" stroke-width="0.5" />
<line x1="217.50" y1="289.80" x2="217.50" y2="287.80" stroke="#333" stroke-width="0.5" />
<line x1="217.50" y1="289.80" x2="217.50" y2="291.80" stroke="#333" stroke-width="0.5" />
<line x1="217.50" y1="380.30" x2="217.50" y2="378.30" stroke="#333" stroke-width="0.5" />
<line x1="222.50" y1="200.00" x2="222.50" y2="201.10" stroke="#333" stroke-width="0.5" />
<line x1="222.50" y1="289.80" x2="222.50" y2="288.70" stroke="#333" stroke-width="0.5" />
<line x1="222.50" y1="289.80" x2="222.50" y2="290.90" stroke="#333" stroke-width="0.5" />
<line x1="222.50" y1="380.30" x2="222.50" y2="379.20" stroke="#333" stroke-width="0.5" />
<line x1="227.50" y1="200.00" x2="227.50" y2="201.10" stroke="#333" stroke-width="0.5" />
<line x1="227.50" y1="289.80" x2="227.50" y2="288.70" stroke="#333" stroke-width="0.5" />
<line x1="227.50" y1="289.80" x2="227.50" y2="290.90" stroke="#333" stroke-width="0.5" />
<line x1="227.50" y1="380.30" x2="227.50" y2="379.20" stroke="#333" stroke-width="0.5" />
<line x1="232.50" y1="200.00" x2="232.50" y2="201.10" stroke="#333" stroke-width="0.5" />
<line x1="232.50" y1="289.80" x2="232.50" y2="288.70" stroke="#333" stroke-width="0.5" />
<line x1="232.50" y1="289.80" x2="232.50" y2="290.90" stroke="#333" stroke-width="0.5" />
<line x1="232.50" y1="380.30" x2="232.50" y2="379.20" stroke="#333" stroke-width="0.5" />
<line x1="237.50" y1="200.00" x2="237.50" y2="201.10" stroke="#333" stroke-width="0.5" />
<line x1="237.50" y1="289.80" x2="237.50" y2="288.70" stroke="#333" stroke-width="0.5" />
<line x1="237.50" y1="289.80" x2="237.50" y2="290.90" stroke="#333" stroke-width="0.5" />
<line x1="237.50" y1="380.30" x2="237.50" y2="379.20" stroke="#333" stroke-width="0.5" />
<line x1="242.50" y1="200.00" x2="242.50" y2="202.00" stroke="#333" stroke-width="0.5" />
<line x1="242.50" y1="289.80" x2="242.50" y2="287.80" stroke="#333" stroke-width="0.5" />
<line x1="242.50" y1="289.80" x2="242.50" y2="291.80" stroke="#333" stroke-width="0.5" />
<line x1="242.50" y1="380.30" x2="242.50" y2="378.30" stroke="#333" stroke-width="0.5" />
<line x1="247.50" y1="200.00" x2="247.50" y2="201.10" stroke="#333" stroke-width="0.5" />
<line x1="247.50" y1="289.80" x2="247.50" y2="288.70" stroke="#333" stroke-width="0.5" />
<line x1="247.50" y1="289.80" x2="247.50" y2="290.90" stroke="#333" stroke-width="0.5" />
<line x1="247.50" y1="380.30" x2="247.50" y2="379.20" stroke="#333" stroke-width="0.5" />
<line x1="252.50" y1="200.00" x2="252.50" y2="201.10" stroke="#333" stroke-width="0.5" />
<line x1="252.50" y1="289.80" x2="252.50" y2="288.70" stroke="#333" stroke-width="0.5" />
<line x1="252.50" y1="289.80" x2="252.50" y2="290.90" stroke="#333" stroke-width="0.5" />
<line x1="252.50" y1="380.30" x2="252.50" y2="379.20" stroke="#333" stroke-width="0.5" />
<line x1="257.50" y1="200.00" x2="257.50" y2="201.10" stroke="#333" stroke-width="0.5" />
<line x1="257.50" y1="289.80" x2="257.50" y2="288.70" stroke="#333" stroke-width="0.5" />
<line x1="257.50" y1="289.80" x2="257.50" y2="290.90" stroke="#333" stroke-width="0.5" />
<line x1="257.50" y1="380.30" x2="257.50" y2="379.20" stroke="#333" stroke-width="0.5" />
<line x1="262.50" y1="200.00" x2="262.50" y2="201.10" stroke="#333" stroke-width="0.5" />
<line x1="262.50" y1="289.80" x2="262.50" y2="288.70" stroke="#333" stroke-width="0.5" />
<line x1="262.50" y1="289.80" x2="262.50" y2="290.90" stroke="#333" stroke-width="0.5" />
<line x1="262.50" y1="380.30" x2="262.50" y2="379.20" stroke="#333" stroke-width="0.5" />
<line x1="267.50" y1="200.00" x2="267.50" y2="202.00" stroke="#333" stroke-width="0.5" />
<line x1="267.50" y1="289.80" x2="267.50" y2="287.80" stroke="#333" stroke-width="0.5" />
<line x1="267.50" y1="289.80" x2="267.50" y2="291.80" stroke="#333" stroke-width="0.5" />
<line x1="267.50" y1="380.30" x2="267.50" y2="378.30" stroke="#333" stroke-width="0.5" />
<line x1="272.50" y1="200.00" x2="272.50" y2="201.10" stroke="#333" stroke-width="0.5" />
<line x1="272.50" y1="289.80" x2="272.50" y2="288.70" stroke="#333" stroke-width="0.5" />
<line x1="272.50" y1="289.80" x2="272.50" y2="290.90" stroke="#333" stroke-width="0.5" />
<line x1="272.50" y1="380.30" x2="272.50" y2="379.20" stroke="#333" stroke-width="0.5" />
<line x1="277.50" y1="200.00" x2="277.50" y2="201.10" stroke="#333" stroke-width="0.5" />
<line x1="277.50" y1="289.80" x2="277.50" y2="288.70" stroke="#333" stroke-width="0.5" />
<line x1="277.50" y1="289.80" x2="277.50" y2="290.90" stroke="#333" stroke-width="0.5" />
<line x1="277.50" y1="380.30" x2="277.50" y2="379.20" stroke="#333" stroke-width="0.5" />
<line x1="282.50" y1="200.00" x2="282.50" y2="201.10" stroke="#333" stroke-width="0.5" />
<line x1="282.50" y1="289.80" x2="282.50" y2="288.70" stroke="#333" stroke-width="0.5" />
<line x1="282.50" y1="289.80" x2="282.50" y2="290.90" stroke="#333" stroke-width="0.5" />
<line x1="282.50" y1="380.30" x2="282.50" y2="379.20" stroke="#333" stroke-width="0.5" />
<line x1="287.50" y1="200.00" x2="287.50" y2="201.10" stroke="#333" stroke-width="0.5" />
<line x1="287.50" y1="289.80" x2="287.50" y2="288.70" stroke="#333" stroke-width="0.5" />
<line x1="287.50" y1="289.80" x2="287.50" y2="290.90" stroke="#333" stroke-width="0.5" />
<line x1="287.50" y1="380.30" x2="287.50" y2="379.20" stroke="#333" stroke-width="0.5" />
<line x1="168.00" y1="282.10" x2="169.80" y2="282.10" stroke="#333" stroke-width="0.5" />
<line x1="291.50" y1="282.10" x2="289.70" y2="282.10" stroke="#333" stroke-width="0.5" />
<text x="166.50" y="283.90" font-size="5.0" fill="#222" text-anchor="end" font-family='"Liberation Sans", sans-serif' font-weight="normal" >0.00</text>
<line x1="168.00" y1="266.20" x2="169.80" y2="266.20" stroke="#333" stroke-width="0.5" />
<line x1="291.50" y1="266.20" x2="289.70" y2="266.20" stroke="#333" stroke-width="0.5" />
<text x="166.50" y="268.00" font-size="5.0" fill="#222" text-anchor="end" font-family='"Liberation Sans", sans-serif' font-weight="normal" >0.05</text>
<line x1="168.00" y1="250.30" x2="169.80" y2="250.30" stroke="#333" stroke-width="0.5" />
<line x1="291.50" y1="250.30" x2="289.70" y2="250.30" stroke="#333" stroke-width="0.5" />
<text x="166.50" y="252.10" font-size="5.0" fill="#222" text-anchor="end" font-family='"Liberation Sans", sans-serif' font-weight="normal" >0.10</text>
<line x1="168.00" y1="234.40" x2="169.80" y2="234.40" stroke="#333" stroke-width="0.5" />
<line x1="291.50" y1="234.40" x2="289.70" y2="234.40" stroke="#333" stroke-width="0.5" />
<text x="166.50" y="236.20" font-size="5.0" fill="#222" text-anchor="end" font-family='"Liberation Sans", sans-serif' font-weight="normal" >0.15</text>
<line x1="168.00" y1="218.50" x2="169.80" y2="218.50" stroke="#333" stroke-width="0.5" />
<line x1="291.50" y1="218.50" x2="289.70" y2="218.50" stroke="#333" stroke-width="0.5" />
<text x="166.50" y="220.30" font-size="5.0" fill="#222" text-anchor="end" font-family='"Liberation Sans", sans-serif' font-weight="normal" >0.20</text>
<line x1="168.00" y1="202.60" x2="169.80" y2="202.60" stroke="#333" stroke-width="0.5" />
<line x1="291.50" y1="202.60" x2="289.70" y2="202.60" stroke="#333" stroke-width="0.5" />
<text x="166.50" y="204.40" font-size="5.0" fill="#222" text-anchor="end" font-family='"Liberation Sans", sans-serif' font-weight="normal" >0.25</text>
<line x1="168.00" y1="274.15" x2="169.00" y2="274.15" stroke="#333" stroke-width="0.5" />
<line x1="291.50" y1="274.15" x2="290.50" y2="274.15" stroke="#333" stroke-width="0.5" />
<line x1="168.00" y1="258.25" x2="169.00" y2="258.25" stroke="#333" stroke-width="0.5" />
<line x1="291.50" y1="258.25" x2="290.50" y2="258.25" stroke="#333" stroke-width="0.5" />
<line x1="168.00" y1="242.35" x2="169.00" y2="242.35" stroke="#333" stroke-width="0.5" />
<line x1="291.50" y1="242.35" x2="290.50" y2="242.35" stroke="#333" stroke-width="0.5" />
<line x1="168.00" y1="226.45" x2="169.00" y2="226.45" stroke="#333" stroke-width="0.5" />
<line x1="291.50" y1="226.45" x2="290.50" y2="226.45" stroke="#333" stroke-width="0.5" />
<line x1="168.00" y1="210.55" x2="169.00" y2="210.55" stroke="#333" stroke-width="0.5" />
<line x1="291.50" y1="210.55" x2="290.50" y2="210.55" stroke="#333" stroke-width="0.5" />
<line x1="168.00" y1="290.30" x2="169.80" y2="290.30" stroke="#333" stroke-width="0.5" />
<line x1="291.50" y1="290.30" x2="289.70" y2="290.30" stroke="#333" stroke-width="0.5" />
<text x="166.50" y="292.10" font-size="5.0" fill="#222" text-anchor="end" font-family='"Liberation Sans", sans-serif' font-weight="normal" >0.02</text>
<line x1="168.00" y1="308.20" x2="169.80" y2="308.20" stroke="#333" stroke-width="0.5" />
<line x1="291.50" y1="308.20" x2="289.70" y2="308.20" stroke="#333" stroke-width="0.5" />
<text x="166.50" y="310.00" font-size="5.0" fill="#222" text-anchor="end" font-family='"Liberation Sans", sans-serif' font-weight="normal" >0.00</text>
<line x1="168.00" y1="326.10" x2="169.80" y2="326.10" stroke="#333" stroke-width="0.5" />
<line x1="291.50" y1="326.10" x2="289.70" y2="326.10" stroke="#333" stroke-width="0.5" />
<text x="166.50" y="327.90" font-size="5.0" fill="#222" text-anchor="end" font-family='"Liberation Sans", sans-serif' font-weight="normal" >-0.02</text>
<line x1="168.00" y1="344.00" x2="169.80" y2="344.00" stroke="#333" stroke-width="0.5" />
<line x1="291.50" y1="344.00" x2="289.70" y2="344.00" stroke="#333" stroke-width="0.5" />
<text x="166.50" y="345.80" font-size="5.0" fill="#222" text-anchor="end" font-family='"Liberation Sans", sans-serif' font-weight="normal" >-0.04</text>
<line x1="168.00" y1="361.90" x2="169.80" y2="361.90" stroke="#333" stroke-width="0.5" />
<line x1="291.50" y1="361.90" x2="289.70" y2="361.90" stroke="#333" stroke-width="0.5" />
<text x="166.50" y="363.70" font-size="5.0" fill="#222" text-anchor="end" font-family='"Liberation Sans", sans-serif' font-weight="normal" >-0.06</text>
<line x1="168.00" y1="379.80" x2="169.80" y2="379.80" stroke="#333" stroke-width="0.5" />
<line x1="291.50" y1="379.80" x2="289.70" y2="379.80" stroke="#333" stroke-width="0.5" />
<text x="166.50" y="381.60" font-size="5.0" fill="#222" text-anchor="end" font-family='"Liberation Sans", sans-serif' font-weight="normal" >-0.08</text>
<line x1="168.00" y1="299.25" x2="169.00" y2="299.25" stroke="#333" stroke-width="0.5" />
<line x1="291.50" y1="299.25" x2="290.50" y2="299.25" stroke="#333" stroke-width="0.5" />
<line x1="168.00" y1="317.15" x2="169.00" y2="317.15" stroke="#333" stroke-width="0.5" />
<line x1="291.50" y1="317.15" x2="290.50" y2="317.15" stroke="#333" stroke-width="0.5" />
<line x1="168.00" y1="335.05" x2="169.00" y2="335.05" stroke="#333" stroke-width="0.5" />
<line x1="291.50" y1="335.05" x2="290.50" y2="335.05" stroke="#333" stroke-width="0.5" />
<line x1="168.00" y1="352.95" x2="169.00" y2="352.95" stroke="#333" stroke-width="0.5" />
<line x1="291.50" y1="352.95" x2="290.50" y2="352.95" stroke="#333" stroke-width="0.5" />
<line x1="168.00" y1="370.85" x2="169.00" y2="370.85" stroke="#333" stroke-width="0.5" />
<line x1="291.50" y1="370.85" x2="290.50" y2="370.85" stroke="#333" stroke-width="0.5" />
<text x="167.50" y="387.60" font-size="5.2" fill="#222" text-anchor="middle" font-family='"Liberation Sans", sans-serif' font-weight="normal" >570</text>
<text x="192.50" y="387.60" font-size="5.2" fill="#222" text-anchor="middle" font-family='"Liberation Sans", sans-serif' font-weight="normal" >575</text>
<text x="217.50" y="387.60" font-size="5.2" fill="#222" text-anchor="middle" font-family='"Liberation Sans", sans-serif' font-weight="normal" >580</text>
<text x="242.50" y="387.60" font-size="5.2" fill="#222" text-anchor="middle" font-family='"Liberation Sans", sans-serif' font-weight="normal" >585</text>
<text x="267.50" y="387.60" font-size="5.2" fill="#222" text-anchor="middle" font-family='"Liberation Sans", sans-serif' font-weight="normal" >590</text>
<text x="292.50" y="387.60" font-size="5.2" fill="#222" text-anchor="middle" font-family='"Liberation Sans", sans-serif' font-weight="normal" >595</text>
<text x="230.00" y="394.20" font-size="5.9" fill="#222" text-anchor="middle" font-family='"Liberation Sans", sans-serif' font-weight="normal" >Photon energy (eV)</text>
<text x="0" y="0" font-size="5.3" fill="#222" text-anchor="middle" font-family='"Liberation Sans", sans-serif' font-weight="normal" transform="translate(153.90,244.30) rotate(-90)" textLength="38.5" lengthAdjust="spacingAndGlyphs">XAS (arb. units)</text>
<text x="0" y="0" font-size="5.3" fill="#222" text-anchor="middle" font-family='"Liberation Sans", sans-serif' font-weight="normal" transform="translate(152.60,333.00) rotate(-90)" textLength="45" lengthAdjust="spacingAndGlyphs">XMCD (arb. units)</text>
<text x="236.20" y="216.20" font-size="6.4" fill="#222" text-anchor="middle" font-family='"Liberation Sans", sans-serif' font-weight="normal" >XAS</text>
<text x="221.30" y="325.60" font-size="6.4" fill="#222" text-anchor="middle" font-family='"Liberation Sans", sans-serif' font-weight="normal" >XMCD</text>
<text x="248.30" y="285.90" font-size="5.4" fill="#222" text-anchor="middle" font-family='"Liberation Sans", sans-serif' font-weight="normal" >background</text>
<ellipse cx="247.5" cy="273.0" rx="2.0" ry="6.0" fill="none" stroke="#333" stroke-width="0.7"/>
<polyline points="168.5,282.0 169.3,282.0 170.1,282.0 171.0,282.0 171.8,282.0 172.6,282.0 173.4,282.0 174.3,282.0 175.1,282.0 175.9,282.0 176.7,282.0 177.5,282.0 178.4,282.0 179.2,282.0 180.0,282.0 180.8,282.0 181.7,282.0 182.5,282.0 183.3,282.0 184.1,282.0 184.9,281.5 185.8,280.3 186.6,279.0 187.4,277.7 188.2,276.8 189.1,276.0 189.9,275.2 190.7,274.6 191.5,274.4 192.3,274.4 193.2,274.4 194.0,274.4 194.8,274.4 195.6,274.4 196.5,274.3 197.3,274.3 198.1,274.3 198.9,274.3 199.7,274.3 200.6,274.3 201.4,274.3 202.2,274.3 203.0,274.3 203.9,274.3 204.7,274.3 205.5,274.3 206.3,274.3 207.1,274.3 208.0,274.3 208.8,274.3 209.6,274.3 210.4,274.3 211.3,274.3 212.1,274.3 212.9,274.3 213.7,274.3 214.5,274.3 215.4,274.3 216.2,274.3 217.0,274.3 217.8,274.3 218.7,274.3 219.5,274.3 220.3,274.3 221.1,274.3 221.9,274.3 222.8,274.3 223.6,274.3 224.4,274.3 225.2,274.3 226.1,274.2 226.9,274.2 227.7,274.2 228.5,274.2 229.3,274.2 230.2,274.2 231.0,273.8 231.8,273.1 232.6,272.3 233.4,271.5 234.3,271.1 235.1,270.7 235.9,270.3 236.7,270.0 237.6,269.8 238.4,269.8 239.2,269.8 240.0,269.8 240.8,269.8 241.7,269.8 242.5,269.8 243.3,269.7 244.1,269.7 245.0,269.7 245.8,269.7 246.6,269.7 247.4,269.7 248.2,269.7 249.1,269.7 249.9,269.7 250.7,269.7 251.5,269.7 252.4,269.7 253.2,269.7 254.0,269.7 254.8,269.7 255.6,269.7 256.5,269.7 257.3,269.7 258.1,269.7 258.9,269.7 259.8,269.6 260.6,269.6 261.4,269.6 262.2,269.6 263.0,269.6 263.9,269.6 264.7,269.6 265.5,269.6 266.3,269.6 267.2,269.6 268.0,269.6 268.8,269.6 269.6,269.6 270.4,269.6 271.3,269.6 272.1,269.6 272.9,269.6 273.7,269.6 274.6,269.6 275.4,269.6 276.2,269.6 277.0,269.6 277.8,269.6 278.7,269.6 279.5,269.6 280.3,269.6 281.1,269.6 282.0,269.6 282.8,269.6 283.6,269.6 284.4,269.6 285.2,269.6 286.1,269.6 286.9,269.6 287.7,269.6 288.5,269.6 289.4,269.6 290.2,269.6 291.0,269.6" fill="none" stroke="#e2c088" stroke-width="1.1" stroke-linejoin="round" stroke-linecap="round" />
<polyline points="168.5,282.0 169.3,282.0 170.1,282.0 171.0,282.0 171.8,282.0 172.6,282.0 173.4,282.0 174.3,282.0 175.1,282.0 175.9,282.0 176.7,282.0 177.5,282.0 178.4,282.0 179.2,282.0 180.0,282.0 180.8,282.0 181.7,282.0 182.5,282.0 183.3,282.0 184.1,282.0 184.9,282.0 185.8,281.7 186.6,280.9 187.4,279.9 188.2,278.8 189.1,278.0 189.9,277.2 190.7,276.5 191.5,275.9 192.3,275.6 193.2,275.6 194.0,275.6 194.8,275.6 195.6,275.6 196.5,275.6 197.3,275.5 198.1,275.5 198.9,275.5 199.7,275.5 200.6,275.5 201.4,275.5 202.2,275.5 203.0,275.5 203.9,275.5 204.7,275.5 205.5,275.5 206.3,275.5 207.1,275.5 208.0,275.5 208.8,275.5 209.6,275.5 210.4,275.5 211.3,275.5 212.1,275.5 212.9,275.5 213.7,275.5 214.5,275.5 215.4,275.5 216.2,275.5 217.0,275.5 217.8,275.5 218.7,275.5 219.5,275.5 220.3,275.5 221.1,275.5 221.9,275.5 222.8,275.5 223.6,275.5 224.4,275.5 225.2,275.5 226.1,275.4 226.9,275.4 227.7,275.4 228.5,275.4 229.3,275.4 230.2,275.4 231.0,275.2 231.8,274.7 232.6,274.2 233.4,273.8 234.3,273.5 235.1,273.4 235.9,273.2 236.7,273.1 237.6,273.0 238.4,273.0 239.2,273.0 240.0,273.0 240.8,273.0 241.7,273.0 242.5,273.0 243.3,273.0 244.1,273.0 245.0,273.0 245.8,273.0 246.6,273.0 247.4,273.0 248.2,273.0 249.1,273.0 249.9,273.0 250.7,272.9 251.5,272.9 252.4,272.9 253.2,272.9 254.0,272.9 254.8,272.9 255.6,272.9 256.5,272.9 257.3,272.9 258.1,272.9 258.9,272.9 259.8,272.9 260.6,272.9 261.4,272.9 262.2,272.9 263.0,272.9 263.9,272.9 264.7,272.9 265.5,272.9 266.3,272.9 267.2,272.9 268.0,272.9 268.8,272.9 269.6,272.9 270.4,272.9 271.3,272.9 272.1,272.9 272.9,272.9 273.7,272.9 274.6,272.9 275.4,272.9 276.2,272.9 277.0,272.9 277.8,272.9 278.7,272.9 279.5,272.9 280.3,272.9 281.1,272.9 282.0,272.9 282.8,272.9 283.6,272.9 284.4,272.9 285.2,272.9 286.1,272.9 286.9,272.9 287.7,272.9 288.5,272.9 289.4,272.9 290.2,272.9 291.0,272.9" fill="none" stroke="#c8a0b8" stroke-width="1.1" stroke-linejoin="round" stroke-linecap="round" />
<polyline points="168.5,282.0 169.3,282.0 170.1,282.0 171.0,282.0 171.8,282.0 172.6,282.0 173.4,282.0 174.3,282.0 175.1,282.0 175.9,282.0 176.7,282.0 177.5,282.0 178.4,282.0 179.2,282.0 180.0,282.0 180.8,282.0 181.7,282.0 182.5,282.0 183.3,282.0 184.1,282.0 184.9,282.0 185.8,282.0 186.6,281.9 187.4,281.4 188.2,280.6 189.1,279.8 189.9,279.1 190.7,278.5 191.5,277.8 192.3,277.3 193.2,276.9 194.0,276.9 194.8,276.9 195.6,276.9 196.5,276.9 197.3,276.9 198.1,276.9 198.9,276.9 199.7,276.9 200.6,276.9 201.4,276.9 202.2,276.9 203.0,276.9 203.9,276.9 204.7,276.9 205.5,276.9 206.3,276.9 207.1,276.9 208.0,276.9 208.8,276.9 209.6,276.9 210.4,276.8 211.3,276.8 212.1,276.8 212.9,276.8 213.7,276.8 214.5,276.8 215.4,276.8 216.2,276.8 217.0,276.8 217.8,276.8 218.7,276.8 219.5,276.8 220.3,276.8 221.1,276.8 221.9,276.8 222.8,276.8 223.6,276.8 224.4,276.8 225.2,276.8 226.1,276.8 226.9,276.8 227.7,276.8 228.5,276.8 229.3,276.8 230.2,276.8 231.0,276.7 231.8,276.4 232.6,276.2 233.4,275.9 234.3,275.8 235.1,275.6 235.9,275.5 236.7,275.4 237.6,275.3 238.4,275.3 239.2,275.3 240.0,275.3 240.8,275.3 241.7,275.3 242.5,275.3 243.3,275.3 244.1,275.3 245.0,275.3 245.8,275.3 246.6,275.3 247.4,275.3 248.2,275.3 249.1,275.3 249.9,275.3 250.7,275.3 251.5,275.3 252.4,275.3 253.2,275.3 254.0,275.3 254.8,275.3 255.6,275.3 256.5,275.3 257.3,275.3 258.1,275.3 258.9,275.3 259.8,275.3 260.6,275.3 261.4,275.3 262.2,275.3 263.0,275.3 263.9,275.3 264.7,275.3 265.5,275.3 266.3,275.3 267.2,275.3 268.0,275.3 268.8,275.3 269.6,275.3 270.4,275.3 271.3,275.3 272.1,275.3 272.9,275.3 273.7,275.3 274.6,275.3 275.4,275.3 276.2,275.3 277.0,275.3 277.8,275.3 278.7,275.3 279.5,275.3 280.3,275.3 281.1,275.3 282.0,275.3 282.8,275.3 283.6,275.3 284.4,275.3 285.2,275.3 286.1,275.3 286.9,275.3 287.7,275.3 288.5,275.3 289.4,275.3 290.2,275.3 291.0,275.3" fill="none" stroke="#9a90d0" stroke-width="1.3" stroke-linejoin="round" stroke-linecap="round" />
<polyline points="168.5,282.1 169.0,282.1 169.4,282.1 169.9,282.4 170.4,282.2 170.9,282.1 171.3,282.0 171.8,282.4 172.3,282.2 172.8,282.0 173.2,282.1 173.7,282.2 174.2,282.2 174.6,282.5 175.1,282.3 175.6,282.0 176.1,282.3 176.5,282.3 177.0,282.3 177.5,282.1 178.0,282.0 178.4,282.3 178.9,282.0 179.4,282.0 179.9,281.9 180.3,282.3 180.8,282.2 181.3,281.9 181.7,281.9 182.2,281.9 182.7,281.3 183.2,280.9 183.6,280.7 184.1,280.3 184.6,279.7 185.1,279.3 185.5,278.8 186.0,278.1 186.5,276.7 186.9,275.6 187.4,274.2 187.9,272.8 188.4,270.1 188.8,267.1 189.3,263.6 189.8,260.0 190.3,255.6 190.7,250.4 191.2,245.1 191.7,240.5 192.1,237.3 192.6,234.7 193.1,233.2 193.6,231.1 194.0,229.6 194.5,228.3 195.0,226.1 195.5,222.0 195.9,215.8 196.4,210.9 196.9,206.3 197.4,204.1 197.8,207.0 198.3,211.8 198.8,216.5 199.2,221.4 199.7,225.3 200.2,227.3 200.7,228.2 201.1,229.3 201.6,229.9 202.1,230.4 202.6,230.8 203.0,231.8 203.5,232.4 204.0,232.8 204.4,233.8 204.9,234.6 205.4,236.0 205.9,237.2 206.3,238.2 206.8,239.4 207.3,240.3 207.8,242.1 208.2,243.4 208.7,244.8 209.2,246.3 209.6,247.5 210.1,248.7 210.6,249.9 211.1,251.1 211.5,252.1 212.0,253.3 212.5,254.5 213.0,255.5 213.4,256.5 213.9,257.3 214.4,258.2 214.9,259.2 215.3,260.2 215.8,261.1 216.3,261.6 216.7,262.4 217.2,263.1 217.7,264.0 218.2,264.3 218.6,265.0 219.1,265.5 219.6,265.8 220.1,266.5 220.5,266.8 221.0,266.6 221.5,266.8 221.9,267.2 222.4,267.5 222.9,267.4 223.4,267.7 223.8,267.8 224.3,267.8 224.8,268.1 225.3,268.0 225.7,268.1 226.2,267.9 226.7,268.1 227.1,268.1 227.6,268.0 228.1,267.8 228.6,267.8 229.0,267.7 229.5,267.7 230.0,267.5 230.5,267.5 230.9,267.0 231.4,266.4 231.9,266.1 232.4,265.1 232.8,264.2 233.3,263.4 233.8,262.4 234.2,261.2 234.7,259.9 235.2,258.3 235.7,256.9 236.1,255.2 236.6,253.6 237.1,252.0 237.6,249.5 238.0,246.7 238.5,244.1 239.0,241.7 239.4,240.3 239.9,240.4 240.4,241.1 240.9,241.9 241.3,242.4 241.8,242.3 242.3,241.9 242.8,241.3 243.2,240.7 243.7,240.3 244.2,240.4 244.6,241.0 245.1,242.0 245.6,242.9 246.1,243.8 246.5,244.9 247.0,245.7 247.5,246.4 248.0,247.1 248.4,248.2 248.9,249.6 249.4,250.5 249.9,251.5 250.3,252.6 250.8,253.6 251.3,254.3 251.7,255.5 252.2,256.4 252.7,257.1 253.2,257.6 253.6,258.8 254.1,259.7 254.6,260.5 255.1,261.0 255.5,261.6 256.0,262.3 256.5,263.0 256.9,263.5 257.4,264.2 257.9,264.4 258.4,264.7 258.8,265.3 259.3,265.9 259.8,265.9 260.3,265.9 260.7,266.5 261.2,266.5 261.7,266.6 262.1,267.0 262.6,266.8 263.1,266.9 263.6,267.1 264.0,267.1 264.5,267.1 265.0,267.1 265.5,267.2 265.9,267.5 266.4,267.1 266.9,267.4 267.4,267.5 267.8,267.6 268.3,267.6 268.8,267.6 269.2,267.8 269.7,267.4 270.2,267.7 270.7,267.9 271.1,267.9 271.6,267.8 272.1,268.0 272.6,268.3 273.0,268.4 273.5,268.4 274.0,267.9 274.4,268.2 274.9,268.1 275.4,268.0 275.9,268.1 276.3,268.3 276.8,268.0 277.3,268.2 277.8,268.1 278.2,268.2 278.7,268.2 279.2,268.4 279.6,268.4 280.1,268.3 280.6,268.2 281.1,268.3 281.5,268.5 282.0,268.4 282.5,268.6 283.0,268.8 283.4,268.8 283.9,268.4 284.4,268.6 284.9,268.8 285.3,269.0 285.8,269.0 286.3,269.2 286.7,269.3 287.2,269.2 287.7,269.2 288.2,269.5 288.6,269.4 289.1,269.4 289.6,269.6 290.1,269.1 290.5,269.4 291.0,269.4" fill="none" stroke="#d6a458" stroke-width="1.1" stroke-linejoin="round" stroke-linecap="round" />
<polyline points="168.5,282.5 169.0,282.6 169.4,282.6 169.9,282.6 170.4,282.6 170.9,282.7 171.3,282.7 171.8,282.7 172.3,282.5 172.8,282.6 173.2,282.6 173.7,282.7 174.2,282.8 174.6,282.5 175.1,282.7 175.6,282.6 176.1,282.5 176.5,282.5 177.0,282.6 177.5,282.7 178.0,283.0 178.4,282.6 178.9,282.6 179.4,282.6 179.9,282.6 180.3,282.4 180.8,282.4 181.3,282.4 181.7,282.4 182.2,282.2 182.7,282.2 183.2,282.0 183.6,281.8 184.1,281.4 184.6,280.8 185.1,280.8 185.5,280.5 186.0,280.0 186.5,279.1 186.9,278.1 187.4,277.0 187.9,275.8 188.4,273.9 188.8,271.1 189.3,267.7 189.8,264.1 190.3,260.7 190.7,256.2 191.2,252.1 191.7,247.9 192.1,244.6 192.6,241.8 193.1,239.6 193.6,237.6 194.0,235.5 194.5,233.8 195.0,232.2 195.5,230.3 195.9,227.5 196.4,224.3 196.9,221.6 197.4,220.6 197.8,221.7 198.3,224.0 198.8,226.5 199.2,228.1 199.7,229.6 200.2,230.8 200.7,231.9 201.1,232.5 201.6,232.6 202.1,232.8 202.6,232.9 203.0,233.2 203.5,233.5 204.0,234.1 204.4,235.1 204.9,236.2 205.4,237.6 205.9,238.7 206.3,240.0 206.8,241.0 207.3,242.4 207.8,244.0 208.2,245.4 208.7,246.8 209.2,248.0 209.6,249.2 210.1,250.5 210.6,251.9 211.1,253.1 211.5,254.7 212.0,256.1 212.5,257.3 213.0,258.2 213.4,259.4 213.9,260.3 214.4,261.2 214.9,262.1 215.3,262.9 215.8,263.7 216.3,264.4 216.7,264.9 217.2,265.6 217.7,266.4 218.2,267.1 218.6,267.5 219.1,268.0 219.6,268.5 220.1,268.8 220.5,269.3 221.0,269.7 221.5,270.1 221.9,270.6 222.4,270.8 222.9,271.1 223.4,271.4 223.8,271.6 224.3,271.7 224.8,271.9 225.3,272.0 225.7,272.3 226.2,272.4 226.7,272.4 227.1,272.5 227.6,272.3 228.1,272.4 228.6,272.6 229.0,272.3 229.5,272.3 230.0,272.0 230.5,271.4 230.9,271.0 231.4,270.1 231.9,269.6 232.4,268.9 232.8,268.0 233.3,266.7 233.8,265.6 234.2,264.5 234.7,263.1 235.2,262.1 235.7,260.6 236.1,259.7 236.6,258.5 237.1,256.9 237.6,255.8 238.0,254.5 238.5,253.2 239.0,251.9 239.4,250.3 239.9,249.1 240.4,248.0 240.9,247.2 241.3,246.1 241.8,245.4 242.3,244.8 242.8,244.0 243.2,243.7 243.7,243.5 244.2,243.5 244.6,243.6 245.1,244.0 245.6,244.1 246.1,244.6 246.5,244.9 247.0,245.5 247.5,246.1 248.0,247.0 248.4,248.1 248.9,249.1 249.4,250.1 249.9,250.9 250.3,252.0 250.8,253.1 251.3,254.4 251.7,255.3 252.2,256.4 252.7,257.4 253.2,258.2 253.6,259.3 254.1,260.5 254.6,261.5 255.1,262.6 255.5,263.5 256.0,264.3 256.5,265.4 256.9,266.1 257.4,267.1 257.9,267.9 258.4,268.7 258.8,269.3 259.3,269.9 259.8,270.5 260.3,270.9 260.7,271.3 261.2,271.8 261.7,271.9 262.1,272.0 262.6,272.4 263.1,272.5 263.6,272.9 264.0,273.0 264.5,273.0 265.0,273.3 265.5,273.3 265.9,273.4 266.4,273.7 266.9,273.6 267.4,273.8 267.8,273.9 268.3,274.0 268.8,274.2 269.2,274.3 269.7,274.4 270.2,274.3 270.7,274.5 271.1,274.6 271.6,274.3 272.1,274.6 272.6,274.5 273.0,274.7 273.5,274.6 274.0,274.7 274.4,274.9 274.9,274.8 275.4,274.9 275.9,275.0 276.3,274.7 276.8,275.1 277.3,275.0 277.8,275.1 278.2,275.1 278.7,275.2 279.2,275.2 279.6,275.0 280.1,275.2 280.6,275.0 281.1,275.2 281.5,275.0 282.0,275.3 282.5,275.4 283.0,275.4 283.4,275.3 283.9,275.4 284.4,275.3 284.9,275.5 285.3,275.5 285.8,275.6 286.3,275.5 286.7,275.4 287.2,275.4 287.7,275.3 288.2,275.3 288.6,275.5 289.1,275.7 289.6,275.6 290.1,275.5 290.5,275.7 291.0,275.4" fill="none" stroke="#8a4a60" stroke-width="0.9" stroke-linejoin="round" stroke-linecap="round" />
<polyline points="168.5,282.2 169.0,282.1 169.4,282.3 169.9,282.1 170.4,282.0 170.9,282.2 171.3,282.3 171.8,282.4 172.3,282.5 172.8,282.4 173.2,282.3 173.7,282.3 174.2,282.3 174.6,282.3 175.1,282.1 175.6,282.2 176.1,282.2 176.5,282.1 177.0,282.1 177.5,282.0 178.0,282.3 178.4,282.3 178.9,282.3 179.4,282.3 179.9,282.3 180.3,282.2 180.8,282.1 181.3,282.1 181.7,282.4 182.2,281.9 182.7,281.4 183.2,281.4 183.6,281.1 184.1,280.7 184.6,280.8 185.1,280.4 185.5,279.9 186.0,279.4 186.5,278.5 186.9,277.7 187.4,276.5 187.9,275.3 188.4,273.7 188.8,271.1 189.3,267.2 189.8,263.5 190.3,259.9 190.7,255.9 191.2,251.5 191.7,247.3 192.1,244.1 192.6,241.3 193.1,238.6 193.6,236.0 194.0,234.1 194.5,232.2 195.0,230.9 195.5,229.3 195.9,227.2 196.4,225.0 196.9,223.2 197.4,222.3 197.8,223.0 198.3,224.2 198.8,225.1 199.2,226.6 199.7,228.1 200.2,229.4 200.7,230.6 201.1,231.0 201.6,231.5 202.1,231.6 202.6,231.6 203.0,232.2 203.5,232.5 204.0,233.0 204.4,234.0 204.9,235.2 205.4,236.6 205.9,237.9 206.3,239.2 206.8,240.3 207.3,241.6 207.8,243.2 208.2,244.7 208.7,246.2 209.2,247.5 209.6,248.9 210.1,250.4 210.6,251.8 211.1,252.8 211.5,254.3 212.0,255.5 212.5,256.8 213.0,258.0 213.4,259.1 213.9,260.3 214.4,261.0 214.9,261.7 215.3,262.6 215.8,263.4 216.3,264.0 216.7,264.8 217.2,265.5 217.7,265.9 218.2,266.5 218.6,267.3 219.1,267.8 219.6,268.1 220.1,268.6 220.5,269.0 221.0,269.6 221.5,269.8 221.9,270.2 222.4,270.2 222.9,270.7 223.4,270.9 223.8,271.1 224.3,271.2 224.8,271.4 225.3,271.5 225.7,271.7 226.2,271.7 226.7,271.7 227.1,272.2 227.6,272.1 228.1,272.1 228.6,272.1 229.0,272.0 229.5,271.9 230.0,271.4 230.5,271.1 230.9,270.5 231.4,269.9 231.9,269.1 232.4,268.5 232.8,267.4 233.3,266.3 233.8,265.1 234.2,263.7 234.7,262.8 235.2,261.7 235.7,260.6 236.1,259.2 236.6,257.7 237.1,256.4 237.6,255.2 238.0,253.7 238.5,252.7 239.0,251.5 239.4,250.0 239.9,248.7 240.4,247.6 240.9,246.7 241.3,246.2 241.8,245.3 242.3,244.3 242.8,243.8 243.2,243.1 243.7,242.8 244.2,243.0 244.6,243.2 245.1,243.3 245.6,243.6 246.1,244.0 246.5,244.3 247.0,244.9 247.5,245.7 248.0,246.6 248.4,247.5 248.9,248.7 249.4,249.9 249.9,250.9 250.3,251.6 250.8,252.6 251.3,253.7 251.7,254.8 252.2,255.8 252.7,257.0 253.2,258.1 253.6,259.0 254.1,259.9 254.6,261.1 255.1,261.9 255.5,263.2 256.0,263.9 256.5,264.7 256.9,266.0 257.4,266.6 257.9,267.5 258.4,268.3 258.8,268.9 259.3,269.4 259.8,270.0 260.3,270.7 260.7,271.0 261.2,271.2 261.7,271.6 262.1,271.7 262.6,272.0 263.1,272.3 263.6,272.4 264.0,272.7 264.5,272.8 265.0,272.8 265.5,273.1 265.9,273.1 266.4,273.4 266.9,273.6 267.4,273.7 267.8,273.8 268.3,273.7 268.8,273.7 269.2,273.7 269.7,273.7 270.2,274.0 270.7,273.8 271.1,274.1 271.6,274.1 272.1,274.2 272.6,274.3 273.0,274.4 273.5,274.5 274.0,274.3 274.4,274.3 274.9,274.2 275.4,274.3 275.9,274.4 276.3,274.5 276.8,274.6 277.3,274.8 277.8,274.9 278.2,274.7 278.7,274.7 279.2,274.7 279.6,274.7 280.1,274.9 280.6,275.0 281.1,275.0 281.5,275.0 282.0,274.9 282.5,274.9 283.0,274.9 283.4,274.7 283.9,274.9 284.4,275.0 284.9,275.2 285.3,275.1 285.8,274.9 286.3,275.0 286.7,275.1 287.2,275.1 287.7,275.0 288.2,275.1 288.6,274.9 289.1,275.1 289.6,275.1 290.1,274.9 290.5,275.1 291.0,275.3" fill="none" stroke="#5a48bc" stroke-width="1.15" stroke-linejoin="round" stroke-linecap="round" />
<line x1="248.70" y1="207.00" x2="258.70" y2="207.00" stroke="#5a48bc" stroke-width="1.4" />
<line x1="248.70" y1="214.40" x2="258.70" y2="214.40" stroke="#8a4a60" stroke-width="1.2" />
<line x1="248.70" y1="221.90" x2="258.70" y2="221.90" stroke="#d6a458" stroke-width="1.2" />
<text x="261.20" y="209.00" font-size="5.8" fill="#222" text-anchor="start" font-family='"Liberation Sans", sans-serif' font-weight="normal" >15 K</text>
<text x="261.20" y="216.40" font-size="5.8" fill="#222" text-anchor="start" font-family='"Liberation Sans", sans-serif' font-weight="normal" >50 K</text>
<text x="261.20" y="223.90" font-size="5.8" fill="#222" text-anchor="start" font-family='"Liberation Sans", sans-serif' font-weight="normal" >300 K</text>
<polyline points="168.5,308.0 169.3,308.0 170.1,308.0 171.0,308.0 171.8,308.0 172.6,308.0 173.4,308.0 174.3,308.0 175.1,308.0 175.9,308.0 176.7,308.0 177.5,308.0 178.4,308.0 179.2,308.0 180.0,308.0 180.8,308.0 181.7,308.0 182.5,308.0 183.3,308.0 184.1,308.0 184.9,308.0 185.8,308.0 186.6,308.0 187.4,308.0 188.2,308.0 189.1,308.1 189.9,308.2 190.7,308.3 191.5,308.5 192.3,308.7 193.2,309.0 194.0,309.3 194.8,309.6 195.6,309.7 196.5,309.9 197.3,310.0 198.1,310.0 198.9,309.7 199.7,309.2 200.6,308.8 201.4,308.5 202.2,308.3 203.0,308.1 203.9,308.0 204.7,307.9 205.5,307.8 206.3,307.8 207.1,307.8 208.0,307.8 208.8,307.8 209.6,307.8 210.4,307.8 211.3,307.8 212.1,307.8 212.9,307.8 213.7,307.8 214.5,307.8 215.4,307.8 216.2,307.8 217.0,307.8 217.8,307.8 218.7,307.8 219.5,307.8 220.3,307.8 221.1,307.8 221.9,307.8 222.8,307.8 223.6,307.9 224.4,307.9 225.2,307.9 226.1,307.9 226.9,307.9 227.7,307.9 228.5,307.9 229.3,307.9 230.2,307.9 231.0,307.9 231.8,307.9 232.6,308.0 233.4,308.0 234.3,308.1 235.1,308.1 235.9,308.2 236.7,308.2 237.6,308.2 238.4,308.3 239.2,308.3 240.0,308.3 240.8,308.3 241.7,308.3 242.5,308.2 243.3,308.2 244.1,308.1 245.0,308.1 245.8,308.0 246.6,307.9 247.4,307.9 248.2,307.8 249.1,307.8 249.9,307.8 250.7,307.8 251.5,307.8 252.4,307.8 253.2,307.8 254.0,307.8 254.8,307.8 255.6,307.8 256.5,307.8 257.3,307.8 258.1,307.8 258.9,307.8 259.8,307.8 260.6,307.8 261.4,307.8 262.2,307.8 263.0,307.8 263.9,307.8 264.7,307.8 265.5,307.8 266.3,307.8 267.2,307.8 268.0,307.8 268.8,307.8 269.6,307.8 270.4,307.8 271.3,307.8 272.1,307.8 272.9,307.8 273.7,307.8 274.6,307.8 275.4,307.8 276.2,307.8 277.0,307.8 277.8,307.8 278.7,307.8 279.5,307.8 280.3,307.8 281.1,307.8 282.0,307.8 282.8,307.9 283.6,307.9 284.4,307.9 285.2,307.9 286.1,307.9 286.9,307.9 287.7,307.9 288.5,307.9 289.4,307.9 290.2,307.9 291.0,307.9" fill="none" stroke="#d6a458" stroke-width="1.1" stroke-linejoin="round" stroke-linecap="round" />
<polyline points="168.5,308.2 168.9,308.2 169.3,308.2 169.7,308.2 170.1,308.2 170.5,308.2 171.0,308.2 171.4,308.2 171.8,308.2 172.2,308.2 172.6,308.2 173.0,308.2 173.4,308.2 173.8,308.2 174.2,308.2 174.6,308.2 175.1,308.2 175.5,308.2 175.9,308.2 176.3,308.2 176.7,308.2 177.1,308.2 177.5,308.2 177.9,308.2 178.3,308.2 178.7,308.2 179.2,308.2 179.6,308.2 180.0,308.2 180.4,308.2 180.8,308.2 181.2,308.2 181.6,308.2 182.0,308.2 182.4,308.2 182.8,308.2 183.2,308.2 183.7,308.2 184.1,308.2 184.5,308.2 184.9,308.2 185.3,308.2 185.7,308.2 186.1,308.2 186.5,308.3 186.9,308.3 187.3,308.4 187.8,308.5 188.2,308.6 188.6,308.9 189.0,309.5 189.4,310.4 189.8,311.4 190.2,312.9 190.6,315.6 191.0,318.8 191.4,322.1 191.9,326.0 192.3,327.5 192.7,325.8 193.1,323.2 193.5,321.1 193.9,319.1 194.3,318.2 194.7,319.0 195.1,321.0 195.5,324.9 195.9,334.0 196.4,344.0 196.8,355.2 197.2,362.8 197.6,368.5 198.0,371.0 198.4,368.6 198.8,362.9 199.2,355.0 199.6,341.7 200.0,328.7 200.5,316.5 200.9,306.7 201.3,302.6 201.7,299.7 202.1,297.6 202.5,296.4 202.9,296.3 203.3,296.6 203.7,297.0 204.1,297.5 204.6,298.0 205.0,298.5 205.4,298.9 205.8,299.4 206.2,299.9 206.6,300.4 207.0,300.9 207.4,301.4 207.8,301.8 208.2,302.2 208.7,302.7 209.1,303.1 209.5,303.5 209.9,303.9 210.3,304.3 210.7,304.6 211.1,304.9 211.5,305.2 211.9,305.5 212.3,305.7 212.7,305.9 213.2,306.1 213.6,306.3 214.0,306.5 214.4,306.6 214.8,306.8 215.2,307.0 215.6,307.1 216.0,307.3 216.4,307.4 216.8,307.5 217.3,307.6 217.7,307.7 218.1,307.7 218.5,307.8 218.9,307.8 219.3,307.9 219.7,307.9 220.1,308.0 220.5,308.0 220.9,308.0 221.4,308.1 221.8,308.1 222.2,308.1 222.6,308.1 223.0,308.2 223.4,308.2 223.8,308.2 224.2,308.2 224.6,308.2 225.0,308.2 225.4,308.2 225.9,308.2 226.3,308.2 226.7,308.2 227.1,308.2 227.5,308.2 227.9,308.2 228.3,308.2 228.7,308.2 229.1,308.2 229.5,308.2 230.0,308.2 230.4,308.2 230.8,308.2 231.2,308.2 231.6,308.2 232.0,308.2 232.4,308.3 232.8,308.3 233.2,308.3 233.6,308.3 234.1,308.4 234.5,308.4 234.9,308.5 235.3,308.6 235.7,309.1 236.1,309.9 236.5,310.8 236.9,311.8 237.3,313.2 237.7,315.3 238.1,317.7 238.6,319.7 239.0,320.8 239.4,320.4 239.8,318.5 240.2,315.8 240.6,313.4 241.0,310.8 241.4,308.0 241.8,305.7 242.2,304.1 242.7,302.9 243.1,301.8 243.5,300.9 243.9,300.2 244.3,299.6 244.7,299.1 245.1,298.6 245.5,298.3 245.9,298.0 246.3,298.0 246.8,298.2 247.2,298.5 247.6,299.0 248.0,299.4 248.4,299.9 248.8,300.3 249.2,300.8 249.6,301.3 250.0,301.8 250.4,302.3 250.8,302.8 251.3,303.3 251.7,303.7 252.1,304.1 252.5,304.4 252.9,304.7 253.3,305.0 253.7,305.3 254.1,305.5 254.5,305.8 254.9,306.0 255.4,306.2 255.8,306.4 256.2,306.6 256.6,306.7 257.0,306.9 257.4,307.0 257.8,307.2 258.2,307.3 258.6,307.4 259.0,307.5 259.5,307.6 259.9,307.7 260.3,307.8 260.7,307.8 261.1,307.8 261.5,307.8 261.9,307.8 262.3,307.9 262.7,307.9 263.1,307.9 263.6,307.9 264.0,307.9 264.4,307.9 264.8,307.9 265.2,307.9 265.6,307.9 266.0,307.9 266.4,308.0 266.8,308.0 267.2,308.0 267.6,308.0 268.1,308.0 268.5,308.0 268.9,308.0 269.3,308.0 269.7,308.0 270.1,308.0 270.5,308.0 270.9,308.0 271.3,308.0 271.7,308.0 272.2,308.0 272.6,308.0 273.0,308.0 273.4,308.0 273.8,308.1 274.2,308.1 274.6,308.1 275.0,308.1 275.4,308.1 275.8,308.1 276.3,308.1 276.7,308.1 277.1,308.1 277.5,308.1 277.9,308.1 278.3,308.1 278.7,308.1 279.1,308.1 279.5,308.1 279.9,308.1 280.3,308.1 280.8,308.1 281.2,308.1 281.6,308.1 282.0,308.1 282.4,308.2 282.8,308.2 283.2,308.2 283.6,308.2 284.0,308.2 284.4,308.2 284.9,308.2 285.3,308.2 285.7,308.2 286.1,308.2 286.5,308.2 286.9,308.2 287.3,308.2 287.7,308.2 288.1,308.2 288.5,308.2 289.0,308.2 289.4,308.2 289.8,308.2 290.2,308.2 290.6,308.2 291.0,308.2" fill="none" stroke="#8a4a60" stroke-width="1.0" stroke-linejoin="round" stroke-linecap="round" />
<polyline points="168.7,308.2 169.1,308.2 169.5,308.2 169.9,308.2 170.3,308.2 170.7,308.2 171.2,308.2 171.6,308.2 172.0,308.2 172.4,308.2 172.8,308.2 173.2,308.2 173.6,308.2 174.0,308.2 174.4,308.2 174.8,308.2 175.3,308.2 175.7,308.2 176.1,308.2 176.5,308.2 176.9,308.2 177.3,308.2 177.7,308.2 178.1,308.2 178.5,308.2 178.9,308.2 179.4,308.2 179.8,308.2 180.2,308.2 180.6,308.2 181.0,308.2 181.4,308.2 181.8,308.2 182.2,308.2 182.6,308.2 183.0,308.2 183.4,308.2 183.9,308.2 184.3,308.2 184.7,308.2 185.1,308.2 185.5,308.2 185.9,308.2 186.3,308.2 186.7,308.3 187.1,308.3 187.5,308.4 188.0,308.5 188.4,308.6 188.8,308.9 189.2,309.5 189.6,310.4 190.0,311.4 190.4,312.9 190.8,315.6 191.2,318.8 191.6,322.1 192.1,326.0 192.5,327.5 192.9,325.8 193.3,323.2 193.7,321.1 194.1,319.1 194.5,318.2 194.9,319.0 195.3,321.0 195.7,324.9 196.1,334.0 196.6,344.0 197.0,355.2 197.4,362.8 197.8,368.5 198.2,371.0 198.6,368.6 199.0,362.9 199.4,355.0 199.8,341.7 200.2,328.7 200.7,316.5 201.1,306.7 201.5,302.6 201.9,299.7 202.3,297.6 202.7,296.4 203.1,296.3 203.5,296.6 203.9,297.0 204.3,297.5 204.8,298.0 205.2,298.5 205.6,298.9 206.0,299.4 206.4,299.9 206.8,300.4 207.2,300.9 207.6,301.4 208.0,301.8 208.4,302.2 208.9,302.7 209.3,303.1 209.7,303.5 210.1,303.9 210.5,304.3 210.9,304.6 211.3,304.9 211.7,305.2 212.1,305.5 212.5,305.7 212.9,305.9 213.4,306.1 213.8,306.3 214.2,306.5 214.6,306.6 215.0,306.8 215.4,307.0 215.8,307.1 216.2,307.3 216.6,307.4 217.0,307.5 217.5,307.6 217.9,307.7 218.3,307.7 218.7,307.8 219.1,307.8 219.5,307.9 219.9,307.9 220.3,308.0 220.7,308.0 221.1,308.0 221.6,308.1 222.0,308.1 222.4,308.1 222.8,308.1 223.2,308.2 223.6,308.2 224.0,308.2 224.4,308.2 224.8,308.2 225.2,308.2 225.6,308.2 226.1,308.2 226.5,308.2 226.9,308.2 227.3,308.2 227.7,308.2 228.1,308.2 228.5,308.2 228.9,308.2 229.3,308.2 229.7,308.2 230.2,308.2 230.6,308.2 231.0,308.2 231.4,308.2 231.8,308.2 232.2,308.2 232.6,308.3 233.0,308.3 233.4,308.3 233.8,308.3 234.3,308.4 234.7,308.4 235.1,308.5 235.5,308.6 235.9,309.1 236.3,309.9 236.7,310.8 237.1,311.8 237.5,313.2 237.9,315.3 238.3,317.7 238.8,319.7 239.2,320.8 239.6,320.4 240.0,318.5 240.4,315.8 240.8,313.4 241.2,310.8 241.6,308.0 242.0,305.7 242.4,304.1 242.9,302.9 243.3,301.8 243.7,300.9 244.1,300.2 244.5,299.6 244.9,299.1 245.3,298.6 245.7,298.3 246.1,298.0 246.5,298.0 247.0,298.2 247.4,298.5 247.8,299.0 248.2,299.4 248.6,299.9 249.0,300.3 249.4,300.8 249.8,301.3 250.2,301.8 250.6,302.3 251.0,302.8 251.5,303.3 251.9,303.7 252.3,304.1 252.7,304.4 253.1,304.7 253.5,305.0 253.9,305.3 254.3,305.5 254.7,305.8 255.1,306.0 255.6,306.2 256.0,306.4 256.4,306.6 256.8,306.7 257.2,306.9 257.6,307.0 258.0,307.2 258.4,307.3 258.8,307.4 259.2,307.5 259.7,307.6 260.1,307.7 260.5,307.8 260.9,307.8 261.3,307.8 261.7,307.8 262.1,307.8 262.5,307.9 262.9,307.9 263.3,307.9 263.8,307.9 264.2,307.9 264.6,307.9 265.0,307.9 265.4,307.9 265.8,307.9 266.2,307.9 266.6,308.0 267.0,308.0 267.4,308.0 267.8,308.0 268.3,308.0 268.7,308.0 269.1,308.0 269.5,308.0 269.9,308.0 270.3,308.0 270.7,308.0 271.1,308.0 271.5,308.0 271.9,308.0 272.4,308.0 272.8,308.0 273.2,308.0 273.6,308.0 274.0,308.1 274.4,308.1 274.8,308.1 275.2,308.1 275.6,308.1 276.0,308.1 276.5,308.1 276.9,308.1 277.3,308.1 277.7,308.1 278.1,308.1 278.5,308.1 278.9,308.1 279.3,308.1 279.7,308.1 280.1,308.1 280.5,308.1 281.0,308.1 281.4,308.1 281.8,308.1 282.2,308.1 282.6,308.2 283.0,308.2 283.4,308.2 283.8,308.2 284.2,308.2 284.6,308.2 285.1,308.2 285.5,308.2 285.9,308.2 286.3,308.2 286.7,308.2 287.1,308.2 287.5,308.2 287.9,308.2 288.3,308.2 288.7,308.2 289.2,308.2 289.6,308.2 290.0,308.2 290.4,308.2 290.8,308.2 291.2,308.2" fill="none" stroke="#5a48bc" stroke-width="1.1" stroke-linejoin="round" stroke-linecap="round" />
<text x="295.20" y="193.70" font-size="12.3" fill="#333" text-anchor="start" font-family='"Liberation Serif", serif' font-weight="normal"  textLength="13.9" lengthAdjust="spacingAndGlyphs">(<tspan font-weight="bold">e</tspan>)</text>
<defs><linearGradient id="gxx" x1="327.8" x2="419.6" y1="0" y2="0" gradientUnits="userSpaceOnUse"><stop offset="0" stop-color="#0404fc"/><stop offset="0.21" stop-color="#0404fc"/><stop offset="0.235" stop-color="#4a66f6"/><stop offset="0.248" stop-color="#5a78f8"/><stop offset="0.262" stop-color="#4a66f6"/><stop offset="0.285" stop-color="#0404fc"/><stop offset="0.615" stop-color="#0404fc"/><stop offset="0.648" stop-color="#6a8cf8"/><stop offset="0.672" stop-color="#e8f0ff"/><stop offset="0.694" stop-color="#ffffff"/><stop offset="0.716" stop-color="#e8f0ff"/><stop offset="0.742" stop-color="#6a8cf8"/><stop offset="0.775" stop-color="#0404fc"/><stop offset="1" stop-color="#0404fc"/></linearGradient><linearGradient id="gxy" x1="439.6" x2="530.5" y1="0" y2="0" gradientUnits="userSpaceOnUse"><stop offset="0" stop-color="#0404fc"/><stop offset="0.20" stop-color="#0404fc"/><stop offset="0.222" stop-color="#4a66f6"/><stop offset="0.235" stop-color="#5a76f8"/><stop offset="0.248" stop-color="#4a66f6"/><stop offset="0.27" stop-color="#0404fc"/><stop offset="0.37" stop-color="#0404fc"/><stop offset="0.41" stop-color="#1422f6"/><stop offset="0.45" stop-color="#0404fc"/><stop offset="1" stop-color="#0404fc"/></linearGradient><linearGradient id="gband" x1="0" x2="1" y1="0" y2="0"><stop offset="0" stop-color="#0404fc" stop-opacity="0"/><stop offset="0.25" stop-color="#7a9af8"/><stop offset="0.4" stop-color="#f4f8ff"/><stop offset="0.5" stop-color="#ffffff"/><stop offset="0.6" stop-color="#f4f8ff"/><stop offset="0.75" stop-color="#7a9af8"/><stop offset="1" stop-color="#0404fc" stop-opacity="0"/></linearGradient><linearGradient id="gcbar" x1="0" x2="0" y1="0" y2="1"><stop offset="0" stop-color="#6a3a10"/><stop offset="0.15" stop-color="#b08050"/><stop offset="0.3" stop-color="#f0e8e0"/><stop offset="0.45" stop-color="#ffffff"/><stop offset="0.6" stop-color="#b0c0f8"/><stop offset="0.75" stop-color="#4050f0"/><stop offset="1" stop-color="#0808e0"/></linearGradient></defs>
<rect x="327.80" y="197.40" width="91.80" height="87.60" fill="url(#gxx)" stroke="none" stroke-width="1" />
<rect x="384.60" y="222.50" width="6.50" height="39.00" fill="#f0e0fa" stroke="none" stroke-width="1" opacity="0.55"/>
<ellipse cx="391.4" cy="242" rx="1.3" ry="19" fill="#6e7a40" opacity="0.85"/>
<ellipse cx="391.4" cy="229" rx="1.1" ry="5" fill="#8a5a2a" opacity="0.8"/>
<line x1="327.80" y1="222.00" x2="419.60" y2="222.00" stroke="#e8ecff" stroke-width="1.0" stroke-dasharray="4 2.5"/>
<line x1="327.80" y1="261.30" x2="419.60" y2="261.30" stroke="#e8ecff" stroke-width="1.0" stroke-dasharray="4 2.5"/>
<line x1="332.40" y1="272.00" x2="332.40" y2="208.50" stroke="#d07030" stroke-width="0.9" />
<polygon points="330.6,209.5 332.4,204.5 334.2,209.5" fill="#d07030" stroke="none" stroke-width="1" />
<text x="419.00" y="205.20" font-size="7.0" fill="#f0f4ff" text-anchor="end" font-family='"Liberation Serif", serif' font-weight="normal" >XX</text>
<text x="326.60" y="208.64" font-size="5.9" fill="#222" text-anchor="end" font-family='"Liberation Serif", serif' font-weight="normal" >1.2</text>
<text x="326.60" y="225.92" font-size="5.9" fill="#222" text-anchor="end" font-family='"Liberation Serif", serif' font-weight="normal" >0.6</text>
<text x="326.60" y="243.20" font-size="5.9" fill="#222" text-anchor="end" font-family='"Liberation Serif", serif' font-weight="normal" >0</text>
<text x="326.60" y="260.48" font-size="5.9" fill="#222" text-anchor="end" font-family='"Liberation Serif", serif' font-weight="normal" >-0.6</text>
<text x="326.60" y="277.76" font-size="5.9" fill="#222" text-anchor="end" font-family='"Liberation Serif", serif' font-weight="normal" >-1.2</text>
<text x="336.80" y="291.40" font-size="6.0" fill="#222" text-anchor="middle" font-family='"Liberation Serif", serif' font-weight="normal" >100</text>
<text x="355.45" y="291.40" font-size="6.0" fill="#222" text-anchor="middle" font-family='"Liberation Serif", serif' font-weight="normal" >110</text>
<text x="374.10" y="291.40" font-size="6.0" fill="#222" text-anchor="middle" font-family='"Liberation Serif", serif' font-weight="normal" >120</text>
<text x="392.75" y="291.40" font-size="6.0" fill="#222" text-anchor="middle" font-family='"Liberation Serif", serif' font-weight="normal" >130</text>
<text x="411.40" y="291.40" font-size="6.0" fill="#222" text-anchor="middle" font-family='"Liberation Serif", serif' font-weight="normal" >140</text>
<text x="371.8" y="299.2" font-size="6.2" fill="#222" text-anchor="middle" font-family='"Liberation Serif", serif'>Raman shift (cm<tspan font-size="4" dy="-2">-1</tspan><tspan dy="2">)</tspan></text>
<text x="0" y="0" font-size="6.2" fill="#222" text-anchor="middle" font-family='"Liberation Serif", serif' transform="translate(314.0,240.5) rotate(-90)"><tspan font-style="italic">μ</tspan><tspan font-size="4" dy="1.5">0</tspan><tspan dy="-1.5" font-style="italic">H</tspan> (T)</text>
<rect x="439.60" y="197.30" width="90.90" height="87.70" fill="url(#gxy)" stroke="none" stroke-width="1" />
<rect x="495.2" y="197.3" width="14.4" height="24.3" fill="url(#gband)"/>
<rect x="493.2" y="221.6" width="12.4" height="40.6" fill="url(#gband)"/>
<rect x="496.4" y="262.2" width="11.2" height="22.8" fill="url(#gband)"/>
<rect x="501.40" y="197.30" width="2.20" height="24.30" fill="#8a4a14" stroke="none" stroke-width="1" />
<rect x="498.90" y="222.50" width="1.00" height="39.00" fill="#e0d0b0" stroke="none" stroke-width="1" />
<line x1="439.60" y1="212.80" x2="530.50" y2="212.80" stroke="#e05060" stroke-width="0.9" />
<line x1="439.60" y1="270.10" x2="530.50" y2="270.10" stroke="#e05060" stroke-width="0.9" />
<line x1="439.60" y1="241.40" x2="530.50" y2="241.40" stroke="#4ad040" stroke-width="0.9" />
<line x1="439.60" y1="221.70" x2="530.50" y2="221.70" stroke="#e8ecff" stroke-width="1.0" stroke-dasharray="4 2.5"/>
<line x1="439.60" y1="261.20" x2="530.50" y2="261.20" stroke="#e8ecff" stroke-width="1.0" stroke-dasharray="4 2.5"/>
<line x1="442.90" y1="273.80" x2="442.90" y2="209.50" stroke="#d07030" stroke-width="0.9" />
<polygon points="441.1,210.5 442.9,205.5 444.7,210.5" fill="#d07030" stroke="none" stroke-width="1" />
<text x="528.00" y="205.00" font-size="6.6" fill="#f0f4ff" text-anchor="end" font-family='"Liberation Serif", serif' font-weight="normal" >XY</text>
<text x="448.50" y="291.80" font-size="6.0" fill="#222" text-anchor="middle" font-family='"Liberation Serif", serif' font-weight="normal" >100</text>
<text x="467.30" y="291.80" font-size="6.0" fill="#222" text-anchor="middle" font-family='"Liberation Serif", serif' font-weight="normal" >110</text>
<text x="486.10" y="291.80" font-size="6.0" fill="#222" text-anchor="middle" font-family='"Liberation Serif", serif' font-weight="normal" >120</text>
<text x="504.90" y="291.80" font-size="6.0" fill="#222" text-anchor="middle" font-family='"Liberation Serif", serif' font-weight="normal" >130</text>
<text x="523.70" y="291.80" font-size="6.0" fill="#222" text-anchor="middle" font-family='"Liberation Serif", serif' font-weight="normal" >140</text>
<text x="483.5" y="298.8" font-size="6.2" fill="#222" text-anchor="middle" font-family='"Liberation Serif", serif'>Raman shift (cm<tspan font-size="4" dy="-2">-1</tspan><tspan dy="2">)</tspan></text>
<rect x="532.50" y="197.50" width="2.80" height="86.90" fill="url(#gcbar)" stroke="none" stroke-width="1" />
<text x="535.60" y="193.40" font-size="5.8" fill="#222" text-anchor="middle" font-family='"Liberation Serif", serif' font-weight="normal" font-style="italic">Counts</text>
<text x="536.80" y="200.20" font-size="5.8" fill="#222" text-anchor="start" font-family='"Liberation Serif", serif' font-weight="normal" >620</text>
<text x="537.20" y="285.00" font-size="5.8" fill="#222" text-anchor="start" font-family='"Liberation Serif", serif' font-weight="normal" >-30</text>
<rect x="392.00" y="306.90" width="8.00" height="72.60" fill="#fdf0f6" stroke="none" stroke-width="1" />
<rect x="384.50" y="306.90" width="7.50" height="72.60" fill="#fbe0ee" stroke="none" stroke-width="1" />
<rect x="375.80" y="344.00" width="5.40" height="34.50" fill="#c8f2f0" stroke="none" stroke-width="1" />
<rect x="345.00" y="367.00" width="23.00" height="12.00" fill="#fcecf4" stroke="none" stroke-width="1" />
<rect x="328.20" y="306.40" width="91.80" height="73.60" fill="none" stroke="#555" stroke-width="0.8" />
<line x1="328.20" y1="378.70" x2="330.00" y2="378.70" stroke="#555" stroke-width="0.5" />
<text x="327.00" y="380.70" font-size="5.9" fill="#222" text-anchor="end" font-family='"Liberation Serif", serif' font-weight="normal" >0</text>
<line x1="328.20" y1="359.90" x2="330.00" y2="359.90" stroke="#555" stroke-width="0.5" />
<text x="327.00" y="361.90" font-size="5.9" fill="#222" text-anchor="end" font-family='"Liberation Serif", serif' font-weight="normal" >150</text>
<line x1="328.20" y1="341.11" x2="330.00" y2="341.11" stroke="#555" stroke-width="0.5" />
<text x="327.00" y="343.11" font-size="5.9" fill="#222" text-anchor="end" font-family='"Liberation Serif", serif' font-weight="normal" >300</text>
<line x1="328.20" y1="322.31" x2="330.00" y2="322.31" stroke="#555" stroke-width="0.5" />
<text x="327.00" y="324.31" font-size="5.9" fill="#222" text-anchor="end" font-family='"Liberation Serif", serif' font-weight="normal" >450</text>
<line x1="336.80" y1="380.00" x2="336.80" y2="378.20" stroke="#555" stroke-width="0.5" />
<text x="336.80" y="385.50" font-size="6.0" fill="#222" text-anchor="middle" font-family='"Liberation Serif", serif' font-weight="normal" >100</text>
<line x1="355.45" y1="380.00" x2="355.45" y2="378.20" stroke="#555" stroke-width="0.5" />
<text x="355.45" y="385.50" font-size="6.0" fill="#222" text-anchor="middle" font-family='"Liberation Serif", serif' font-weight="normal" >110</text>
<line x1="374.10" y1="380.00" x2="374.10" y2="378.20" stroke="#555" stroke-width="0.5" />
<text x="374.10" y="385.50" font-size="6.0" fill="#222" text-anchor="middle" font-family='"Liberation Serif", serif' font-weight="normal" >120</text>
<line x1="392.75" y1="380.00" x2="392.75" y2="378.20" stroke="#555" stroke-width="0.5" />
<text x="392.75" y="385.50" font-size="6.0" fill="#222" text-anchor="middle" font-family='"Liberation Serif", serif' font-weight="normal" >130</text>
<line x1="411.40" y1="380.00" x2="411.40" y2="378.20" stroke="#555" stroke-width="0.5" />
<text x="411.40" y="385.50" font-size="6.0" fill="#222" text-anchor="middle" font-family='"Liberation Serif", serif' font-weight="normal" >140</text>
<text x="371.8" y="394.3" font-size="6.2" fill="#222" text-anchor="middle" font-family='"Liberation Serif", serif'>Raman shift (cm<tspan font-size="4" dy="-2">-1</tspan><tspan dy="2">)</tspan></text>
<text x="0" y="0" font-size="5.9" fill="#222" text-anchor="middle" font-family='"Liberation Serif", serif' font-weight="normal" transform="translate(315.60,347.60) rotate(-90)" textLength="31.7" lengthAdjust="spacingAndGlyphs">Intensity (a.u.)</text>
<polyline points="329.3,378.6 329.6,378.1 329.8,378.6 330.1,378.1 330.3,378.3 330.5,377.6 330.8,377.9 331.0,378.3 331.2,377.9 331.5,377.6 331.7,377.4 332.0,377.3 332.2,378.5 332.4,377.9 332.7,378.1 332.9,377.1 333.2,377.4 333.4,378.4 333.6,378.3 333.9,378.3 334.1,378.6 334.4,378.1 334.6,378.5 334.8,378.8 335.1,378.4 335.3,378.4 335.5,379.1 335.8,378.7 336.0,378.3 336.3,378.6 336.5,377.4 336.7,377.5 337.0,378.4 337.2,377.7 337.5,378.0 337.7,379.1 337.9,378.3 338.2,377.5 338.4,378.1 338.6,378.1 338.9,377.6 339.1,377.6 339.4,377.6 339.6,378.4 339.8,378.0 340.1,378.1 340.3,378.3 340.6,378.8 340.8,378.3 341.0,377.9 341.3,379.2 341.5,376.7 341.8,377.3 342.0,377.1 342.2,376.7 342.5,377.3 342.7,377.7 342.9,376.1 343.2,377.2 343.4,375.7 343.7,375.7 343.9,376.4 344.1,375.2 344.4,375.7 344.6,374.6 344.9,374.6 345.1,373.5 345.3,373.7 345.6,373.1 345.8,371.6 346.0,372.5 346.3,370.7 346.5,371.0 346.8,370.0 347.0,370.4 347.2,369.0 347.5,368.2 347.7,368.6 348.0,368.0 348.2,367.7 348.4,368.6 348.7,368.9 348.9,369.2 349.1,369.8 349.4,370.2 349.6,371.0 349.9,370.7 350.1,372.0 350.3,372.6 350.6,373.2 350.8,373.5 351.1,373.2 351.3,374.9 351.5,375.2 351.8,375.9 352.0,376.1 352.3,376.0 352.5,376.4 352.7,376.9 353.0,377.0 353.2,377.1 353.4,377.5 353.7,377.9 353.9,377.5 354.2,377.3 354.4,378.3 354.6,377.0 354.9,377.5 355.1,377.8 355.4,377.1 355.6,377.6 355.8,377.6 356.1,377.7 356.3,378.3 356.5,377.8 356.8,378.4 357.0,376.9 357.3,377.0 357.5,376.8 357.7,376.5 358.0,376.9 358.2,377.6 358.5,376.3 358.7,376.6 358.9,376.4 359.2,375.7 359.4,375.6 359.6,376.1 359.9,376.2 360.1,375.8 360.4,376.7 360.6,375.7 360.8,374.6 361.1,375.7 361.3,374.9 361.6,374.4 361.8,374.4 362.0,374.3 362.3,374.5 362.5,374.3 362.8,374.3 363.0,375.0 363.2,374.6 363.5,375.0 363.7,374.9 363.9,375.3 364.2,375.3 364.4,375.8 364.7,376.3 364.9,376.1 365.1,376.5 365.4,375.9 365.6,376.6 365.9,375.8 366.1,377.1 366.3,376.4 366.6,378.1 366.8,376.9 367.0,377.2 367.3,377.5 367.5,376.8 367.8,377.8 368.0,376.6 368.2,377.6 368.5,377.5 368.7,378.1 369.0,377.4 369.2,377.8 369.4,377.5 369.7,377.6 369.9,377.4 370.2,378.1 370.4,377.8 370.6,377.5 370.9,377.5 371.1,377.8 371.3,377.8 371.6,377.8 371.8,377.9 372.1,377.2 372.3,376.8 372.5,377.6 372.8,377.5 373.0,378.7 373.3,376.7 373.5,377.1 373.7,378.5 374.0,376.5 374.2,377.2 374.4,377.3 374.7,378.0 374.9,377.2 375.2,378.2 375.4,377.1 375.6,376.4 375.9,377.0 376.1,377.7 376.4,376.2 376.6,377.3 376.8,376.3 377.1,376.2 377.3,375.4 377.5,375.8 377.8,375.3 378.0,376.2 378.3,375.0 378.5,374.8 378.7,375.1 379.0,373.5 379.2,372.9 379.5,373.2 379.7,372.5 379.9,371.1 380.2,370.3 380.4,369.0 380.7,369.2 380.9,367.8 381.1,365.8 381.4,365.5 381.6,364.2 381.8,361.6 382.1,360.5 382.3,357.7 382.6,357.1 382.8,354.7 383.0,353.0 383.3,350.9 383.5,348.7 383.8,346.6 384.0,345.6 384.2,342.8 384.5,341.9 384.7,340.0 384.9,337.7 385.2,336.2 385.4,333.6 385.7,332.3 385.9,332.1 386.1,331.3 386.4,330.2 386.6,329.4 386.9,329.2 387.1,329.3 387.3,329.6 387.6,330.3 387.8,331.1 388.1,331.2 388.3,332.9 388.5,334.9 388.8,335.4 389.0,337.6 389.2,340.4 389.5,341.4 389.7,342.7 390.0,345.1 390.2,347.6 390.4,349.6 390.7,351.8 390.9,352.4 391.2,354.8 391.4,356.6 391.6,358.1 391.9,360.7 392.1,362.6 392.3,363.8 392.6,364.7 392.8,366.5 393.1,367.1 393.3,368.7 393.5,369.6 393.8,369.8 394.0,371.3 394.3,371.8 394.5,372.3 394.7,373.6 395.0,374.1 395.2,374.1 395.4,373.4 395.7,375.9 395.9,375.4 396.2,375.4 396.4,375.5 396.6,375.6 396.9,376.2 397.1,375.5 397.4,377.0 397.6,376.8 397.8,377.4 398.1,377.3 398.3,376.6 398.6,376.0 398.8,377.5 399.0,376.8 399.3,377.0 399.5,377.3 399.7,377.4 400.0,376.5 400.2,377.0 400.5,376.9 400.7,377.0 400.9,377.2 401.2,377.7 401.4,377.4 401.7,377.2 401.9,376.1 402.1,377.3 402.4,378.0 402.6,377.3 402.8,376.9 403.1,377.8 403.3,378.3 403.6,377.0 403.8,378.4 404.0,378.2 404.3,377.6 404.5,376.8 404.8,377.9 405.0,377.9 405.2,378.0 405.5,377.8 405.7,377.7 406.0,378.5 406.2,378.3 406.4,377.4 406.7,377.7 406.9,377.2 407.1,377.5 407.4,377.8 407.6,377.9 407.9,377.9 408.1,377.5 408.3,377.7 408.6,378.0 408.8,377.3 409.1,378.0 409.3,377.6 409.5,378.1 409.8,377.3 410.0,378.0 410.2,377.8 410.5,378.1 410.7,379.0 411.0,377.6 411.2,378.5 411.4,377.3 411.7,377.9 411.9,377.5 412.2,377.5 412.4,377.9 412.6,378.2 412.9,378.1 413.1,378.1 413.3,377.8 413.6,378.2 413.8,377.3 414.1,377.9 414.3,378.0 414.5,377.3 414.8,377.5 415.0,378.0 415.3,378.2 415.5,378.0 415.7,377.6 416.0,377.6 416.2,377.6 416.5,377.2 416.7,377.4 416.9,379.1 417.2,377.4 417.4,378.0 417.6,377.7 417.9,378.5 418.1,377.3 418.4,379.4 418.6,378.4 418.8,378.2 419.1,378.0 419.3,379.0" fill="none" stroke="#86b840" stroke-width="1.1" stroke-linejoin="round" stroke-linecap="round" />
<polyline points="329.3,378.4 329.6,378.7 329.8,377.6 330.1,378.7 330.3,379.0 330.5,377.8 330.8,377.7 331.0,378.6 331.2,378.4 331.5,376.7 331.7,378.6 332.0,378.4 332.2,377.5 332.4,377.7 332.7,377.3 332.9,377.7 333.2,378.3 333.4,378.0 333.6,378.4 333.9,377.7 334.1,377.8 334.4,378.7 334.6,377.8 334.8,378.5 335.1,378.0 335.3,378.3 335.5,377.9 335.8,379.4 336.0,377.8 336.3,378.8 336.5,377.5 336.7,378.6 337.0,378.3 337.2,378.4 337.5,377.9 337.7,377.5 337.9,377.9 338.2,378.0 338.4,377.9 338.6,378.1 338.9,378.0 339.1,378.4 339.4,378.0 339.6,377.2 339.8,377.4 340.1,378.8 340.3,378.0 340.6,377.8 340.8,378.1 341.0,378.2 341.3,377.8 341.5,377.2 341.8,377.1 342.0,377.6 342.2,377.1 342.5,377.5 342.7,377.1 342.9,377.2 343.2,377.7 343.4,377.0 343.7,376.2 343.9,375.5 344.1,375.6 344.4,374.3 344.6,374.4 344.9,374.3 345.1,374.0 345.3,372.1 345.6,372.7 345.8,372.6 346.0,371.2 346.3,371.0 346.5,369.8 346.8,370.4 347.0,368.6 347.2,368.2 347.5,368.6 347.7,368.7 348.0,368.0 348.2,367.5 348.4,368.6 348.7,368.7 348.9,368.4 349.1,369.1 349.4,370.0 349.6,370.4 349.9,371.1 350.1,372.0 350.3,372.5 350.6,374.4 350.8,373.6 351.1,373.7 351.3,374.3 351.5,375.4 351.8,374.7 352.0,375.2 352.3,376.7 352.5,376.6 352.7,377.0 353.0,377.4 353.2,376.6 353.4,376.8 353.7,377.7 353.9,377.6 354.2,377.4 354.4,377.8 354.6,377.2 354.9,377.5 355.1,377.5 355.4,378.5 355.6,377.1 355.8,378.9 356.1,377.7 356.3,377.1 356.5,377.6 356.8,378.0 357.0,377.8 357.3,378.1 357.5,376.8 357.7,377.1 358.0,377.7 358.2,376.2 358.5,377.2 358.7,376.6 358.9,377.6 359.2,376.5 359.4,376.0 359.6,376.1 359.9,376.4 360.1,375.2 360.4,376.1 360.6,374.7 360.8,375.3 361.1,375.1 361.3,374.8 361.6,374.7 361.8,373.8 362.0,374.7 362.3,375.5 362.5,374.6 362.8,375.3 363.0,375.2 363.2,375.3 363.5,375.2 363.7,374.8 363.9,375.5 364.2,376.0 364.4,376.4 364.7,376.5 364.9,376.6 365.1,376.4 365.4,376.6 365.6,376.4 365.9,378.1 366.1,376.7 366.3,376.9 366.6,378.5 366.8,376.9 367.0,377.5 367.3,378.3 367.5,377.5 367.8,378.3 368.0,377.8 368.2,377.5 368.5,377.2 368.7,377.3 369.0,377.9 369.2,378.9 369.4,378.2 369.7,377.7 369.9,377.5 370.2,377.8 370.4,378.4 370.6,378.0 370.9,378.4 371.1,377.9 371.3,378.8 371.6,377.9 371.8,377.4 372.1,378.4 372.3,377.3 372.5,379.1 372.8,377.5 373.0,378.4 373.3,378.0 373.5,377.7 373.7,377.5 374.0,378.7 374.2,377.7 374.4,378.7 374.7,377.7 374.9,377.9 375.2,377.6 375.4,378.2 375.6,377.9 375.9,378.3 376.1,377.7 376.4,377.3 376.6,377.4 376.8,377.7 377.1,377.0 377.3,377.3 377.5,377.0 377.8,377.4 378.0,377.7 378.3,377.3 378.5,376.9 378.7,377.6 379.0,377.2 379.2,377.8 379.5,376.8 379.7,377.6 379.9,378.2 380.2,376.8 380.4,377.9 380.7,376.5 380.9,377.4 381.1,377.7 381.4,377.5 381.6,376.6 381.8,377.1 382.1,376.3 382.3,377.1 382.6,376.0 382.8,376.2 383.0,375.9 383.3,374.0 383.5,376.0 383.8,374.5 384.0,375.2 384.2,374.0 384.5,373.6 384.7,372.4 384.9,371.0 385.2,370.3 385.4,367.9 385.7,366.8 385.9,363.8 386.1,362.2 386.4,359.3 386.6,356.2 386.9,353.1 387.1,348.9 387.3,344.2 387.6,341.7 387.8,337.9 388.1,333.5 388.3,329.2 388.5,325.7 388.8,320.3 389.0,318.8 389.2,315.1 389.5,313.5 389.7,310.7 390.0,309.3 390.2,310.2 390.4,310.4 390.7,312.2 390.9,313.2 391.2,316.3 391.4,319.8 391.6,323.6 391.9,326.9 392.1,331.7 392.3,335.5 392.6,340.5 392.8,343.8 393.1,347.3 393.3,351.8 393.5,354.2 393.8,358.3 394.0,361.1 394.3,363.4 394.5,365.1 394.7,367.3 395.0,368.3 395.2,371.8 395.4,371.8 395.7,371.9 395.9,373.8 396.2,373.4 396.4,374.8 396.6,373.8 396.9,376.6 397.1,375.2 397.4,375.3 397.6,375.7 397.8,377.3 398.1,376.1 398.3,377.9 398.6,376.8 398.8,376.3 399.0,376.5 399.3,376.8 399.5,376.8 399.7,376.8 400.0,377.9 400.2,378.2 400.5,377.3 400.7,377.4 400.9,377.6 401.2,377.5 401.4,377.2 401.7,377.6 401.9,378.0 402.1,377.4 402.4,377.6 402.6,377.8 402.8,377.5 403.1,378.0 403.3,377.6 403.6,377.5 403.8,377.5 404.0,377.8 404.3,377.7 404.5,377.5 404.8,376.8 405.0,377.1 405.2,378.1 405.5,377.8 405.7,379.1 406.0,378.1 406.2,378.0 406.4,377.6 406.7,377.7 406.9,377.2 407.1,377.8 407.4,377.6 407.6,378.5 407.9,378.0 408.1,378.2 408.3,377.4 408.6,378.5 408.8,378.7 409.1,378.5 409.3,378.0 409.5,378.2 409.8,377.6 410.0,376.8 410.2,378.1 410.5,378.6 410.7,377.9 411.0,377.6 411.2,377.1 411.4,378.3 411.7,376.9 411.9,377.9 412.2,378.1 412.4,377.9 412.6,378.0 412.9,378.0 413.1,378.7 413.3,378.3 413.6,378.8 413.8,378.1 414.1,378.3 414.3,377.7 414.5,378.1 414.8,378.6 415.0,378.4 415.3,378.2 415.5,378.3 415.7,377.4 416.0,378.5 416.2,378.6 416.5,378.1 416.7,378.6 416.9,378.0 417.2,378.3 417.4,378.1 417.6,378.2 417.9,377.9 418.1,378.3 418.4,377.9 418.6,378.4 418.8,378.6 419.1,378.0 419.3,377.6" fill="none" stroke="#b04a50" stroke-width="1.0" stroke-linejoin="round" stroke-linecap="round" />
<polyline points="329.3,377.9 329.6,379.4 329.8,378.4 330.1,378.0 330.3,377.7 330.5,378.0 330.8,377.4 331.0,378.2 331.2,378.7 331.5,378.0 331.7,378.3 332.0,377.8 332.2,378.6 332.4,378.5 332.7,378.6 332.9,378.2 333.2,378.8 333.4,377.5 333.6,378.1 333.9,378.5 334.1,378.3 334.4,378.1 334.6,377.1 334.8,377.8 335.1,378.2 335.3,379.0 335.5,378.1 335.8,378.0 336.0,377.6 336.3,378.6 336.5,378.1 336.7,378.3 337.0,378.1 337.2,377.9 337.5,378.4 337.7,378.1 337.9,378.5 338.2,378.6 338.4,377.5 338.6,376.7 338.9,377.4 339.1,378.6 339.4,377.4 339.6,377.9 339.8,378.0 340.1,377.6 340.3,377.6 340.6,378.0 340.8,377.3 341.0,377.9 341.3,377.3 341.5,377.1 341.8,379.1 342.0,377.3 342.2,376.9 342.5,377.4 342.7,377.3 342.9,377.2 343.2,376.9 343.4,376.3 343.7,377.0 343.9,375.6 344.1,375.8 344.4,374.7 344.6,375.0 344.9,373.5 345.1,373.6 345.3,373.3 345.6,372.9 345.8,372.6 346.0,372.3 346.3,371.6 346.5,369.2 346.8,368.5 347.0,368.1 347.2,369.2 347.5,368.1 347.7,368.8 348.0,369.0 348.2,368.8 348.4,369.5 348.7,368.0 348.9,369.3 349.1,369.3 349.4,370.1 349.6,370.4 349.9,371.4 350.1,371.9 350.3,372.4 350.6,373.1 350.8,373.6 351.1,374.5 351.3,375.2 351.5,375.1 351.8,376.4 352.0,375.4 352.3,376.8 352.5,375.8 352.7,377.4 353.0,376.7 353.2,377.4 353.4,377.0 353.7,378.7 353.9,378.0 354.2,377.5 354.4,378.4 354.6,377.1 354.9,378.5 355.1,377.4 355.4,378.5 355.6,377.5 355.8,376.4 356.1,377.7 356.3,377.5 356.5,376.9 356.8,377.8 357.0,377.4 357.3,377.9 357.5,377.5 357.7,377.4 358.0,377.8 358.2,377.5 358.5,376.7 358.7,376.7 358.9,377.1 359.2,376.0 359.4,376.5 359.6,376.2 359.9,376.8 360.1,376.8 360.4,376.6 360.6,375.5 360.8,376.2 361.1,374.9 361.3,374.8 361.6,374.7 361.8,374.3 362.0,374.8 362.3,374.7 362.5,374.6 362.8,374.3 363.0,375.6 363.2,375.3 363.5,374.5 363.7,376.1 363.9,374.8 364.2,375.9 364.4,375.4 364.7,375.9 364.9,375.9 365.1,376.6 365.4,376.7 365.6,376.8 365.9,377.9 366.1,376.8 366.3,377.2 366.6,377.3 366.8,376.6 367.0,377.3 367.3,378.7 367.5,377.7 367.8,378.3 368.0,377.8 368.2,377.9 368.5,377.6 368.7,377.6 369.0,377.5 369.2,377.4 369.4,378.3 369.7,377.7 369.9,377.1 370.2,377.7 370.4,377.4 370.6,378.8 370.9,377.9 371.1,378.2 371.3,377.5 371.6,377.1 371.8,377.5 372.1,378.5 372.3,378.2 372.5,377.8 372.8,377.8 373.0,377.2 373.3,377.7 373.5,377.5 373.7,377.5 374.0,376.8 374.2,378.4 374.4,377.5 374.7,377.3 374.9,378.3 375.2,377.1 375.4,378.0 375.6,379.2 375.9,378.6 376.1,377.3 376.4,377.2 376.6,377.5 376.8,376.9 377.1,377.0 377.3,377.4 377.5,377.9 377.8,377.8 378.0,377.2 378.3,378.0 378.5,376.9 378.7,377.6 379.0,377.0 379.2,377.7 379.5,377.6 379.7,377.8 379.9,377.4 380.2,376.7 380.4,377.1 380.7,377.0 380.9,377.2 381.1,376.8 381.4,377.0 381.6,376.9 381.8,376.5 382.1,377.2 382.3,376.0 382.6,376.1 382.8,375.4 383.0,374.6 383.3,375.0 383.5,375.3 383.8,373.5 384.0,372.7 384.2,372.8 384.5,371.9 384.7,371.5 384.9,369.8 385.2,367.7 385.4,367.0 385.7,366.7 385.9,363.6 386.1,362.8 386.4,360.8 386.6,359.4 386.9,357.0 387.1,354.0 387.3,351.4 387.6,349.3 387.8,347.4 388.1,346.7 388.3,342.6 388.5,341.3 388.8,338.4 389.0,337.1 389.2,335.3 389.5,334.5 389.7,332.1 390.0,331.6 390.2,331.6 390.4,332.0 390.7,332.5 390.9,332.5 391.2,333.4 391.4,334.8 391.6,337.9 391.9,339.0 392.1,340.2 392.3,342.6 392.6,345.6 392.8,347.2 393.1,350.6 393.3,351.8 393.5,354.2 393.8,356.1 394.0,358.8 394.3,361.0 394.5,363.0 394.7,364.4 395.0,367.0 395.2,368.1 395.4,368.7 395.7,369.9 395.9,370.4 396.2,372.1 396.4,371.7 396.6,374.3 396.9,374.3 397.1,375.1 397.4,375.0 397.6,375.7 397.8,376.1 398.1,375.8 398.3,376.1 398.6,376.0 398.8,376.5 399.0,376.3 399.3,377.3 399.5,376.6 399.7,377.8 400.0,377.0 400.2,377.1 400.5,376.8 400.7,378.1 400.9,377.4 401.2,377.6 401.4,377.5 401.7,378.4 401.9,377.3 402.1,377.4 402.4,377.5 402.6,378.2 402.8,377.7 403.1,377.2 403.3,377.0 403.6,378.1 403.8,377.6 404.0,377.9 404.3,377.8 404.5,378.2 404.8,377.2 405.0,377.9 405.2,378.7 405.5,377.4 405.7,377.3 406.0,378.6 406.2,378.1 406.4,377.7 406.7,377.8 406.9,376.9 407.1,377.8 407.4,377.6 407.6,376.9 407.9,378.3 408.1,376.9 408.3,378.3 408.6,378.1 408.8,378.6 409.1,379.1 409.3,377.7 409.5,377.9 409.8,376.9 410.0,377.7 410.2,377.1 410.5,377.8 410.7,377.4 411.0,378.5 411.2,378.1 411.4,377.9 411.7,377.2 411.9,377.7 412.2,376.7 412.4,378.4 412.6,378.7 412.9,377.2 413.1,376.0 413.3,377.2 413.6,378.4 413.8,378.7 414.1,377.7 414.3,378.3 414.5,377.8 414.8,377.5 415.0,377.8 415.3,377.2 415.5,378.7 415.7,377.4 416.0,378.1 416.2,378.2 416.5,377.9 416.7,378.2 416.9,377.5 417.2,378.7 417.4,378.2 417.6,377.2 417.9,377.5 418.1,378.8 418.4,378.4 418.6,378.5 418.8,378.7 419.1,379.4 419.3,378.7" fill="none" stroke="#5a46d8" stroke-width="1.3" stroke-linejoin="round" stroke-linecap="round" />
<circle cx="383.8" cy="373.5" r="0.9" fill="#4030c0"/>
<circle cx="384.5" cy="371.9" r="0.9" fill="#4030c0"/>
<circle cx="385.2" cy="367.7" r="0.9" fill="#4030c0"/>
<circle cx="385.9" cy="363.6" r="0.9" fill="#4030c0"/>
<circle cx="386.6" cy="359.4" r="0.9" fill="#4030c0"/>
<circle cx="387.3" cy="351.4" r="0.9" fill="#4030c0"/>
<circle cx="388.1" cy="346.7" r="0.9" fill="#4030c0"/>
<circle cx="388.8" cy="338.4" r="0.9" fill="#4030c0"/>
<circle cx="389.5" cy="334.5" r="0.9" fill="#4030c0"/>
<circle cx="390.2" cy="331.6" r="0.9" fill="#4030c0"/>
<circle cx="390.9" cy="332.5" r="0.9" fill="#4030c0"/>
<circle cx="391.6" cy="337.9" r="0.9" fill="#4030c0"/>
<circle cx="392.3" cy="342.6" r="0.9" fill="#4030c0"/>
<circle cx="393.1" cy="350.6" r="0.9" fill="#4030c0"/>
<circle cx="393.8" cy="356.1" r="0.9" fill="#4030c0"/>
<circle cx="394.5" cy="363.0" r="0.9" fill="#4030c0"/>
<circle cx="395.2" cy="368.1" r="0.9" fill="#4030c0"/>
<circle cx="395.9" cy="370.4" r="0.9" fill="#4030c0"/>
<circle cx="385.9" cy="363.8" r="0.8" fill="#803040"/>
<circle cx="386.6" cy="356.2" r="0.8" fill="#803040"/>
<circle cx="387.3" cy="344.2" r="0.8" fill="#803040"/>
<circle cx="388.1" cy="333.5" r="0.8" fill="#803040"/>
<circle cx="388.8" cy="320.3" r="0.8" fill="#803040"/>
<circle cx="389.5" cy="313.5" r="0.8" fill="#803040"/>
<circle cx="390.2" cy="310.2" r="0.8" fill="#803040"/>
<circle cx="390.9" cy="313.2" r="0.8" fill="#803040"/>
<circle cx="391.6" cy="323.6" r="0.8" fill="#803040"/>
<circle cx="392.3" cy="335.5" r="0.8" fill="#803040"/>
<circle cx="393.1" cy="347.3" r="0.8" fill="#803040"/>
<circle cx="393.8" cy="358.3" r="0.8" fill="#803040"/>
<circle cx="394.5" cy="365.1" r="0.8" fill="#803040"/>
<line x1="330.90" y1="309.80" x2="340.20" y2="309.80" stroke="#b04a50" stroke-width="1.0" />
<line x1="330.90" y1="316.00" x2="340.20" y2="316.00" stroke="#86b840" stroke-width="1.0" />
<line x1="330.90" y1="321.30" x2="340.20" y2="321.30" stroke="#5a46d8" stroke-width="1.2" />
<circle cx="336.4" cy="309.8" r="0.9" fill="#803040"/>
<circle cx="336.4" cy="316.0" r="0.9" fill="#5a8a20"/>
<circle cx="336.4" cy="321.3" r="0.9" fill="#4030c0"/>
<text x="342.20" y="311.70" font-size="5.6" fill="#222" text-anchor="start" font-family='"Liberation Serif", serif' font-weight="normal" >1 T</text>
<text x="342.20" y="317.90" font-size="5.6" fill="#222" text-anchor="start" font-family='"Liberation Serif", serif' font-weight="normal" >0 T</text>
<text x="341.60" y="323.20" font-size="5.6" fill="#222" text-anchor="start" font-family='"Liberation Serif", serif' font-weight="normal" >-1T</text>
<text x="411.60" y="313.20" font-size="6.0" fill="#222" text-anchor="middle" font-family='"Liberation Serif", serif' font-weight="bold" >XY</text>
<line x1="407.20" y1="319.20" x2="416.20" y2="319.20" stroke="#6a66d8" stroke-width="0.8" />
<polygon points="406.6,319.2 408.6,317.8 408.6,320.6" fill="#6a66d8" stroke="none" stroke-width="1" />
<polygon points="416.8,319.2 414.8,317.8 414.8,320.6" fill="#6a66d8" stroke="none" stroke-width="1" />
<polygon points="411.7,315.2 410.5,317.2 412.9,317.2" fill="#8a88d8" stroke="none" stroke-width="1" />
<polygon points="411.7,323.4 410.5,321.4 412.9,321.4" fill="#8a88d8" stroke="none" stroke-width="1" />
<rect x="441.00" y="365.50" width="24.00" height="14.20" fill="#fbe2ee" stroke="none" stroke-width="1" />
<rect x="465.50" y="336.00" width="40.50" height="14.00" fill="#fbe2ee" stroke="none" stroke-width="1" />
<rect x="506.00" y="306.30" width="25.00" height="19.50" fill="#fbe2ee" stroke="none" stroke-width="1" />
<rect x="506.00" y="360.00" width="25.00" height="18.50" fill="#d4f4f6" stroke="none" stroke-width="1" />
<rect x="440.00" y="305.80" width="90.80" height="74.20" fill="none" stroke="#555" stroke-width="0.8" />
<line x1="440.00" y1="307.10" x2="441.80" y2="307.10" stroke="#555" stroke-width="0.5" />
<text x="438.60" y="309.10" font-size="5.9" fill="#d8646c" text-anchor="end" font-family='"Liberation Serif", serif' font-weight="normal" >1</text>
<line x1="440.00" y1="325.30" x2="441.80" y2="325.30" stroke="#555" stroke-width="0.5" />
<text x="438.60" y="327.30" font-size="5.9" fill="#d8646c" text-anchor="end" font-family='"Liberation Serif", serif' font-weight="normal" >0.5</text>
<line x1="440.00" y1="343.50" x2="441.80" y2="343.50" stroke="#555" stroke-width="0.5" />
<text x="438.60" y="345.50" font-size="5.9" fill="#d8646c" text-anchor="end" font-family='"Liberation Serif", serif' font-weight="normal" >0</text>
<line x1="440.00" y1="361.70" x2="441.80" y2="361.70" stroke="#555" stroke-width="0.5" />
<text x="438.60" y="363.70" font-size="5.9" fill="#d8646c" text-anchor="end" font-family='"Liberation Serif", serif' font-weight="normal" >-0.5</text>
<line x1="440.00" y1="379.90" x2="441.80" y2="379.90" stroke="#555" stroke-width="0.5" />
<text x="438.60" y="381.90" font-size="5.9" fill="#d8646c" text-anchor="end" font-family='"Liberation Serif", serif' font-weight="normal" >-1</text>
<line x1="530.80" y1="318.80" x2="529.00" y2="318.80" stroke="#555" stroke-width="0.5" />
<text x="534.00" y="320.80" font-size="5.9" fill="#5a5ad8" text-anchor="start" font-family='"Liberation Serif", serif' font-weight="normal" >0.6</text>
<line x1="530.80" y1="338.40" x2="529.00" y2="338.40" stroke="#555" stroke-width="0.5" />
<text x="534.00" y="340.40" font-size="5.9" fill="#5a5ad8" text-anchor="start" font-family='"Liberation Serif", serif' font-weight="normal" >0.4</text>
<line x1="530.80" y1="358.00" x2="529.00" y2="358.00" stroke="#555" stroke-width="0.5" />
<text x="534.00" y="360.00" font-size="5.9" fill="#5a5ad8" text-anchor="start" font-family='"Liberation Serif", serif' font-weight="normal" >0.2</text>
<line x1="530.80" y1="377.60" x2="529.00" y2="377.60" stroke="#555" stroke-width="0.5" />
<text x="534.00" y="379.60" font-size="5.9" fill="#5a5ad8" text-anchor="start" font-family='"Liberation Serif", serif' font-weight="normal" >0</text>
<line x1="442.20" y1="380.00" x2="442.20" y2="378.20" stroke="#555" stroke-width="0.5" />
<text x="442.20" y="386.90" font-size="6.0" fill="#222" text-anchor="middle" font-family='"Liberation Serif", serif' font-weight="normal" >-1.6</text>
<line x1="463.80" y1="380.00" x2="463.80" y2="378.20" stroke="#555" stroke-width="0.5" />
<text x="463.80" y="386.90" font-size="6.0" fill="#222" text-anchor="middle" font-family='"Liberation Serif", serif' font-weight="normal" >-0.8</text>
<line x1="485.40" y1="380.00" x2="485.40" y2="378.20" stroke="#555" stroke-width="0.5" />
<text x="485.40" y="386.90" font-size="6.0" fill="#222" text-anchor="middle" font-family='"Liberation Serif", serif' font-weight="normal" >0</text>
<line x1="507.00" y1="380.00" x2="507.00" y2="378.20" stroke="#555" stroke-width="0.5" />
<text x="507.00" y="386.90" font-size="6.0" fill="#222" text-anchor="middle" font-family='"Liberation Serif", serif' font-weight="normal" >0.8</text>
<line x1="528.60" y1="380.00" x2="528.60" y2="378.20" stroke="#555" stroke-width="0.5" />
<text x="528.60" y="386.90" font-size="6.0" fill="#222" text-anchor="middle" font-family='"Liberation Serif", serif' font-weight="normal" >1.6</text>
<text x="485.3" y="393.6" font-size="6.2" fill="#222" text-anchor="middle" font-family='"Liberation Serif", serif'><tspan font-style="italic">μ</tspan><tspan font-size="4" dy="1.5">0</tspan><tspan dy="-1.5" font-style="italic">H</tspan> (T)</text>
<text x="0" y="0" font-size="6.0" fill="#d8646c" text-anchor="middle" font-family='"Liberation Serif", serif' font-weight="normal" transform="translate(429.30,340.30) rotate(-90)" textLength="23" lengthAdjust="spacingAndGlyphs">RMCD (%)</text>
<text x="0" y="0" font-size="6.0" fill="#5a5ad8" text-anchor="middle" font-family='"Liberation Serif", serif' font-weight="normal" transform="translate(547.70,346.40) rotate(-90)" textLength="36.7" lengthAdjust="spacingAndGlyphs">Intensity ratio</text>
<polyline points="445.2,372.6 448.0,373.2 451.0,372.4 454.0,373.0 457.0,372.2 460.0,372.8 463.0,372.4 464.6,371.0" fill="none" stroke="#3a50e0" stroke-width="0.9" stroke-linejoin="round" stroke-linecap="round" />
<circle cx="445.2" cy="372.6" r="0.85" fill="#3a50e0"/>
<circle cx="448.0" cy="373.2" r="0.85" fill="#3a50e0"/>
<circle cx="451.0" cy="372.4" r="0.85" fill="#3a50e0"/>
<circle cx="454.0" cy="373.0" r="0.85" fill="#3a50e0"/>
<circle cx="457.0" cy="372.2" r="0.85" fill="#3a50e0"/>
<circle cx="460.0" cy="372.8" r="0.85" fill="#3a50e0"/>
<circle cx="463.0" cy="372.4" r="0.85" fill="#3a50e0"/>
<circle cx="464.6" cy="371.0" r="0.85" fill="#3a50e0"/>
<polyline points="464.8,371.0 465.3,330.0 466.5,312.0 470.0,311.8 474.0,319.5 478.0,312.5 482.0,320.5 486.0,313.5 490.0,321.0 494.0,313.0 498.0,320.5 502.0,314.0 504.6,318.0" fill="none" stroke="#3a50e0" stroke-width="0.9" stroke-linejoin="round" stroke-linecap="round" />
<circle cx="464.8" cy="371.0" r="0.85" fill="#3a50e0"/>
<circle cx="465.3" cy="330.0" r="0.85" fill="#3a50e0"/>
<circle cx="466.5" cy="312.0" r="0.85" fill="#3a50e0"/>
<circle cx="470.0" cy="311.8" r="0.85" fill="#3a50e0"/>
<circle cx="474.0" cy="319.5" r="0.85" fill="#3a50e0"/>
<circle cx="478.0" cy="312.5" r="0.85" fill="#3a50e0"/>
<circle cx="482.0" cy="320.5" r="0.85" fill="#3a50e0"/>
<circle cx="486.0" cy="313.5" r="0.85" fill="#3a50e0"/>
<circle cx="490.0" cy="321.0" r="0.85" fill="#3a50e0"/>
<circle cx="494.0" cy="313.0" r="0.85" fill="#3a50e0"/>
<circle cx="498.0" cy="320.5" r="0.85" fill="#3a50e0"/>
<circle cx="502.0" cy="314.0" r="0.85" fill="#3a50e0"/>
<circle cx="504.6" cy="318.0" r="0.85" fill="#3a50e0"/>
<polyline points="466.2,326.0 468.5,323.5 472.0,323.5 476.0,316.5 480.0,314.0 484.0,320.5 488.0,315.0 492.0,321.5 496.0,314.0 500.0,321.0 503.5,313.0 505.0,330.0 505.6,368.0" fill="none" stroke="#3a50e0" stroke-width="0.9" stroke-linejoin="round" stroke-linecap="round" />
<circle cx="466.2" cy="326.0" r="0.85" fill="#3a50e0"/>
<circle cx="468.5" cy="323.5" r="0.85" fill="#3a50e0"/>
<circle cx="472.0" cy="323.5" r="0.85" fill="#3a50e0"/>
<circle cx="476.0" cy="316.5" r="0.85" fill="#3a50e0"/>
<circle cx="480.0" cy="314.0" r="0.85" fill="#3a50e0"/>
<circle cx="484.0" cy="320.5" r="0.85" fill="#3a50e0"/>
<circle cx="488.0" cy="315.0" r="0.85" fill="#3a50e0"/>
<circle cx="492.0" cy="321.5" r="0.85" fill="#3a50e0"/>
<circle cx="496.0" cy="314.0" r="0.85" fill="#3a50e0"/>
<circle cx="500.0" cy="321.0" r="0.85" fill="#3a50e0"/>
<circle cx="503.5" cy="313.0" r="0.85" fill="#3a50e0"/>
<circle cx="505.0" cy="330.0" r="0.85" fill="#3a50e0"/>
<circle cx="505.6" cy="368.0" r="0.85" fill="#3a50e0"/>
<polyline points="505.6,368.0 507.0,371.8 510.0,372.6 513.0,371.8 516.0,372.4 519.0,372.0 522.0,371.8 525.0,372.2 527.6,372.4" fill="none" stroke="#3a50e0" stroke-width="0.9" stroke-linejoin="round" stroke-linecap="round" />
<circle cx="505.6" cy="368.0" r="0.85" fill="#3a50e0"/>
<circle cx="507.0" cy="371.8" r="0.85" fill="#3a50e0"/>
<circle cx="510.0" cy="372.6" r="0.85" fill="#3a50e0"/>
<circle cx="513.0" cy="371.8" r="0.85" fill="#3a50e0"/>
<circle cx="516.0" cy="372.4" r="0.85" fill="#3a50e0"/>
<circle cx="519.0" cy="372.0" r="0.85" fill="#3a50e0"/>
<circle cx="522.0" cy="371.8" r="0.85" fill="#3a50e0"/>
<circle cx="525.0" cy="372.2" r="0.85" fill="#3a50e0"/>
<circle cx="527.6" cy="372.4" r="0.85" fill="#3a50e0"/>
<polyline points="505.2,366.0 506.5,373.8 509.0,374.6 512.0,373.6 515.0,373.2 520.0,372.8 527.6,372.4" fill="none" stroke="#3a50e0" stroke-width="0.9" stroke-linejoin="round" stroke-linecap="round" />
<circle cx="505.2" cy="366.0" r="0.85" fill="#3a50e0"/>
<circle cx="506.5" cy="373.8" r="0.85" fill="#3a50e0"/>
<circle cx="509.0" cy="374.6" r="0.85" fill="#3a50e0"/>
<circle cx="512.0" cy="373.6" r="0.85" fill="#3a50e0"/>
<circle cx="515.0" cy="373.2" r="0.85" fill="#3a50e0"/>
<circle cx="520.0" cy="372.8" r="0.85" fill="#3a50e0"/>
<circle cx="527.6" cy="372.4" r="0.85" fill="#3a50e0"/>
<line x1="527.60" y1="366.00" x2="527.60" y2="378.50" stroke="#3a50e0" stroke-width="0.7" />
<line x1="464.80" y1="371.00" x2="464.80" y2="378.50" stroke="#3a50e0" stroke-width="0.7" />
<polyline points="445.4,373.4 446.3,373.6 447.2,373.3 448.1,373.3 449.0,373.6 449.9,373.6 450.8,373.5 451.7,372.7 452.6,373.1 453.5,373.2 454.4,373.7 455.3,373.4 456.2,373.2 457.1,373.5 458.0,373.5 458.9,372.8 459.8,373.6 460.7,373.2 461.6,373.4 462.5,373.6 463.4,372.9 464.3,373.9" fill="none" stroke="#8a3a18" stroke-width="2.4" stroke-linejoin="round" stroke-linecap="round" />
<polyline points="466.3,341.6 467.2,341.7 468.1,342.0 469.0,342.1 469.9,341.6 470.8,342.2 471.7,341.1 472.6,341.4 473.5,341.3 474.4,341.5 475.3,342.0 476.2,341.7 477.1,342.2 478.0,340.9 478.9,341.4 479.8,342.1 480.7,341.6 481.6,341.5 482.5,340.6 483.4,342.0 484.3,341.1 485.2,341.9 486.1,341.1 487.0,341.4 487.9,342.5 488.8,341.1 489.7,341.2 490.6,341.6 491.5,340.7 492.4,341.7 493.3,341.7 494.2,341.5 495.1,341.2 496.0,341.6 496.9,341.3 497.8,341.5 498.7,341.2 499.6,342.0 500.5,341.5 501.4,342.2 502.3,341.2 503.2,341.5 504.1,341.3" fill="none" stroke="#8a3a18" stroke-width="2.4" stroke-linejoin="round" stroke-linecap="round" />
<polyline points="506.4,310.4 507.3,311.0 508.2,311.3 509.1,310.4 510.0,310.5 510.9,310.9 511.8,310.9 512.7,310.6 513.6,310.4 514.5,311.1 515.4,311.1 516.3,310.1 517.2,310.1 518.1,311.0 519.0,310.8 519.9,310.3 520.8,310.6 521.7,310.8 522.6,311.2 523.5,311.0 524.4,311.0 525.3,311.0 526.2,310.8 527.1,310.7 528.0,310.7" fill="none" stroke="#8a3a18" stroke-width="2.4" stroke-linejoin="round" stroke-linecap="round" />
<circle cx="445.4" cy="373.4" r="1.0" fill="#c88a4a"/>
<circle cx="446.3" cy="373.6" r="1.0" fill="#c88a4a"/>
<circle cx="447.2" cy="373.3" r="1.0" fill="#c88a4a"/>
<circle cx="448.1" cy="373.3" r="1.0" fill="#c88a4a"/>
<circle cx="449.0" cy="373.6" r="1.0" fill="#c88a4a"/>
<circle cx="449.9" cy="373.6" r="1.0" fill="#c88a4a"/>
<circle cx="450.8" cy="373.5" r="1.0" fill="#c88a4a"/>
<circle cx="451.7" cy="372.7" r="1.0" fill="#c88a4a"/>
<circle cx="452.6" cy="373.1" r="1.0" fill="#c88a4a"/>
<circle cx="453.5" cy="373.2" r="1.0" fill="#c88a4a"/>
<circle cx="454.4" cy="373.7" r="1.0" fill="#c88a4a"/>
<circle cx="455.3" cy="373.4" r="1.0" fill="#c88a4a"/>
<circle cx="456.2" cy="373.2" r="1.0" fill="#c88a4a"/>
<circle cx="457.1" cy="373.5" r="1.0" fill="#c88a4a"/>
<circle cx="458.0" cy="373.5" r="1.0" fill="#c88a4a"/>
<circle cx="458.9" cy="372.8" r="1.0" fill="#c88a4a"/>
<circle cx="459.8" cy="373.6" r="1.0" fill="#c88a4a"/>
<circle cx="460.7" cy="373.2" r="1.0" fill="#c88a4a"/>
<circle cx="461.6" cy="373.4" r="1.0" fill="#c88a4a"/>
<circle cx="462.5" cy="373.6" r="1.0" fill="#c88a4a"/>
<circle cx="463.4" cy="372.9" r="1.0" fill="#c88a4a"/>
<circle cx="464.3" cy="373.9" r="1.0" fill="#c88a4a"/>
<circle cx="466.3" cy="341.6" r="1.0" fill="#c88a4a"/>
<circle cx="467.2" cy="341.7" r="1.0" fill="#c88a4a"/>
<circle cx="468.1" cy="342.0" r="1.0" fill="#c88a4a"/>
<circle cx="469.0" cy="342.1" r="1.0" fill="#c88a4a"/>
<circle cx="469.9" cy="341.6" r="1.0" fill="#c88a4a"/>
<circle cx="470.8" cy="342.2" r="1.0" fill="#c88a4a"/>
<circle cx="471.7" cy="341.1" r="1.0" fill="#c88a4a"/>
<circle cx="472.6" cy="341.4" r="1.0" fill="#c88a4a"/>
<circle cx="473.5" cy="341.3" r="1.0" fill="#c88a4a"/>
<circle cx="474.4" cy="341.5" r="1.0" fill="#c88a4a"/>
<circle cx="475.3" cy="342.0" r="1.0" fill="#c88a4a"/>
<circle cx="476.2" cy="341.7" r="1.0" fill="#c88a4a"/>
<circle cx="477.1" cy="342.2" r="1.0" fill="#c88a4a"/>
<circle cx="478.0" cy="340.9" r="1.0" fill="#c88a4a"/>
<circle cx="478.9" cy="341.4" r="1.0" fill="#c88a4a"/>
<circle cx="479.8" cy="342.1" r="1.0" fill="#c88a4a"/>
<circle cx="480.7" cy="341.6" r="1.0" fill="#c88a4a"/>
<circle cx="481.6" cy="341.5" r="1.0" fill="#c88a4a"/>
<circle cx="482.5" cy="340.6" r="1.0" fill="#c88a4a"/>
<circle cx="483.4" cy="342.0" r="1.0" fill="#c88a4a"/>
<circle cx="484.3" cy="341.1" r="1.0" fill="#c88a4a"/>
<circle cx="485.2" cy="341.9" r="1.0" fill="#c88a4a"/>
<circle cx="486.1" cy="341.1" r="1.0" fill="#c88a4a"/>
<circle cx="487.0" cy="341.4" r="1.0" fill="#c88a4a"/>
<circle cx="487.9" cy="342.5" r="1.0" fill="#c88a4a"/>
<circle cx="488.8" cy="341.1" r="1.0" fill="#c88a4a"/>
<circle cx="489.7" cy="341.2" r="1.0" fill="#c88a4a"/>
<circle cx="490.6" cy="341.6" r="1.0" fill="#c88a4a"/>
<circle cx="491.5" cy="340.7" r="1.0" fill="#c88a4a"/>
<circle cx="492.4" cy="341.7" r="1.0" fill="#c88a4a"/>
<circle cx="493.3" cy="341.7" r="1.0" fill="#c88a4a"/>
<circle cx="494.2" cy="341.5" r="1.0" fill="#c88a4a"/>
<circle cx="495.1" cy="341.2" r="1.0" fill="#c88a4a"/>
<circle cx="496.0" cy="341.6" r="1.0" fill="#c88a4a"/>
<circle cx="496.9" cy="341.3" r="1.0" fill="#c88a4a"/>
<circle cx="497.8" cy="341.5" r="1.0" fill="#c88a4a"/>
<circle cx="498.7" cy="341.2" r="1.0" fill="#c88a4a"/>
<circle cx="499.6" cy="342.0" r="1.0" fill="#c88a4a"/>
<circle cx="500.5" cy="341.5" r="1.0" fill="#c88a4a"/>
<circle cx="501.4" cy="342.2" r="1.0" fill="#c88a4a"/>
<circle cx="502.3" cy="341.2" r="1.0" fill="#c88a4a"/>
<circle cx="503.2" cy="341.5" r="1.0" fill="#c88a4a"/>
<circle cx="504.1" cy="341.3" r="1.0" fill="#c88a4a"/>
<circle cx="506.4" cy="310.4" r="1.0" fill="#c88a4a"/>
<circle cx="507.3" cy="311.0" r="1.0" fill="#c88a4a"/>
<circle cx="508.2" cy="311.3" r="1.0" fill="#c88a4a"/>
<circle cx="509.1" cy="310.4" r="1.0" fill="#c88a4a"/>
<circle cx="510.0" cy="310.5" r="1.0" fill="#c88a4a"/>
<circle cx="510.9" cy="310.9" r="1.0" fill="#c88a4a"/>
<circle cx="511.8" cy="310.9" r="1.0" fill="#c88a4a"/>
<circle cx="512.7" cy="310.6" r="1.0" fill="#c88a4a"/>
<circle cx="513.6" cy="310.4" r="1.0" fill="#c88a4a"/>
<circle cx="514.5" cy="311.1" r="1.0" fill="#c88a4a"/>
<circle cx="515.4" cy="311.1" r="1.0" fill="#c88a4a"/>
<circle cx="516.3" cy="310.1" r="1.0" fill="#c88a4a"/>
<circle cx="517.2" cy="310.1" r="1.0" fill="#c88a4a"/>
<circle cx="518.1" cy="311.0" r="1.0" fill="#c88a4a"/>
<circle cx="519.0" cy="310.8" r="1.0" fill="#c88a4a"/>
<circle cx="519.9" cy="310.3" r="1.0" fill="#c88a4a"/>
<circle cx="520.8" cy="310.6" r="1.0" fill="#c88a4a"/>
<circle cx="521.7" cy="310.8" r="1.0" fill="#c88a4a"/>
<circle cx="522.6" cy="311.2" r="1.0" fill="#c88a4a"/>
<circle cx="523.5" cy="311.0" r="1.0" fill="#c88a4a"/>
<circle cx="524.4" cy="311.0" r="1.0" fill="#c88a4a"/>
<circle cx="525.3" cy="311.0" r="1.0" fill="#c88a4a"/>
<circle cx="526.2" cy="310.8" r="1.0" fill="#c88a4a"/>
<circle cx="527.1" cy="310.7" r="1.0" fill="#c88a4a"/>
<circle cx="528.0" cy="310.7" r="1.0" fill="#c88a4a"/>
<circle cx="465.1" cy="370.5" r="1.15" fill="#d8a870" stroke="#9a5a28" stroke-width="0.5"/>
<circle cx="465.6" cy="368.2" r="1.15" fill="#d8a870" stroke="#9a5a28" stroke-width="0.5"/>
<circle cx="465.6" cy="365.9" r="1.15" fill="#d8a870" stroke="#9a5a28" stroke-width="0.5"/>
<circle cx="465.4" cy="363.6" r="1.15" fill="#d8a870" stroke="#9a5a28" stroke-width="0.5"/>
<circle cx="465.7" cy="361.3" r="1.15" fill="#d8a870" stroke="#9a5a28" stroke-width="0.5"/>
<circle cx="465.2" cy="359.0" r="1.15" fill="#d8a870" stroke="#9a5a28" stroke-width="0.5"/>
<circle cx="465.1" cy="356.7" r="1.15" fill="#d8a870" stroke="#9a5a28" stroke-width="0.5"/>
<circle cx="465.4" cy="354.4" r="1.15" fill="#d8a870" stroke="#9a5a28" stroke-width="0.5"/>
<circle cx="465.2" cy="352.1" r="1.15" fill="#d8a870" stroke="#9a5a28" stroke-width="0.5"/>
<circle cx="465.4" cy="349.8" r="1.15" fill="#d8a870" stroke="#9a5a28" stroke-width="0.5"/>
<circle cx="465.5" cy="347.5" r="1.15" fill="#d8a870" stroke="#9a5a28" stroke-width="0.5"/>
<circle cx="465.8" cy="345.2" r="1.15" fill="#d8a870" stroke="#9a5a28" stroke-width="0.5"/>
<circle cx="505.6" cy="339.5" r="1.15" fill="#d8a870" stroke="#9a5a28" stroke-width="0.5"/>
<circle cx="505.8" cy="337.2" r="1.15" fill="#d8a870" stroke="#9a5a28" stroke-width="0.5"/>
<circle cx="505.7" cy="334.9" r="1.15" fill="#d8a870" stroke="#9a5a28" stroke-width="0.5"/>
<circle cx="505.9" cy="332.6" r="1.15" fill="#d8a870" stroke="#9a5a28" stroke-width="0.5"/>
<circle cx="505.6" cy="330.3" r="1.15" fill="#d8a870" stroke="#9a5a28" stroke-width="0.5"/>
<circle cx="505.1" cy="328.0" r="1.15" fill="#d8a870" stroke="#9a5a28" stroke-width="0.5"/>
<circle cx="505.5" cy="325.7" r="1.15" fill="#d8a870" stroke="#9a5a28" stroke-width="0.5"/>
<circle cx="505.8" cy="323.4" r="1.15" fill="#d8a870" stroke="#9a5a28" stroke-width="0.5"/>
<circle cx="505.7" cy="321.1" r="1.15" fill="#d8a870" stroke="#9a5a28" stroke-width="0.5"/>
<circle cx="505.5" cy="318.8" r="1.15" fill="#d8a870" stroke="#9a5a28" stroke-width="0.5"/>
<circle cx="505.5" cy="316.5" r="1.15" fill="#d8a870" stroke="#9a5a28" stroke-width="0.5"/>
<circle cx="505.5" cy="314.2" r="1.15" fill="#d8a870" stroke="#9a5a28" stroke-width="0.5"/>
<circle cx="505.1" cy="311.9" r="1.15" fill="#d8a870" stroke="#9a5a28" stroke-width="0.5"/>
<line x1="445.1" y1="356.1" x2="453.5" y2="356.1" stroke="#d8a040" stroke-width="0.8"/><line x1="446.7" y1="353.5" x2="446.7" y2="358.7" stroke="#4a2ad8" stroke-width="0.9"/><polygon points="445.6,357.3 447.8,357.3 446.7,358.9" fill="#4a2ad8"/><line x1="449.3" y1="353.5" x2="449.3" y2="358.7" stroke="#4a2ad8" stroke-width="0.9"/><polygon points="448.2,357.3 450.4,357.3 449.3,358.9" fill="#4a2ad8"/><line x1="451.9" y1="353.5" x2="451.9" y2="358.7" stroke="#4a2ad8" stroke-width="0.9"/><polygon points="450.8,357.3 453.0,357.3 451.9,358.9" fill="#4a2ad8"/><line x1="445.1" y1="363.3" x2="453.5" y2="363.3" stroke="#d8a040" stroke-width="0.8"/><line x1="446.7" y1="360.7" x2="446.7" y2="365.9" stroke="#4a2ad8" stroke-width="0.9"/><polygon points="445.6,364.5 447.8,364.5 446.7,366.1" fill="#4a2ad8"/><line x1="449.3" y1="360.7" x2="449.3" y2="365.9" stroke="#4a2ad8" stroke-width="0.9"/><polygon points="448.2,364.5 450.4,364.5 449.3,366.1" fill="#4a2ad8"/><line x1="451.9" y1="360.7" x2="451.9" y2="365.9" stroke="#4a2ad8" stroke-width="0.9"/><polygon points="450.8,364.5 453.0,364.5 451.9,366.1" fill="#4a2ad8"/>
<line x1="481.1" y1="328.3" x2="489.5" y2="328.3" stroke="#d8a040" stroke-width="0.8"/><line x1="482.7" y1="325.7" x2="482.7" y2="330.9" stroke="#c08a30" stroke-width="0.9"/><polygon points="481.6,327.1 483.8,327.1 482.7,325.5" fill="#c08a30"/><line x1="485.3" y1="325.7" x2="485.3" y2="330.9" stroke="#c08a30" stroke-width="0.9"/><polygon points="484.2,327.1 486.4,327.1 485.3,325.5" fill="#c08a30"/><line x1="487.9" y1="325.7" x2="487.9" y2="330.9" stroke="#c08a30" stroke-width="0.9"/><polygon points="486.8,327.1 489.0,327.1 487.9,325.5" fill="#c08a30"/><line x1="481.1" y1="335.5" x2="489.5" y2="335.5" stroke="#d8a040" stroke-width="0.8"/><line x1="482.7" y1="332.9" x2="482.7" y2="338.1" stroke="#7a2ad0" stroke-width="0.9"/><polygon points="481.6,336.7 483.8,336.7 482.7,338.3" fill="#7a2ad0"/><line x1="485.3" y1="332.9" x2="485.3" y2="338.1" stroke="#7a2ad0" stroke-width="0.9"/><polygon points="484.2,336.7 486.4,336.7 485.3,338.3" fill="#7a2ad0"/><line x1="487.9" y1="332.9" x2="487.9" y2="338.1" stroke="#7a2ad0" stroke-width="0.9"/><polygon points="486.8,336.7 489.0,336.7 487.9,338.3" fill="#7a2ad0"/>
<line x1="481.1" y1="350.7" x2="489.5" y2="350.7" stroke="#d8a040" stroke-width="0.8"/><line x1="482.7" y1="348.1" x2="482.7" y2="353.3" stroke="#5a2ad8" stroke-width="0.9"/><polygon points="481.6,351.9 483.8,351.9 482.7,353.5" fill="#5a2ad8"/><line x1="485.3" y1="348.1" x2="485.3" y2="353.3" stroke="#5a2ad8" stroke-width="0.9"/><polygon points="484.2,351.9 486.4,351.9 485.3,353.5" fill="#5a2ad8"/><line x1="487.9" y1="348.1" x2="487.9" y2="353.3" stroke="#5a2ad8" stroke-width="0.9"/><polygon points="486.8,351.9 489.0,351.9 487.9,353.5" fill="#5a2ad8"/><line x1="481.1" y1="357.9" x2="489.5" y2="357.9" stroke="#d8a040" stroke-width="0.8"/><line x1="482.7" y1="355.3" x2="482.7" y2="360.5" stroke="#c08a30" stroke-width="0.9"/><polygon points="481.6,356.7 483.8,356.7 482.7,355.1" fill="#c08a30"/><line x1="485.3" y1="355.3" x2="485.3" y2="360.5" stroke="#c08a30" stroke-width="0.9"/><polygon points="484.2,356.7 486.4,356.7 485.3,355.1" fill="#c08a30"/><line x1="487.9" y1="355.3" x2="487.9" y2="360.5" stroke="#c08a30" stroke-width="0.9"/><polygon points="486.8,356.7 489.0,356.7 487.9,355.1" fill="#c08a30"/>
<line x1="514.4" y1="316.5" x2="522.8" y2="316.5" stroke="#d8a040" stroke-width="0.8"/><line x1="516.0" y1="313.9" x2="516.0" y2="319.1" stroke="#c08a30" stroke-width="0.9"/><polygon points="514.9,315.3 517.1,315.3 516.0,313.7" fill="#c08a30"/><line x1="518.6" y1="313.9" x2="518.6" y2="319.1" stroke="#c08a30" stroke-width="0.9"/><polygon points="517.5,315.3 519.7,315.3 518.6,313.7" fill="#c08a30"/><line x1="521.2" y1="313.9" x2="521.2" y2="319.1" stroke="#c08a30" stroke-width="0.9"/><polygon points="520.1,315.3 522.3,315.3 521.2,313.7" fill="#c08a30"/><line x1="514.4" y1="323.7" x2="522.8" y2="323.7" stroke="#d8a040" stroke-width="0.8"/><line x1="516.0" y1="321.1" x2="516.0" y2="326.3" stroke="#c08a30" stroke-width="0.9"/><polygon points="514.9,322.5 517.1,322.5 516.0,320.9" fill="#c08a30"/><line x1="518.6" y1="321.1" x2="518.6" y2="326.3" stroke="#c08a30" stroke-width="0.9"/><polygon points="517.5,322.5 519.7,322.5 518.6,320.9" fill="#c08a30"/><line x1="521.2" y1="321.1" x2="521.2" y2="326.3" stroke="#c08a30" stroke-width="0.9"/><polygon points="520.1,322.5 522.3,322.5 521.2,320.9" fill="#c08a30"/>
</svg>
</body></html>
